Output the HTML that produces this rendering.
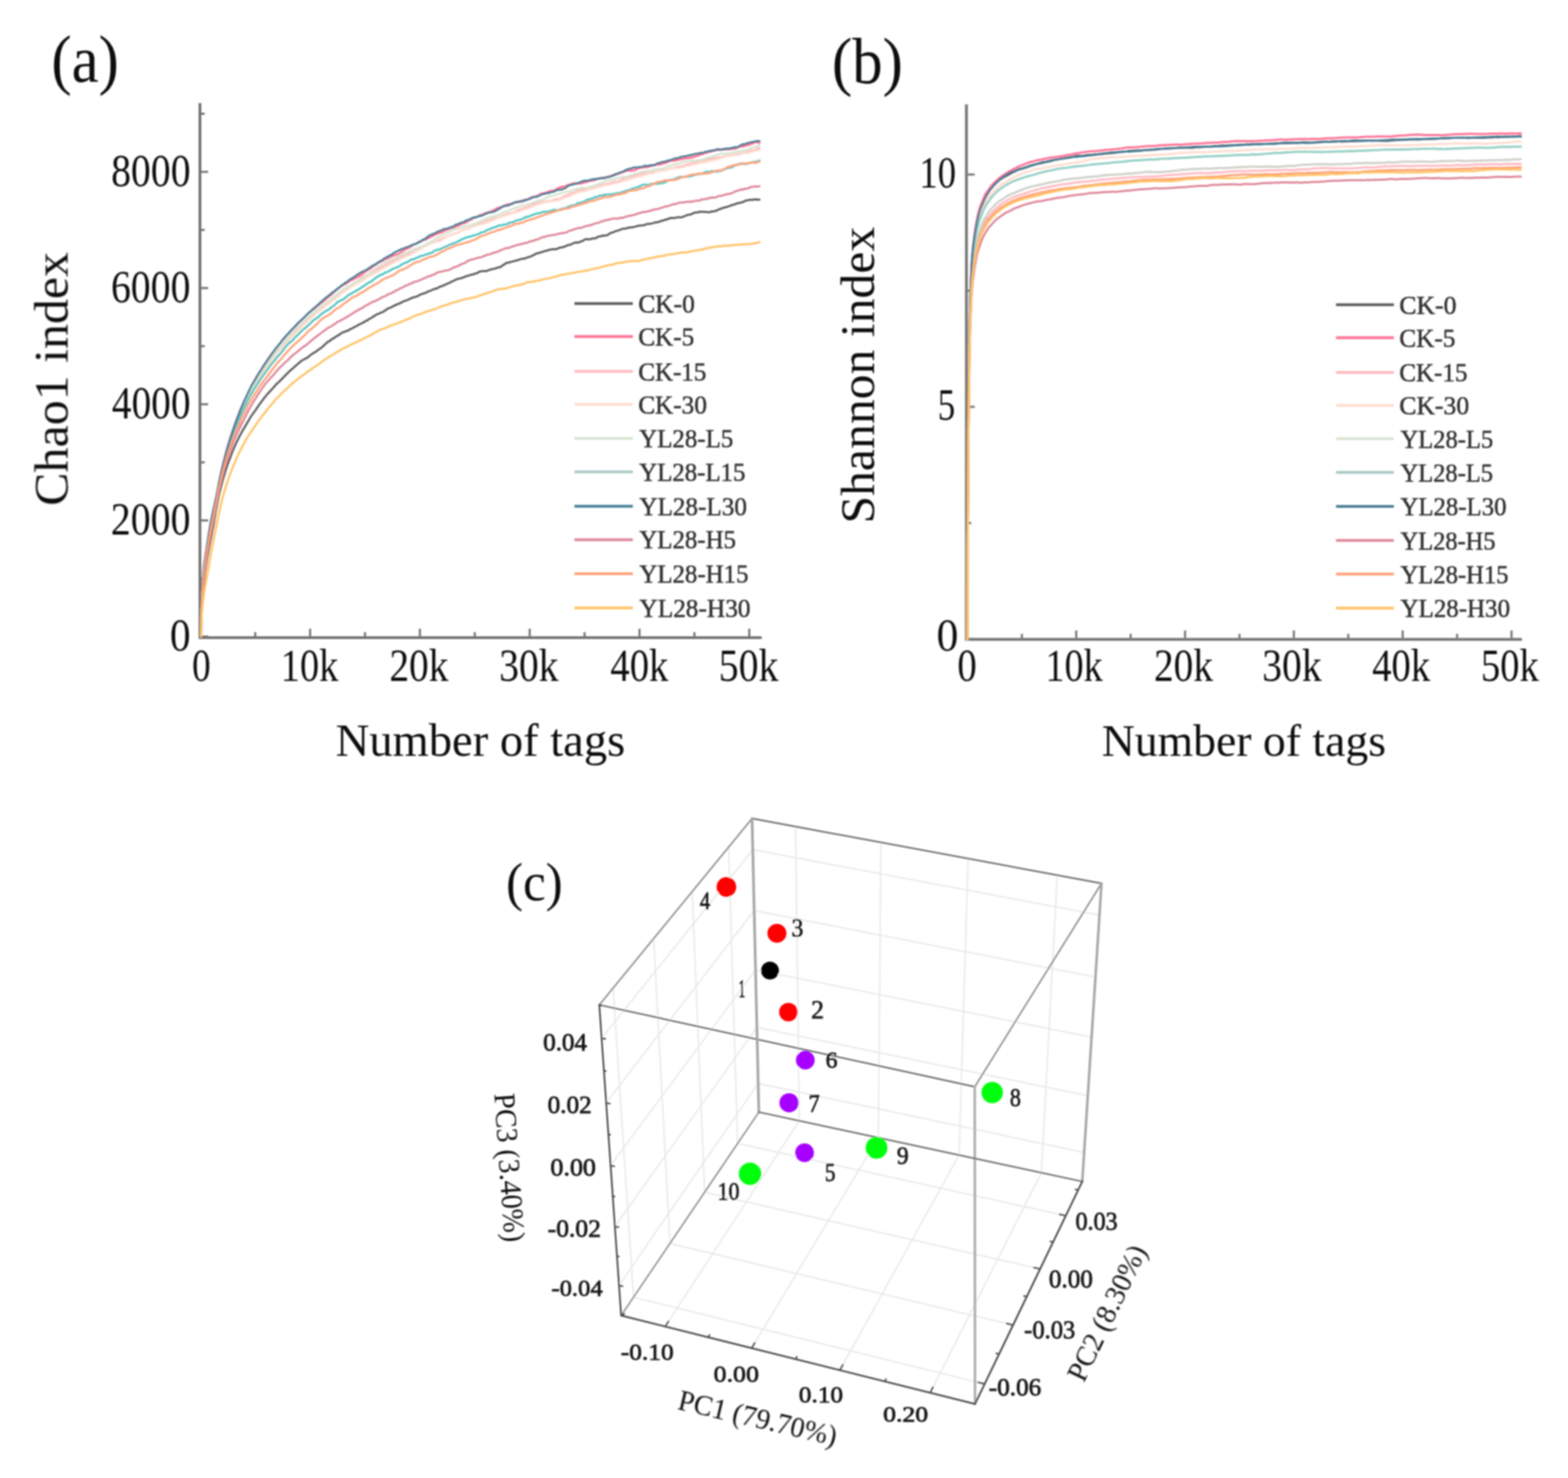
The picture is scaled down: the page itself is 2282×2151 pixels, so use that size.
<!DOCTYPE html>
<html><head><meta charset="utf-8"><title>Figure</title>
<style>
html,body{margin:0;padding:0;background:#fff;}
svg{display:block;}
text{font-family:'Liberation Serif','Times New Roman',serif;}
</style></head>
<body>
<svg width="2282" height="2151" viewBox="0 0 2282 2151">
<defs><filter id="soft" x="0" y="0" width="100%" height="100%" filterUnits="userSpaceOnUse"><feGaussianBlur stdDeviation="0.9"/></filter></defs>
<rect width="2282" height="2151" fill="#fff"/>
<g filter="url(#soft)">
<g id="panelA">
<path d="M291.0,150.0 V928.0 H1108.5" fill="none" stroke="#727272" stroke-width="4"/>
<line x1="293.0" y1="926.5" x2="303.0" y2="926.5" stroke="#727272" stroke-width="3"/>
<line x1="293.0" y1="757.4" x2="303.0" y2="757.4" stroke="#727272" stroke-width="3"/>
<line x1="293.0" y1="588.3" x2="303.0" y2="588.3" stroke="#727272" stroke-width="3"/>
<line x1="293.0" y1="419.2" x2="303.0" y2="419.2" stroke="#727272" stroke-width="3"/>
<line x1="293.0" y1="250.1" x2="303.0" y2="250.1" stroke="#727272" stroke-width="3"/>
<line x1="293.0" y1="842.0" x2="298.0" y2="842.0" stroke="#727272" stroke-width="3"/>
<line x1="293.0" y1="672.9" x2="298.0" y2="672.9" stroke="#727272" stroke-width="3"/>
<line x1="293.0" y1="503.8" x2="298.0" y2="503.8" stroke="#727272" stroke-width="3"/>
<line x1="293.0" y1="334.6" x2="298.0" y2="334.6" stroke="#727272" stroke-width="3"/>
<line x1="293.0" y1="165.5" x2="298.0" y2="165.5" stroke="#727272" stroke-width="3"/>
<line x1="451.3" y1="926.0" x2="451.3" y2="915.0" stroke="#727272" stroke-width="3"/>
<line x1="611.1" y1="926.0" x2="611.1" y2="915.0" stroke="#727272" stroke-width="3"/>
<line x1="770.9" y1="926.0" x2="770.9" y2="915.0" stroke="#727272" stroke-width="3"/>
<line x1="930.7" y1="926.0" x2="930.7" y2="915.0" stroke="#727272" stroke-width="3"/>
<line x1="1090.5" y1="926.0" x2="1090.5" y2="915.0" stroke="#727272" stroke-width="3"/>
<line x1="371.4" y1="926.0" x2="371.4" y2="920.0" stroke="#727272" stroke-width="3"/>
<line x1="531.2" y1="926.0" x2="531.2" y2="920.0" stroke="#727272" stroke-width="3"/>
<line x1="691.0" y1="926.0" x2="691.0" y2="920.0" stroke="#727272" stroke-width="3"/>
<line x1="850.8" y1="926.0" x2="850.8" y2="920.0" stroke="#727272" stroke-width="3"/>
<line x1="1010.6" y1="926.0" x2="1010.6" y2="920.0" stroke="#727272" stroke-width="3"/>
<polyline points="292.5,926.5 292.7,911.3 292.9,903.6 293.1,898.4 293.3,894.4 293.4,891.3 293.6,888.3 293.8,885.0 294.0,881.7 294.2,878.5 294.4,875.4 294.6,872.5 294.8,869.6 294.9,866.9 295.1,864.4 295.3,861.9 295.5,859.6 295.7,857.3 295.9,855.2 296.1,853.2 296.3,851.3 296.4,849.4 296.6,847.6 296.8,845.9 297.0,844.3 297.2,842.7 297.4,841.2 297.6,839.7 297.8,838.2 298.0,836.8 298.1,835.4 298.3,834.0 298.5,832.7 298.7,831.3 298.9,830.0 299.1,828.7 299.3,827.4 299.5,826.1 299.6,824.9 299.8,823.6 300.0,822.4 300.2,821.2 300.4,820.0 300.6,818.8 300.8,817.6 301.0,816.4 301.1,815.3 301.3,814.1 301.5,813.0 301.7,811.9 301.9,810.9 302.1,809.8 302.3,808.7 302.5,807.6 302.7,806.6 302.8,805.5 303.0,804.5 303.2,803.4 303.4,802.4 303.6,801.4 303.8,800.4 304.0,799.5 304.2,798.5 304.3,797.4 304.5,796.4 304.7,795.4 304.9,794.5 305.1,793.5 305.3,792.4 305.5,791.4 305.7,790.5 305.8,789.5 306.0,788.5 306.2,787.5 306.4,786.5 306.6,785.6 306.8,784.6 307.0,783.6 307.2,782.7 307.4,781.6 307.5,780.7 307.7,779.7 307.9,778.7 308.1,777.8 308.3,776.8 308.5,775.8 308.7,774.8 308.9,773.9 309.0,772.9 309.2,771.9 309.4,771.0 309.6,770.0 309.8,769.0 310.0,768.1 310.2,767.1 310.4,766.2 310.5,765.2 310.7,764.1 310.9,763.1 311.1,762.1 311.3,760.9 311.5,759.8 311.7,758.7 311.9,757.6 312.1,756.4 312.2,755.3 312.4,754.2 312.6,753.1 312.8,752.0 313.0,750.9 313.2,749.8 313.4,748.7 313.6,747.5 313.7,746.5 313.9,745.3 314.1,744.3 314.3,743.3 314.5,742.1 314.7,741.1 314.9,740.1 316.9,729.4 318.8,719.9 320.8,711.6 322.8,703.9 324.8,696.7 326.8,689.9 328.7,683.6 330.7,677.6 332.7,671.9 334.7,666.9 336.7,661.5 338.6,656.4 340.6,651.7 342.6,647.2 344.6,642.9 346.6,638.9 348.6,635.0 350.5,631.4 352.5,627.7 354.5,624.3 356.5,620.9 358.5,617.6 360.4,614.3 362.4,611.1 364.4,607.4 366.4,604.5 368.4,601.6 370.3,599.1 372.3,596.4 374.3,593.4 376.3,590.3 378.3,587.7 380.3,584.9 382.2,582.4 384.2,579.5 386.2,577.2 388.2,574.6 390.2,572.4 392.1,570.4 394.1,568.2 396.1,566.0 398.1,564.0 400.1,561.5 402.0,559.4 404.0,557.4 406.0,555.8 408.0,553.7 410.0,551.8 412.0,549.6 413.9,547.9 415.9,545.6 417.9,543.7 419.9,541.6 421.9,539.9 423.8,538.1 425.8,536.3 427.8,534.7 429.8,532.8 431.8,531.0 433.7,529.3 435.7,527.8 437.7,525.9 439.7,524.5 441.7,523.5 443.7,522.4 445.6,521.4 447.6,520.3 449.6,518.6 451.6,516.8 453.6,515.7 455.5,514.1 457.5,513.0 459.5,512.0 461.5,510.3 463.5,509.0 465.4,507.6 467.4,506.3 469.4,504.6 471.4,502.6 473.4,500.8 475.4,498.9 477.3,497.3 479.3,496.7 481.3,494.8 483.3,493.4 485.3,492.4 487.2,491.1 489.2,489.7 491.2,488.6 493.2,487.4 495.2,486.0 497.1,484.7 499.1,483.5 501.1,483.0 503.1,482.2 505.1,481.5 507.1,480.8 509.0,479.2 511.0,478.7 513.0,477.5 515.0,476.4 517.0,475.4 518.9,474.5 520.9,473.3 522.9,472.1 524.9,471.3 526.9,470.2 528.9,469.4 530.8,468.1 532.8,466.9 534.8,466.3 536.8,464.4 538.8,463.5 540.7,462.6 542.7,461.1 544.7,459.9 546.7,458.5 548.7,457.4 550.6,456.6 552.6,456.1 554.6,454.8 556.6,454.4 558.6,453.1 560.6,451.7 562.5,450.7 564.5,449.0 566.5,448.4 568.5,447.7 570.5,446.4 572.4,445.6 574.4,444.6 576.4,443.6 578.4,442.7 580.4,442.1 582.3,441.1 584.3,440.1 586.3,439.2 588.3,438.0 590.3,437.6 592.3,436.9 594.2,436.1 596.2,435.1 598.2,434.0 600.2,433.3 602.2,432.8 604.1,432.1 606.1,431.8 608.1,430.7 610.1,429.7 612.1,428.5 614.0,427.9 616.0,427.2 618.0,426.7 620.0,425.8 622.0,424.8 624.0,423.8 625.9,423.4 627.9,422.5 629.9,421.2 631.9,420.8 633.9,420.3 635.8,419.5 637.8,418.8 639.8,417.5 641.8,416.7 643.8,416.3 645.7,415.2 647.7,414.5 649.7,413.4 651.7,412.7 653.7,411.8 655.7,410.9 657.6,409.6 659.6,409.1 661.6,407.8 663.6,406.9 665.6,406.1 667.5,405.5 669.5,405.3 671.5,404.8 673.5,403.8 675.5,403.5 677.4,402.4 679.4,401.7 681.4,401.3 683.4,400.6 685.4,399.8 687.4,399.6 689.3,399.0 691.3,398.2 693.3,397.8 695.3,396.9 697.3,395.6 699.2,395.0 701.2,394.7 703.2,394.6 705.2,394.4 707.2,394.5 709.1,394.2 711.1,393.0 713.1,392.7 715.1,391.9 717.1,391.6 719.1,391.1 721.0,390.8 723.0,389.9 725.0,389.1 727.0,389.1 729.0,388.1 730.9,386.6 732.9,385.5 734.9,383.9 736.9,382.9 738.9,382.3 740.8,382.0 742.8,381.3 744.8,380.9 746.8,380.4 748.8,379.9 750.8,379.0 752.7,378.9 754.7,378.3 756.7,377.4 758.7,376.9 760.7,376.4 762.6,376.5 764.6,375.9 766.6,375.0 768.6,374.3 770.6,373.9 772.5,373.0 774.5,372.4 776.5,371.1 778.5,370.1 780.5,369.2 782.5,368.3 784.4,368.3 786.4,367.4 788.4,366.8 790.4,366.4 792.4,365.4 794.3,365.2 796.3,364.5 798.3,364.0 800.3,363.3 802.3,363.0 804.2,362.6 806.2,362.7 808.2,362.7 810.2,362.2 812.2,361.6 814.2,360.4 816.1,360.3 818.1,359.8 820.1,359.8 822.1,358.5 824.1,357.8 826.0,356.9 828.0,356.6 830.0,356.0 832.0,355.3 834.0,354.1 835.9,353.6 837.9,352.6 839.9,353.2 841.9,352.7 843.9,352.2 845.9,351.1 847.8,350.8 849.8,349.2 851.8,348.4 853.8,347.8 855.8,348.6 857.7,348.3 859.7,348.0 861.7,347.2 863.7,347.0 865.7,346.9 867.6,346.5 869.6,344.9 871.6,344.2 873.6,344.1 875.6,343.3 877.6,342.7 879.5,342.9 881.5,342.8 883.5,342.3 885.5,341.2 887.5,339.8 889.4,338.7 891.4,338.3 893.4,337.9 895.4,336.4 897.4,335.9 899.3,335.7 901.3,334.8 903.3,333.8 905.3,333.4 907.3,332.8 909.3,332.7 911.2,332.6 913.2,331.7 915.2,331.2 917.2,331.0 919.2,331.1 921.1,330.5 923.1,330.1 925.1,329.6 927.1,329.2 929.1,328.5 931.0,328.2 933.0,328.1 935.0,327.9 937.0,327.8 939.0,327.1 941.0,326.0 942.9,326.1 944.9,325.8 946.9,325.5 948.9,325.1 950.9,324.6 952.8,323.8 954.8,323.8 956.8,323.2 958.8,323.0 960.8,322.2 962.8,321.2 964.7,321.2 966.7,320.3 968.7,319.6 970.7,319.4 972.7,318.2 974.6,317.7 976.6,317.3 978.6,317.1 980.6,317.4 982.6,317.0 984.5,316.7 986.5,316.1 988.5,316.1 990.5,316.5 992.5,316.1 994.5,315.0 996.4,314.6 998.4,313.8 1000.4,312.7 1002.4,312.6 1004.4,312.3 1006.3,311.7 1008.3,310.5 1010.3,309.7 1012.3,309.3 1014.3,309.1 1016.2,309.1 1018.2,308.1 1020.2,308.2 1022.2,308.3 1024.2,308.3 1026.2,308.6 1028.1,308.5 1030.1,308.9 1032.1,308.9 1034.1,308.3 1036.1,307.7 1038.0,307.7 1040.0,307.1 1042.0,307.0 1044.0,305.9 1046.0,304.7 1047.9,304.4 1049.9,303.2 1051.9,302.8 1053.9,302.2 1055.9,301.4 1057.9,301.3 1059.8,300.4 1061.8,299.9 1063.8,299.0 1065.8,298.2 1067.8,297.8 1069.7,297.4 1071.7,296.2 1073.7,295.7 1075.7,295.6 1077.7,294.8 1079.6,294.6 1081.6,293.6 1083.6,293.0 1085.6,291.8 1087.6,291.4 1089.6,291.3 1091.5,290.8 1093.5,290.8 1095.5,291.0 1097.5,290.2 1099.5,290.0 1101.4,290.7 1103.4,290.5 1105.4,290.5" fill="none" stroke="#5c5c5c" stroke-width="3" stroke-linejoin="round" stroke-linecap="round"/>
<polyline points="292.5,926.5 292.7,908.2 292.9,898.6 293.1,892.1 293.3,887.1 293.4,883.0 293.6,878.7 293.8,873.5 294.0,868.2 294.2,863.0 294.4,858.3 294.6,853.9 294.8,850.0 294.9,846.6 295.1,843.5 295.3,840.8 295.5,838.4 295.7,836.2 295.9,834.2 296.1,832.3 296.3,830.5 296.4,828.7 296.6,827.1 296.8,825.6 297.0,824.1 297.2,822.6 297.4,821.2 297.6,819.8 297.8,818.4 298.0,817.1 298.1,815.8 298.3,814.5 298.5,813.2 298.7,811.9 298.9,810.6 299.1,809.4 299.3,808.1 299.5,806.9 299.6,805.7 299.8,804.5 300.0,803.3 300.2,802.0 300.4,800.8 300.6,799.6 300.8,798.4 301.0,797.1 301.1,795.9 301.3,794.6 301.5,793.3 301.7,792.0 301.9,790.8 302.1,789.5 302.3,788.2 302.5,786.9 302.7,785.7 302.8,784.5 303.0,783.2 303.2,782.0 303.4,780.8 303.6,779.5 303.8,778.3 304.0,777.1 304.2,775.9 304.3,774.8 304.5,773.6 304.7,772.4 304.9,771.3 305.1,770.2 305.3,769.1 305.5,767.9 305.7,766.9 305.8,765.8 306.0,764.7 306.2,763.6 306.4,762.6 306.6,761.6 306.8,760.6 307.0,759.7 307.2,758.7 307.4,757.7 307.5,756.8 307.7,755.9 307.9,754.9 308.1,753.9 308.3,753.0 308.5,752.1 308.7,751.2 308.9,750.3 309.0,749.4 309.2,748.5 309.4,747.7 309.6,746.8 309.8,745.9 310.0,745.0 310.2,744.2 310.4,743.3 310.5,742.4 310.7,741.5 310.9,740.8 311.1,740.0 311.3,739.1 311.5,738.2 311.7,737.3 311.9,736.4 312.1,735.5 312.2,734.6 312.4,733.7 312.6,732.8 312.8,732.0 313.0,731.1 313.2,730.2 313.4,729.4 313.6,728.5 313.7,727.5 313.9,726.8 314.1,725.8 314.3,724.9 314.5,724.1 314.7,723.3 314.9,722.5 316.9,712.7 318.8,702.2 320.8,692.4 322.8,683.4 324.8,674.8 326.8,666.8 328.7,659.3 330.7,652.0 332.7,645.3 334.7,638.6 336.7,632.5 338.6,626.9 340.6,621.2 342.6,615.4 344.6,609.9 346.6,604.6 348.6,599.1 350.5,594.9 352.5,590.7 354.5,586.3 356.5,582.0 358.5,578.1 360.4,574.1 362.4,570.1 364.4,566.2 366.4,562.3 368.4,557.6 370.3,553.9 372.3,550.2 374.3,547.4 376.3,543.9 378.3,540.8 380.3,537.6 382.2,534.4 384.2,531.4 386.2,528.4 388.2,525.3 390.2,522.2 392.1,519.3 394.1,516.5 396.1,513.9 398.1,512.0 400.1,509.3 402.0,506.9 404.0,504.3 406.0,501.9 408.0,499.5 410.0,496.9 412.0,494.1 413.9,491.7 415.9,489.6 417.9,487.3 419.9,485.6 421.9,483.3 423.8,481.1 425.8,478.8 427.8,476.5 429.8,474.7 431.8,473.0 433.7,470.8 435.7,468.7 437.7,466.5 439.7,464.5 441.7,463.0 443.7,461.1 445.6,458.8 447.6,457.1 449.6,455.0 451.6,454.0 453.6,452.2 455.5,450.6 457.5,449.4 459.5,447.8 461.5,445.7 463.5,444.1 465.4,442.3 467.4,440.9 469.4,439.6 471.4,437.8 473.4,435.9 475.4,434.4 477.3,432.8 479.3,431.2 481.3,429.6 483.3,427.8 485.3,426.2 487.2,424.1 489.2,422.2 491.2,420.7 493.2,418.9 495.2,417.5 497.1,416.3 499.1,414.9 501.1,413.6 503.1,413.3 505.1,411.5 507.1,410.4 509.0,409.1 511.0,407.7 513.0,407.2 515.0,406.0 517.0,405.0 518.9,404.0 520.9,402.7 522.9,401.8 524.9,400.5 526.9,399.0 528.9,397.6 530.8,396.3 532.8,394.3 534.8,393.5 536.8,391.8 538.8,391.2 540.7,389.7 542.7,387.9 544.7,386.7 546.7,385.4 548.7,383.7 550.6,382.7 552.6,381.2 554.6,380.4 556.6,379.6 558.6,378.5 560.6,377.6 562.5,376.7 564.5,375.9 566.5,374.9 568.5,373.5 570.5,372.9 572.4,372.2 574.4,371.4 576.4,370.6 578.4,370.2 580.4,369.3 582.3,368.2 584.3,366.6 586.3,365.1 588.3,364.1 590.3,362.4 592.3,361.8 594.2,361.1 596.2,360.0 598.2,358.7 600.2,357.3 602.2,356.1 604.1,355.3 606.1,354.5 608.1,353.1 610.1,351.7 612.1,351.3 614.0,350.2 616.0,349.8 618.0,348.9 620.0,348.3 622.0,347.3 624.0,346.0 625.9,345.2 627.9,344.4 629.9,343.3 631.9,342.2 633.9,341.2 635.8,340.2 637.8,339.6 639.8,339.1 641.8,338.2 643.8,337.8 645.7,336.4 647.7,335.6 649.7,334.6 651.7,333.9 653.7,333.4 655.7,332.3 657.6,331.6 659.6,331.4 661.6,330.8 663.6,329.9 665.6,328.8 667.5,328.4 669.5,327.7 671.5,325.8 673.5,325.1 675.5,325.1 677.4,323.9 679.4,323.2 681.4,321.6 683.4,320.3 685.4,319.8 687.4,318.4 689.3,317.1 691.3,316.8 693.3,315.7 695.3,315.1 697.3,313.6 699.2,312.8 701.2,312.8 703.2,312.0 705.2,310.5 707.2,310.0 709.1,309.5 711.1,309.2 713.1,308.3 715.1,307.3 717.1,306.5 719.1,305.9 721.0,304.4 723.0,303.3 725.0,302.5 727.0,302.0 729.0,301.4 730.9,300.9 732.9,299.8 734.9,299.2 736.9,298.0 738.9,297.5 740.8,297.3 742.8,296.7 744.8,296.6 746.8,295.6 748.8,294.7 750.8,294.6 752.7,294.6 754.7,294.1 756.7,293.5 758.7,292.7 760.7,291.7 762.6,291.2 764.6,290.7 766.6,290.8 768.6,289.7 770.6,288.7 772.5,287.8 774.5,286.7 776.5,286.7 778.5,286.3 780.5,285.4 782.5,284.8 784.4,283.8 786.4,282.5 788.4,281.6 790.4,281.3 792.4,281.0 794.3,280.2 796.3,279.7 798.3,279.1 800.3,278.0 802.3,277.8 804.2,277.5 806.2,277.1 808.2,276.0 810.2,275.0 812.2,274.0 814.2,272.9 816.1,272.6 818.1,272.0 820.1,271.5 822.1,271.1 824.1,270.6 826.0,269.3 828.0,269.1 830.0,268.5 832.0,267.8 834.0,267.0 835.9,266.3 837.9,267.0 839.9,267.0 841.9,267.0 843.9,266.9 845.9,267.0 847.8,266.2 849.8,265.7 851.8,265.1 853.8,264.7 855.8,264.1 857.7,263.3 859.7,263.1 861.7,262.7 863.7,262.4 865.7,262.2 867.6,260.7 869.6,260.2 871.6,259.9 873.6,259.8 875.6,258.8 877.6,259.1 879.5,258.6 881.5,258.2 883.5,257.5 885.5,257.3 887.5,256.3 889.4,255.9 891.4,255.3 893.4,254.2 895.4,253.6 897.4,253.8 899.3,253.2 901.3,252.6 903.3,251.4 905.3,251.1 907.3,250.1 909.3,249.2 911.2,249.0 913.2,248.2 915.2,248.0 917.2,248.6 919.2,248.2 921.1,248.0 923.1,247.9 925.1,247.2 927.1,245.7 929.1,245.0 931.0,244.2 933.0,244.2 935.0,243.7 937.0,243.4 939.0,243.6 941.0,243.1 942.9,242.9 944.9,242.6 946.9,241.6 948.9,241.5 950.9,240.3 952.8,240.2 954.8,239.2 956.8,239.7 958.8,239.4 960.8,239.3 962.8,238.7 964.7,238.0 966.7,237.7 968.7,236.8 970.7,236.1 972.7,235.6 974.6,234.7 976.6,233.8 978.6,233.6 980.6,234.2 982.6,233.2 984.5,233.4 986.5,232.5 988.5,232.3 990.5,231.8 992.5,231.1 994.5,231.4 996.4,230.6 998.4,230.5 1000.4,230.2 1002.4,230.1 1004.4,229.3 1006.3,229.8 1008.3,229.1 1010.3,228.2 1012.3,227.5 1014.3,226.9 1016.2,226.5 1018.2,225.5 1020.2,224.6 1022.2,224.5 1024.2,223.1 1026.2,222.7 1028.1,222.5 1030.1,221.6 1032.1,220.7 1034.1,221.0 1036.1,220.0 1038.0,219.5 1040.0,218.1 1042.0,218.2 1044.0,218.5 1046.0,218.2 1047.9,218.1 1049.9,217.3 1051.9,217.0 1053.9,217.8 1055.9,217.6 1057.9,217.1 1059.8,217.3 1061.8,217.2 1063.8,217.1 1065.8,216.5 1067.8,216.1 1069.7,216.7 1071.7,215.9 1073.7,214.2 1075.7,214.1 1077.7,212.8 1079.6,213.5 1081.6,213.0 1083.6,212.2 1085.6,211.6 1087.6,211.2 1089.6,210.8 1091.5,210.2 1093.5,209.3 1095.5,208.8 1097.5,207.3 1099.5,206.8 1101.4,206.7 1103.4,207.6 1105.4,207.9" fill="none" stroke="#ff6e93" stroke-width="3" stroke-linejoin="round" stroke-linecap="round"/>
<polyline points="292.5,926.5 292.7,908.6 292.9,899.2 293.1,892.9 293.3,888.0 293.4,884.1 293.6,879.9 293.8,875.0 294.0,869.9 294.2,865.0 294.4,860.4 294.6,856.3 294.8,852.5 294.9,849.2 295.1,846.2 295.3,843.5 295.5,841.1 295.7,838.9 295.9,836.8 296.1,834.9 296.3,833.1 296.4,831.4 296.6,829.8 296.8,828.2 297.0,826.7 297.2,825.2 297.4,823.8 297.6,822.4 297.8,821.0 298.0,819.6 298.1,818.3 298.3,817.0 298.5,815.7 298.7,814.4 298.9,813.1 299.1,811.9 299.3,810.6 299.5,809.4 299.6,808.1 299.8,806.9 300.0,805.7 300.2,804.4 300.4,803.2 300.6,802.0 300.8,800.8 301.0,799.5 301.1,798.3 301.3,797.0 301.5,795.8 301.7,794.5 301.9,793.3 302.1,792.0 302.3,790.7 302.5,789.5 302.7,788.2 302.8,787.0 303.0,785.8 303.2,784.6 303.4,783.4 303.6,782.2 303.8,781.0 304.0,779.9 304.2,778.7 304.3,777.5 304.5,776.4 304.7,775.3 304.9,774.3 305.1,773.2 305.3,772.1 305.5,771.1 305.7,770.0 305.8,768.9 306.0,767.9 306.2,766.9 306.4,765.9 306.6,764.9 306.8,763.9 307.0,762.9 307.2,761.9 307.4,761.0 307.5,760.0 307.7,759.0 307.9,758.0 308.1,757.0 308.3,756.1 308.5,755.2 308.7,754.2 308.9,753.3 309.0,752.4 309.2,751.5 309.4,750.6 309.6,749.7 309.8,748.9 310.0,748.0 310.2,747.0 310.4,746.1 310.5,745.3 310.7,744.4 310.9,743.5 311.1,742.6 311.3,741.7 311.5,740.8 311.7,739.9 311.9,739.0 312.1,738.1 312.2,737.2 312.4,736.3 312.6,735.4 312.8,734.6 313.0,733.6 313.2,732.7 313.4,731.8 313.6,730.9 313.7,730.0 313.9,729.2 314.1,728.2 314.3,727.3 314.5,726.4 314.7,725.6 314.9,724.7 316.9,714.7 318.8,704.1 320.8,694.7 322.8,685.9 324.8,677.7 326.8,670.0 328.7,662.5 330.7,655.6 332.7,649.0 334.7,642.5 336.7,636.7 338.6,630.8 340.6,625.0 342.6,619.5 344.6,614.5 346.6,609.5 348.6,604.9 350.5,600.0 352.5,595.7 354.5,591.4 356.5,587.2 358.5,583.4 360.4,579.1 362.4,575.2 364.4,571.8 366.4,567.7 368.4,564.3 370.3,560.7 372.3,557.3 374.3,553.9 376.3,550.7 378.3,547.6 380.3,544.7 382.2,541.7 384.2,539.0 386.2,536.0 388.2,532.8 390.2,530.3 392.1,527.3 394.1,524.2 396.1,521.8 398.1,519.1 400.1,516.9 402.0,514.7 404.0,512.3 406.0,509.7 408.0,507.1 410.0,504.9 412.0,502.4 413.9,500.1 415.9,497.9 417.9,495.8 419.9,493.6 421.9,491.9 423.8,489.6 425.8,487.2 427.8,485.1 429.8,482.8 431.8,480.7 433.7,478.5 435.7,476.6 437.7,474.7 439.7,472.6 441.7,470.3 443.7,468.0 445.6,466.1 447.6,464.3 449.6,462.6 451.6,460.8 453.6,459.1 455.5,457.7 457.5,455.5 459.5,453.8 461.5,452.0 463.5,450.2 465.4,448.5 467.4,446.9 469.4,445.5 471.4,444.3 473.4,443.0 475.4,441.5 477.3,439.7 479.3,438.2 481.3,436.2 483.3,435.6 485.3,434.0 487.2,432.8 489.2,431.4 491.2,429.8 493.2,428.4 495.2,427.1 497.1,425.7 499.1,423.7 501.1,422.1 503.1,420.7 505.1,419.3 507.1,418.3 509.0,417.2 511.0,416.2 513.0,413.9 515.0,412.4 517.0,411.1 518.9,409.5 520.9,408.1 522.9,406.8 524.9,405.1 526.9,403.7 528.9,403.0 530.8,401.5 532.8,400.9 534.8,399.7 536.8,398.5 538.8,397.2 540.7,396.0 542.7,395.5 544.7,394.7 546.7,393.1 548.7,392.1 550.6,391.4 552.6,390.1 554.6,389.5 556.6,388.4 558.6,387.3 560.6,386.2 562.5,385.0 564.5,383.6 566.5,382.6 568.5,381.5 570.5,380.2 572.4,379.2 574.4,377.7 576.4,377.1 578.4,376.1 580.4,375.1 582.3,374.1 584.3,373.5 586.3,372.7 588.3,371.9 590.3,371.2 592.3,369.9 594.2,369.0 596.2,368.2 598.2,366.6 600.2,365.4 602.2,364.2 604.1,363.7 606.1,362.8 608.1,361.7 610.1,360.4 612.1,359.9 614.0,358.7 616.0,358.1 618.0,357.3 620.0,356.8 622.0,355.8 624.0,355.3 625.9,353.9 627.9,353.2 629.9,353.1 631.9,352.4 633.9,351.7 635.8,350.6 637.8,350.2 639.8,350.2 641.8,349.0 643.8,348.0 645.7,347.0 647.7,345.6 649.7,344.3 651.7,343.4 653.7,342.5 655.7,342.1 657.6,341.5 659.6,341.0 661.6,339.9 663.6,339.4 665.6,338.9 667.5,338.3 669.5,336.6 671.5,335.8 673.5,334.9 675.5,333.7 677.4,333.6 679.4,333.5 681.4,332.9 683.4,331.7 685.4,330.9 687.4,329.9 689.3,328.4 691.3,328.1 693.3,326.8 695.3,325.6 697.3,324.6 699.2,324.9 701.2,324.3 703.2,323.9 705.2,323.2 707.2,322.4 709.1,321.1 711.1,320.9 713.1,320.2 715.1,319.1 717.1,318.2 719.1,318.1 721.0,317.0 723.0,317.1 725.0,316.8 727.0,316.0 729.0,315.0 730.9,314.2 732.9,313.4 734.9,312.6 736.9,311.6 738.9,310.9 740.8,310.2 742.8,310.0 744.8,309.9 746.8,309.4 748.8,308.4 750.8,307.5 752.7,306.3 754.7,305.7 756.7,305.0 758.7,304.2 760.7,303.5 762.6,303.0 764.6,302.2 766.6,301.7 768.6,300.9 770.6,299.7 772.5,298.4 774.5,298.0 776.5,297.4 778.5,296.8 780.5,296.5 782.5,295.4 784.4,295.0 786.4,294.8 788.4,294.4 790.4,293.8 792.4,293.5 794.3,293.3 796.3,292.9 798.3,292.9 800.3,292.4 802.3,292.0 804.2,291.3 806.2,290.9 808.2,290.2 810.2,289.8 812.2,290.2 814.2,289.4 816.1,288.5 818.1,287.3 820.1,286.3 822.1,285.1 824.1,284.5 826.0,283.8 828.0,282.9 830.0,282.1 832.0,281.3 834.0,280.8 835.9,280.0 837.9,279.2 839.9,278.1 841.9,276.8 843.9,276.3 845.9,275.9 847.8,275.7 849.8,275.9 851.8,275.3 853.8,274.5 855.8,273.5 857.7,272.7 859.7,272.4 861.7,272.1 863.7,271.5 865.7,271.0 867.6,270.3 869.6,270.3 871.6,270.3 873.6,269.7 875.6,269.2 877.6,269.0 879.5,268.5 881.5,267.9 883.5,267.2 885.5,267.0 887.5,266.6 889.4,265.6 891.4,265.5 893.4,264.9 895.4,264.4 897.4,264.2 899.3,264.1 901.3,263.2 903.3,262.3 905.3,261.3 907.3,259.9 909.3,259.2 911.2,258.5 913.2,258.3 915.2,258.0 917.2,257.6 919.2,257.5 921.1,256.5 923.1,256.1 925.1,255.2 927.1,254.7 929.1,253.9 931.0,253.0 933.0,252.8 935.0,252.7 937.0,252.4 939.0,251.9 941.0,252.1 942.9,252.0 944.9,251.5 946.9,251.4 948.9,250.3 950.9,250.2 952.8,249.7 954.8,249.9 956.8,249.7 958.8,248.7 960.8,248.3 962.8,248.0 964.7,247.5 966.7,247.6 968.7,247.2 970.7,246.8 972.7,246.5 974.6,245.5 976.6,244.7 978.6,244.7 980.6,244.0 982.6,243.9 984.5,243.2 986.5,242.8 988.5,242.5 990.5,242.2 992.5,241.4 994.5,241.0 996.4,240.8 998.4,239.9 1000.4,238.9 1002.4,238.6 1004.4,238.2 1006.3,237.6 1008.3,237.6 1010.3,236.6 1012.3,235.9 1014.3,235.8 1016.2,234.7 1018.2,234.4 1020.2,234.3 1022.2,233.9 1024.2,233.9 1026.2,232.4 1028.1,232.5 1030.1,232.3 1032.1,231.6 1034.1,231.1 1036.1,230.8 1038.0,230.3 1040.0,230.1 1042.0,229.7 1044.0,229.2 1046.0,229.2 1047.9,229.1 1049.9,228.8 1051.9,228.3 1053.9,227.4 1055.9,227.2 1057.9,226.4 1059.8,226.4 1061.8,226.4 1063.8,226.3 1065.8,226.1 1067.8,225.4 1069.7,225.5 1071.7,224.7 1073.7,224.6 1075.7,224.5 1077.7,223.7 1079.6,222.5 1081.6,222.3 1083.6,222.1 1085.6,221.8 1087.6,221.4 1089.6,220.4 1091.5,219.6 1093.5,219.2 1095.5,218.9 1097.5,218.4 1099.5,217.3 1101.4,216.6 1103.4,215.9 1105.4,215.3" fill="none" stroke="#ffb8c0" stroke-width="3" stroke-linejoin="round" stroke-linecap="round"/>
<polyline points="292.5,926.5 292.7,908.8 292.9,899.4 293.1,893.1 293.3,888.3 293.4,884.4 293.6,880.3 293.8,875.4 294.0,870.4 294.2,865.6 294.4,861.1 294.6,857.0 294.8,853.3 294.9,850.0 295.1,847.0 295.3,844.4 295.5,842.0 295.7,839.7 295.9,837.7 296.1,835.8 296.3,833.9 296.4,832.2 296.6,830.6 296.8,829.0 297.0,827.5 297.2,826.0 297.4,824.5 297.6,823.1 297.8,821.7 298.0,820.4 298.1,819.1 298.3,817.8 298.5,816.5 298.7,815.2 298.9,813.9 299.1,812.6 299.3,811.4 299.5,810.1 299.6,808.9 299.8,807.7 300.0,806.4 300.2,805.2 300.4,804.0 300.6,802.8 300.8,801.6 301.0,800.3 301.1,799.1 301.3,797.8 301.5,796.5 301.7,795.3 301.9,794.0 302.1,792.8 302.3,791.5 302.5,790.3 302.7,789.1 302.8,787.9 303.0,786.7 303.2,785.5 303.4,784.3 303.6,783.1 303.8,782.0 304.0,780.8 304.2,779.7 304.3,778.5 304.5,777.4 304.7,776.4 304.9,775.2 305.1,774.2 305.3,773.1 305.5,772.0 305.7,770.9 305.8,769.9 306.0,768.8 306.2,767.8 306.4,766.8 306.6,765.7 306.8,764.7 307.0,763.7 307.2,762.8 307.4,761.8 307.5,760.8 307.7,759.9 307.9,758.9 308.1,758.0 308.3,757.0 308.5,756.1 308.7,755.2 308.9,754.3 309.0,753.3 309.2,752.4 309.4,751.5 309.6,750.6 309.8,749.7 310.0,748.8 310.2,747.9 310.4,747.1 310.5,746.1 310.7,745.3 310.9,744.4 311.1,743.4 311.3,742.5 311.5,741.6 311.7,740.7 311.9,739.8 312.1,738.9 312.2,737.9 312.4,737.0 312.6,736.1 312.8,735.2 313.0,734.4 313.2,733.5 313.4,732.6 313.6,731.7 313.7,730.8 313.9,729.9 314.1,729.0 314.3,728.0 314.5,727.2 314.7,726.3 314.9,725.5 316.9,715.5 318.8,705.1 320.8,695.7 322.8,687.1 324.8,678.9 326.8,671.1 328.7,663.6 330.7,656.6 332.7,650.1 334.7,643.8 336.7,637.9 338.6,632.0 340.6,626.2 342.6,620.8 344.6,615.5 346.6,610.6 348.6,605.7 350.5,601.1 352.5,596.6 354.5,592.2 356.5,588.3 358.5,584.5 360.4,580.7 362.4,577.0 364.4,573.3 366.4,569.8 368.4,566.3 370.3,563.3 372.3,559.8 374.3,556.6 376.3,553.0 378.3,549.6 380.3,546.3 382.2,543.2 384.2,540.1 386.2,537.0 388.2,534.1 390.2,531.4 392.1,528.5 394.1,525.7 396.1,522.9 398.1,520.4 400.1,517.7 402.0,515.2 404.0,512.9 406.0,511.0 408.0,508.6 410.0,506.8 412.0,504.6 413.9,502.6 415.9,500.2 417.9,498.0 419.9,495.6 421.9,493.5 423.8,491.6 425.8,489.3 427.8,487.2 429.8,485.3 431.8,483.3 433.7,481.2 435.7,478.9 437.7,476.9 439.7,474.7 441.7,472.9 443.7,471.4 445.6,469.4 447.6,467.6 449.6,465.7 451.6,463.6 453.6,461.9 455.5,460.4 457.5,458.7 459.5,457.0 461.5,455.1 463.5,453.3 465.4,452.2 467.4,450.7 469.4,449.1 471.4,447.2 473.4,445.3 475.4,444.4 477.3,442.8 479.3,441.6 481.3,440.1 483.3,438.1 485.3,436.5 487.2,435.2 489.2,433.3 491.2,432.1 493.2,430.5 495.2,428.4 497.1,426.9 499.1,425.5 501.1,424.3 503.1,423.1 505.1,421.6 507.1,420.3 509.0,418.6 511.0,417.5 513.0,416.6 515.0,415.4 517.0,413.8 518.9,412.5 520.9,411.5 522.9,410.6 524.9,409.8 526.9,409.0 528.9,407.8 530.8,406.3 532.8,404.6 534.8,403.4 536.8,402.1 538.8,401.4 540.7,400.2 542.7,399.2 544.7,398.0 546.7,396.9 548.7,396.0 550.6,394.6 552.6,393.5 554.6,392.2 556.6,390.9 558.6,389.7 560.6,388.6 562.5,387.9 564.5,386.8 566.5,385.7 568.5,384.2 570.5,383.2 572.4,382.3 574.4,381.3 576.4,380.2 578.4,379.2 580.4,378.2 582.3,377.0 584.3,376.4 586.3,375.3 588.3,374.3 590.3,373.2 592.3,372.4 594.2,371.7 596.2,370.4 598.2,369.8 600.2,369.0 602.2,367.2 604.1,366.3 606.1,366.0 608.1,364.5 610.1,363.2 612.1,362.4 614.0,360.7 616.0,359.8 618.0,358.7 620.0,358.0 622.0,356.9 624.0,355.6 625.9,354.9 627.9,353.5 629.9,352.4 631.9,352.1 633.9,351.2 635.8,349.4 637.8,349.0 639.8,348.4 641.8,347.3 643.8,346.7 645.7,345.6 647.7,345.2 649.7,344.4 651.7,343.4 653.7,342.4 655.7,342.1 657.6,341.6 659.6,341.1 661.6,340.0 663.6,339.4 665.6,338.4 667.5,337.7 669.5,336.8 671.5,335.8 673.5,335.2 675.5,334.5 677.4,333.7 679.4,332.7 681.4,332.3 683.4,331.8 685.4,330.8 687.4,330.2 689.3,329.1 691.3,328.5 693.3,327.9 695.3,327.6 697.3,327.1 699.2,326.3 701.2,326.3 703.2,325.8 705.2,325.1 707.2,323.9 709.1,323.6 711.1,322.7 713.1,322.1 715.1,321.1 717.1,320.3 719.1,319.7 721.0,318.8 723.0,317.5 725.0,317.0 727.0,316.2 729.0,315.7 730.9,314.8 732.9,314.3 734.9,313.7 736.9,313.3 738.9,312.4 740.8,311.7 742.8,310.9 744.8,310.3 746.8,309.9 748.8,309.6 750.8,308.9 752.7,308.4 754.7,307.9 756.7,307.1 758.7,306.1 760.7,305.6 762.6,305.0 764.6,304.4 766.6,303.5 768.6,302.9 770.6,302.0 772.5,301.2 774.5,300.6 776.5,299.8 778.5,298.8 780.5,298.4 782.5,297.6 784.4,296.6 786.4,296.0 788.4,296.1 790.4,295.2 792.4,294.4 794.3,294.2 796.3,294.0 798.3,293.2 800.3,292.7 802.3,293.0 804.2,292.7 806.2,292.2 808.2,291.9 810.2,291.9 812.2,291.4 814.2,290.8 816.1,290.1 818.1,289.1 820.1,288.7 822.1,287.8 824.1,286.7 826.0,286.2 828.0,285.6 830.0,284.8 832.0,283.4 834.0,282.5 835.9,281.9 837.9,281.4 839.9,280.2 841.9,279.7 843.9,279.0 845.9,279.0 847.8,278.6 849.8,278.3 851.8,277.7 853.8,277.1 855.8,276.4 857.7,275.7 859.7,275.5 861.7,275.1 863.7,274.6 865.7,273.9 867.6,273.3 869.6,272.5 871.6,271.8 873.6,271.9 875.6,271.0 877.6,270.3 879.5,269.3 881.5,269.5 883.5,269.3 885.5,269.0 887.5,268.2 889.4,267.8 891.4,267.5 893.4,267.0 895.4,266.5 897.4,265.9 899.3,265.7 901.3,265.5 903.3,264.5 905.3,263.8 907.3,263.3 909.3,262.8 911.2,262.2 913.2,261.4 915.2,260.8 917.2,260.5 919.2,259.7 921.1,258.7 923.1,258.4 925.1,257.9 927.1,257.4 929.1,257.0 931.0,256.6 933.0,256.2 935.0,255.9 937.0,255.0 939.0,254.6 941.0,253.5 942.9,253.2 944.9,252.7 946.9,252.6 948.9,252.2 950.9,251.7 952.8,250.5 954.8,249.8 956.8,249.3 958.8,248.7 960.8,248.0 962.8,247.1 964.7,246.9 966.7,247.1 968.7,246.9 970.7,246.5 972.7,246.1 974.6,245.5 976.6,245.2 978.6,245.1 980.6,244.7 982.6,244.4 984.5,244.4 986.5,244.5 988.5,244.3 990.5,243.8 992.5,243.7 994.5,243.1 996.4,242.4 998.4,241.4 1000.4,241.5 1002.4,240.7 1004.4,240.7 1006.3,239.7 1008.3,239.0 1010.3,239.1 1012.3,239.3 1014.3,238.5 1016.2,237.7 1018.2,237.0 1020.2,236.7 1022.2,236.2 1024.2,236.0 1026.2,235.9 1028.1,235.7 1030.1,234.5 1032.1,234.0 1034.1,233.4 1036.1,233.4 1038.0,233.2 1040.0,232.7 1042.0,232.0 1044.0,231.7 1046.0,231.2 1047.9,230.3 1049.9,229.9 1051.9,229.3 1053.9,228.5 1055.9,227.7 1057.9,226.7 1059.8,226.9 1061.8,226.9 1063.8,226.2 1065.8,225.6 1067.8,225.1 1069.7,224.5 1071.7,223.8 1073.7,223.1 1075.7,222.5 1077.7,222.8 1079.6,222.7 1081.6,223.0 1083.6,222.7 1085.6,222.3 1087.6,222.9 1089.6,222.3 1091.5,221.3 1093.5,221.0 1095.5,220.3 1097.5,219.6 1099.5,218.9 1101.4,218.8 1103.4,218.9 1105.4,218.1" fill="none" stroke="#ffdccc" stroke-width="3" stroke-linejoin="round" stroke-linecap="round"/>
<polyline points="292.5,926.5 292.7,908.5 292.9,899.0 293.1,892.6 293.3,887.7 293.4,883.7 293.6,879.5 293.8,874.5 294.0,869.3 294.2,864.4 294.4,859.8 294.6,855.5 294.8,851.7 294.9,848.3 295.1,845.3 295.3,842.6 295.5,840.2 295.7,838.0 295.9,836.0 296.1,834.1 296.3,832.2 296.4,830.5 296.6,828.9 296.8,827.3 297.0,825.8 297.2,824.3 297.4,822.9 297.6,821.5 297.8,820.1 298.0,818.8 298.1,817.4 298.3,816.1 298.5,814.9 298.7,813.6 298.9,812.3 299.1,811.0 299.3,809.8 299.5,808.5 299.6,807.3 299.8,806.1 300.0,804.9 300.2,803.7 300.4,802.4 300.6,801.2 300.8,800.0 301.0,798.7 301.1,797.5 301.3,796.2 301.5,795.0 301.7,793.7 301.9,792.4 302.1,791.2 302.3,790.0 302.5,788.7 302.7,787.5 302.8,786.3 303.0,785.0 303.2,783.8 303.4,782.6 303.6,781.4 303.8,780.2 304.0,778.9 304.2,777.8 304.3,776.6 304.5,775.5 304.7,774.4 304.9,773.3 305.1,772.1 305.3,771.0 305.5,769.9 305.7,768.9 305.8,767.8 306.0,766.8 306.2,765.8 306.4,764.8 306.6,763.8 306.8,762.8 307.0,761.8 307.2,760.9 307.4,759.9 307.5,759.0 307.7,758.0 307.9,757.0 308.1,756.1 308.3,755.2 308.5,754.2 308.7,753.3 308.9,752.3 309.0,751.4 309.2,750.5 309.4,749.6 309.6,748.7 309.8,747.9 310.0,747.1 310.2,746.2 310.4,745.2 310.5,744.3 310.7,743.5 310.9,742.6 311.1,741.6 311.3,740.8 311.5,740.0 311.7,739.2 311.9,738.3 312.1,737.4 312.2,736.7 312.4,735.8 312.6,734.8 312.8,733.9 313.0,733.1 313.2,732.3 313.4,731.4 313.6,730.5 313.7,729.6 313.9,728.6 314.1,727.7 314.3,726.7 314.5,725.6 314.7,724.6 314.9,723.7 316.9,713.5 318.8,702.8 320.8,693.4 322.8,684.4 324.8,676.0 326.8,668.0 328.7,660.6 330.7,653.7 332.7,647.0 334.7,640.8 336.7,634.9 338.6,629.0 340.6,623.6 342.6,618.4 344.6,613.1 346.6,608.3 348.6,603.5 350.5,598.6 352.5,594.3 354.5,589.8 356.5,585.5 358.5,581.2 360.4,577.0 362.4,573.3 364.4,569.6 366.4,565.6 368.4,562.2 370.3,558.9 372.3,555.5 374.3,552.7 376.3,549.1 378.3,545.6 380.3,542.3 382.2,539.1 384.2,536.2 386.2,533.8 388.2,530.7 390.2,527.9 392.1,525.1 394.1,522.4 396.1,519.8 398.1,517.2 400.1,514.6 402.0,512.2 404.0,509.4 406.0,507.4 408.0,505.3 410.0,503.2 412.0,500.8 413.9,498.2 415.9,495.3 417.9,493.2 419.9,491.1 421.9,488.9 423.8,486.6 425.8,484.5 427.8,482.2 429.8,479.8 431.8,477.6 433.7,476.0 435.7,474.0 437.7,472.2 439.7,470.1 441.7,468.2 443.7,466.4 445.6,464.7 447.6,463.0 449.6,460.5 451.6,459.2 453.6,457.7 455.5,456.1 457.5,454.5 459.5,453.0 461.5,451.5 463.5,449.9 465.4,447.7 467.4,445.8 469.4,444.5 471.4,443.0 473.4,441.8 475.4,440.4 477.3,438.4 479.3,437.5 481.3,435.7 483.3,434.0 485.3,432.4 487.2,430.8 489.2,429.2 491.2,427.7 493.2,426.2 495.2,425.2 497.1,423.4 499.1,421.7 501.1,420.4 503.1,419.3 505.1,417.6 507.1,417.0 509.0,415.9 511.0,414.6 513.0,413.2 515.0,411.8 517.0,411.0 518.9,409.9 520.9,408.7 522.9,407.7 524.9,406.5 526.9,405.7 528.9,404.3 530.8,403.1 532.8,401.2 534.8,400.0 536.8,398.2 538.8,396.3 540.7,394.9 542.7,393.8 544.7,392.2 546.7,391.1 548.7,389.9 550.6,388.4 552.6,386.8 554.6,385.4 556.6,384.4 558.6,383.5 560.6,382.2 562.5,381.2 564.5,380.0 566.5,379.2 568.5,378.4 570.5,377.3 572.4,376.1 574.4,375.8 576.4,374.7 578.4,373.2 580.4,372.8 582.3,371.5 584.3,370.8 586.3,369.3 588.3,368.4 590.3,367.5 592.3,367.3 594.2,366.7 596.2,365.4 598.2,365.0 600.2,363.9 602.2,363.3 604.1,361.9 606.1,361.6 608.1,360.8 610.1,359.8 612.1,359.2 614.0,358.5 616.0,358.2 618.0,356.7 620.0,356.0 622.0,354.2 624.0,353.4 625.9,352.7 627.9,351.5 629.9,350.9 631.9,349.0 633.9,347.9 635.8,346.1 637.8,345.7 639.8,344.2 641.8,342.8 643.8,342.1 645.7,341.4 647.7,340.2 649.7,339.1 651.7,338.5 653.7,337.4 655.7,336.4 657.6,335.2 659.6,334.5 661.6,333.9 663.6,333.3 665.6,332.9 667.5,332.1 669.5,331.7 671.5,331.4 673.5,330.2 675.5,328.9 677.4,329.7 679.4,329.3 681.4,328.3 683.4,327.5 685.4,327.3 687.4,327.0 689.3,325.8 691.3,325.8 693.3,325.2 695.3,323.6 697.3,322.8 699.2,321.8 701.2,321.0 703.2,320.2 705.2,319.8 707.2,318.3 709.1,317.0 711.1,316.9 713.1,316.3 715.1,315.7 717.1,314.9 719.1,314.6 721.0,314.3 723.0,313.1 725.0,313.0 727.0,311.8 729.0,311.6 730.9,310.6 732.9,309.2 734.9,308.2 736.9,307.4 738.9,307.0 740.8,305.9 742.8,305.4 744.8,304.4 746.8,303.8 748.8,303.0 750.8,301.9 752.7,301.9 754.7,300.9 756.7,300.7 758.7,298.9 760.7,298.6 762.6,299.0 764.6,298.6 766.6,297.6 768.6,297.3 770.6,297.2 772.5,295.9 774.5,295.7 776.5,294.3 778.5,293.8 780.5,293.4 782.5,291.9 784.4,291.7 786.4,291.3 788.4,291.6 790.4,290.4 792.4,289.4 794.3,288.3 796.3,287.2 798.3,286.3 800.3,285.2 802.3,285.2 804.2,284.7 806.2,284.6 808.2,283.5 810.2,283.2 812.2,282.7 814.2,281.9 816.1,281.3 818.1,280.7 820.1,280.0 822.1,279.8 824.1,279.3 826.0,278.9 828.0,278.7 830.0,278.0 832.0,277.2 834.0,276.3 835.9,275.5 837.9,275.6 839.9,274.6 841.9,274.9 843.9,274.3 845.9,273.6 847.8,273.2 849.8,273.7 851.8,273.4 853.8,273.4 855.8,273.0 857.7,272.4 859.7,271.6 861.7,271.1 863.7,270.3 865.7,270.4 867.6,269.1 869.6,268.9 871.6,267.7 873.6,266.8 875.6,266.1 877.6,265.7 879.5,264.7 881.5,263.4 883.5,262.2 885.5,261.7 887.5,261.3 889.4,261.5 891.4,261.0 893.4,261.0 895.4,260.2 897.4,259.5 899.3,258.9 901.3,258.2 903.3,258.6 905.3,258.1 907.3,257.4 909.3,257.4 911.2,257.3 913.2,256.8 915.2,256.2 917.2,255.1 919.2,254.7 921.1,254.3 923.1,253.3 925.1,252.5 927.1,252.3 929.1,251.8 931.0,251.1 933.0,250.4 935.0,249.9 937.0,249.8 939.0,248.8 941.0,248.4 942.9,248.8 944.9,248.7 946.9,248.4 948.9,247.8 950.9,247.0 952.8,246.9 954.8,246.4 956.8,246.5 958.8,245.5 960.8,246.3 962.8,245.7 964.7,245.2 966.7,243.9 968.7,243.9 970.7,242.8 972.7,242.3 974.6,241.3 976.6,240.7 978.6,240.3 980.6,239.4 982.6,239.0 984.5,238.9 986.5,238.3 988.5,237.8 990.5,236.6 992.5,236.0 994.5,235.3 996.4,235.2 998.4,234.7 1000.4,234.8 1002.4,233.7 1004.4,234.1 1006.3,233.9 1008.3,233.9 1010.3,234.5 1012.3,234.2 1014.3,233.2 1016.2,233.5 1018.2,233.4 1020.2,232.8 1022.2,232.4 1024.2,231.9 1026.2,231.1 1028.1,230.1 1030.1,229.3 1032.1,229.2 1034.1,228.4 1036.1,228.6 1038.0,227.4 1040.0,226.3 1042.0,225.5 1044.0,226.0 1046.0,224.9 1047.9,224.0 1049.9,223.4 1051.9,223.7 1053.9,223.4 1055.9,223.6 1057.9,223.3 1059.8,224.0 1061.8,223.2 1063.8,223.0 1065.8,221.8 1067.8,221.6 1069.7,222.0 1071.7,221.1 1073.7,220.5 1075.7,220.3 1077.7,220.1 1079.6,220.2 1081.6,219.5 1083.6,218.9 1085.6,218.5 1087.6,218.2 1089.6,216.7 1091.5,216.3 1093.5,215.3 1095.5,214.4 1097.5,213.9 1099.5,213.4 1101.4,212.6 1103.4,211.6 1105.4,211.0" fill="none" stroke="#d8e4d2" stroke-width="3" stroke-linejoin="round" stroke-linecap="round"/>
<polyline points="292.5,926.5 292.7,909.0 292.9,899.8 293.1,893.6 293.3,888.9 293.4,885.1 293.6,881.1 293.8,876.4 294.0,871.5 294.2,866.9 294.4,862.5 294.6,858.5 294.8,854.9 294.9,851.6 295.1,848.7 295.3,846.1 295.5,843.7 295.7,841.5 295.9,839.4 296.1,837.5 296.3,835.6 296.4,833.9 296.6,832.2 296.8,830.6 297.0,829.1 297.2,827.6 297.4,826.2 297.6,824.8 297.8,823.4 298.0,822.0 298.1,820.7 298.3,819.3 298.5,818.0 298.7,816.7 298.9,815.4 299.1,814.2 299.3,812.9 299.5,811.7 299.6,810.4 299.8,809.2 300.0,808.0 300.2,806.7 300.4,805.5 300.6,804.3 300.8,803.1 301.0,801.9 301.1,800.7 301.3,799.4 301.5,798.2 301.7,797.0 301.9,795.7 302.1,794.5 302.3,793.3 302.5,792.1 302.7,790.8 302.8,789.6 303.0,788.5 303.2,787.3 303.4,786.1 303.6,784.9 303.8,783.8 304.0,782.6 304.2,781.5 304.3,780.3 304.5,779.2 304.7,778.2 304.9,777.1 305.1,776.0 305.3,774.9 305.5,773.9 305.7,772.8 305.8,771.8 306.0,770.7 306.2,769.6 306.4,768.7 306.6,767.6 306.8,766.6 307.0,765.6 307.2,764.7 307.4,763.7 307.5,762.7 307.7,761.8 307.9,760.9 308.1,760.0 308.3,759.0 308.5,758.1 308.7,757.2 308.9,756.3 309.0,755.5 309.2,754.5 309.4,753.6 309.6,752.8 309.8,751.9 310.0,750.9 310.2,750.0 310.4,749.1 310.5,748.1 310.7,747.2 310.9,746.2 311.1,745.3 311.3,744.4 311.5,743.4 311.7,742.5 311.9,741.5 312.1,740.7 312.2,739.8 312.4,738.9 312.6,738.0 312.8,737.0 313.0,736.2 313.2,735.3 313.4,734.4 313.6,733.4 313.7,732.5 313.9,731.6 314.1,730.7 314.3,729.7 314.5,728.9 314.7,727.9 314.9,726.9 316.9,717.1 318.8,706.7 320.8,697.5 322.8,688.8 324.8,680.9 326.8,673.3 328.7,666.1 330.7,659.4 332.7,653.1 334.7,647.0 336.7,640.9 338.6,635.2 340.6,629.3 342.6,624.1 344.6,618.9 346.6,613.2 348.6,608.5 350.5,603.9 352.5,599.6 354.5,595.2 356.5,591.2 358.5,587.3 360.4,583.3 362.4,579.1 364.4,575.4 366.4,572.1 368.4,568.8 370.3,565.8 372.3,562.6 374.3,559.2 376.3,556.2 378.3,553.4 380.3,550.3 382.2,547.6 384.2,544.7 386.2,542.0 388.2,539.2 390.2,536.5 392.1,533.9 394.1,531.1 396.1,528.4 398.1,526.1 400.1,523.8 402.0,521.1 404.0,518.8 406.0,516.9 408.0,514.7 410.0,512.1 412.0,509.8 413.9,507.1 415.9,504.4 417.9,502.2 419.9,500.1 421.9,498.3 423.8,496.8 425.8,495.5 427.8,493.0 429.8,490.6 431.8,489.0 433.7,487.0 435.7,485.2 437.7,482.7 439.7,481.1 441.7,478.9 443.7,478.0 445.6,476.0 447.6,474.3 449.6,472.4 451.6,470.8 453.6,468.7 455.5,466.3 457.5,465.1 459.5,464.0 461.5,462.6 463.5,461.4 465.4,459.1 467.4,457.7 469.4,455.8 471.4,454.6 473.4,453.0 475.4,452.1 477.3,451.2 479.3,449.9 481.3,447.9 483.3,446.6 485.3,445.3 487.2,443.6 489.2,441.7 491.2,439.8 493.2,438.5 495.2,437.7 497.1,436.8 499.1,435.7 501.1,434.5 503.1,433.0 505.1,431.0 507.1,429.6 509.0,428.3 511.0,427.4 513.0,426.3 515.0,425.0 517.0,423.9 518.9,422.8 520.9,421.8 522.9,420.5 524.9,419.3 526.9,417.7 528.9,416.8 530.8,415.3 532.8,413.8 534.8,412.4 536.8,411.2 538.8,410.5 540.7,409.4 542.7,407.7 544.7,406.1 546.7,404.5 548.7,403.3 550.6,401.8 552.6,400.9 554.6,399.7 556.6,399.2 558.6,397.9 560.6,396.8 562.5,395.9 564.5,395.5 566.5,394.5 568.5,393.1 570.5,392.0 572.4,390.9 574.4,390.3 576.4,389.6 578.4,388.5 580.4,387.8 582.3,386.7 584.3,385.1 586.3,383.9 588.3,383.1 590.3,382.5 592.3,381.4 594.2,380.7 596.2,379.5 598.2,377.9 600.2,377.3 602.2,377.4 604.1,376.2 606.1,375.4 608.1,374.6 610.1,373.7 612.1,372.7 614.0,372.3 616.0,371.9 618.0,371.1 620.0,370.2 622.0,369.9 624.0,369.2 625.9,368.5 627.9,368.1 629.9,367.0 631.9,365.2 633.9,364.5 635.8,363.6 637.8,363.5 639.8,363.0 641.8,362.0 643.8,361.4 645.7,360.0 647.7,359.3 649.7,358.8 651.7,357.7 653.7,356.7 655.7,355.9 657.6,355.3 659.6,354.1 661.6,353.6 663.6,352.8 665.6,352.1 667.5,350.8 669.5,350.0 671.5,348.7 673.5,347.8 675.5,346.8 677.4,346.1 679.4,345.5 681.4,345.1 683.4,344.5 685.4,344.0 687.4,343.0 689.3,342.7 691.3,342.3 693.3,341.3 695.3,340.9 697.3,340.3 699.2,338.6 701.2,338.4 703.2,337.7 705.2,337.3 707.2,336.0 709.1,334.5 711.1,334.2 713.1,333.4 715.1,332.2 717.1,331.6 719.1,331.2 721.0,330.4 723.0,329.6 725.0,328.5 727.0,328.0 729.0,328.0 730.9,327.7 732.9,326.8 734.9,327.0 736.9,326.4 738.9,326.1 740.8,324.3 742.8,324.0 744.8,323.5 746.8,323.4 748.8,322.1 750.8,321.4 752.7,320.7 754.7,320.1 756.7,319.9 758.7,319.2 760.7,318.3 762.6,317.6 764.6,315.8 766.6,315.7 768.6,315.2 770.6,314.6 772.5,313.8 774.5,313.1 776.5,312.4 778.5,311.6 780.5,310.7 782.5,310.7 784.4,310.7 786.4,309.5 788.4,309.1 790.4,308.6 792.4,308.3 794.3,308.5 796.3,308.1 798.3,307.7 800.3,307.2 802.3,306.8 804.2,306.3 806.2,305.1 808.2,305.4 810.2,305.9 812.2,306.0 814.2,305.0 816.1,304.2 818.1,303.7 820.1,303.4 822.1,302.9 824.1,302.4 826.0,301.3 828.0,300.5 830.0,300.2 832.0,298.8 834.0,298.7 835.9,298.9 837.9,297.7 839.9,296.1 841.9,295.3 843.9,295.3 845.9,294.9 847.8,294.1 849.8,293.5 851.8,292.7 853.8,290.9 855.8,290.5 857.7,290.2 859.7,288.9 861.7,289.4 863.7,288.1 865.7,286.8 867.6,287.0 869.6,286.6 871.6,285.2 873.6,284.5 875.6,284.8 877.6,284.7 879.5,283.3 881.5,283.5 883.5,283.4 885.5,283.3 887.5,282.8 889.4,283.3 891.4,282.4 893.4,282.1 895.4,282.0 897.4,281.3 899.3,281.0 901.3,281.1 903.3,280.6 905.3,279.5 907.3,278.9 909.3,279.0 911.2,277.4 913.2,277.3 915.2,276.2 917.2,275.9 919.2,275.3 921.1,274.3 923.1,274.1 925.1,273.5 927.1,272.4 929.1,272.1 931.0,271.1 933.0,270.2 935.0,269.3 937.0,268.9 939.0,268.5 941.0,269.5 942.9,269.0 944.9,268.6 946.9,268.0 948.9,267.2 950.9,267.7 952.8,267.4 954.8,267.6 956.8,267.5 958.8,267.0 960.8,266.6 962.8,266.7 964.7,266.3 966.7,265.5 968.7,265.0 970.7,263.6 972.7,262.7 974.6,261.8 976.6,261.7 978.6,261.2 980.6,260.7 982.6,259.9 984.5,259.3 986.5,258.5 988.5,257.6 990.5,257.6 992.5,257.2 994.5,257.6 996.4,257.6 998.4,257.4 1000.4,257.1 1002.4,256.9 1004.4,256.6 1006.3,256.0 1008.3,255.8 1010.3,254.7 1012.3,254.2 1014.3,253.5 1016.2,253.9 1018.2,253.1 1020.2,252.8 1022.2,252.6 1024.2,251.5 1026.2,250.5 1028.1,250.0 1030.1,249.9 1032.1,250.2 1034.1,249.7 1036.1,249.0 1038.0,249.3 1040.0,249.3 1042.0,250.1 1044.0,249.6 1046.0,249.0 1047.9,249.1 1049.9,248.4 1051.9,247.4 1053.9,246.2 1055.9,245.8 1057.9,245.1 1059.8,244.6 1061.8,243.8 1063.8,244.1 1065.8,243.2 1067.8,241.8 1069.7,240.7 1071.7,239.4 1073.7,239.3 1075.7,238.7 1077.7,238.3 1079.6,238.2 1081.6,238.4 1083.6,239.0 1085.6,238.5 1087.6,238.2 1089.6,237.9 1091.5,237.4 1093.5,236.3 1095.5,235.8 1097.5,235.7 1099.5,235.8 1101.4,235.2 1103.4,234.2 1105.4,233.7" fill="none" stroke="#4cc4c0" stroke-width="3" stroke-linejoin="round" stroke-linecap="round"/>
<polyline points="292.5,926.5 292.7,908.2 292.9,898.5 293.1,892.0 293.3,887.0 293.4,882.9 293.6,878.6 293.8,873.3 294.0,867.9 294.2,862.8 294.4,858.0 294.6,853.7 294.8,849.7 294.9,846.3 295.1,843.2 295.3,840.5 295.5,838.1 295.7,835.9 295.9,833.8 296.1,831.9 296.3,830.1 296.4,828.4 296.6,826.8 296.8,825.3 297.0,823.8 297.2,822.3 297.4,820.9 297.6,819.5 297.8,818.1 298.0,816.8 298.1,815.5 298.3,814.2 298.5,812.9 298.7,811.6 298.9,810.4 299.1,809.1 299.3,807.9 299.5,806.6 299.6,805.4 299.8,804.2 300.0,803.0 300.2,801.7 300.4,800.5 300.6,799.3 300.8,798.1 301.0,796.8 301.1,795.6 301.3,794.3 301.5,793.0 301.7,791.7 301.9,790.5 302.1,789.2 302.3,787.9 302.5,786.6 302.7,785.3 302.8,784.0 303.0,782.8 303.2,781.6 303.4,780.4 303.6,779.1 303.8,777.9 304.0,776.7 304.2,775.5 304.3,774.3 304.5,773.2 304.7,772.0 304.9,770.9 305.1,769.8 305.3,768.7 305.5,767.6 305.7,766.5 305.8,765.4 306.0,764.3 306.2,763.3 306.4,762.3 306.6,761.3 306.8,760.2 307.0,759.3 307.2,758.3 307.4,757.3 307.5,756.4 307.7,755.5 307.9,754.6 308.1,753.7 308.3,752.7 308.5,751.8 308.7,750.8 308.9,749.9 309.0,749.0 309.2,748.2 309.4,747.3 309.6,746.4 309.8,745.5 310.0,744.6 310.2,743.7 310.4,742.9 310.5,742.0 310.7,741.1 310.9,740.2 311.1,739.4 311.3,738.5 311.5,737.7 311.7,736.8 311.9,735.9 312.1,735.0 312.2,734.2 312.4,733.3 312.6,732.4 312.8,731.6 313.0,730.7 313.2,729.8 313.4,728.9 313.6,728.2 313.7,727.4 313.9,726.5 314.1,725.7 314.3,724.9 314.5,724.0 314.7,723.2 314.9,722.3 316.9,712.5 318.8,702.0 320.8,692.6 322.8,683.7 324.8,675.3 326.8,667.4 328.7,660.0 330.7,653.0 332.7,646.1 334.7,639.9 336.7,633.6 338.6,627.4 340.6,621.7 342.6,615.9 344.6,610.9 346.6,605.6 348.6,600.4 350.5,595.3 352.5,590.7 354.5,586.1 356.5,581.4 358.5,577.4 360.4,573.0 362.4,568.8 364.4,564.7 366.4,560.8 368.4,557.4 370.3,554.1 372.3,551.0 374.3,547.3 376.3,544.1 378.3,540.9 380.3,538.0 382.2,534.7 384.2,531.6 386.2,528.8 388.2,525.8 390.2,522.9 392.1,520.3 394.1,517.3 396.1,514.7 398.1,511.6 400.1,508.8 402.0,506.4 404.0,504.1 406.0,501.4 408.0,499.2 410.0,496.4 412.0,493.9 413.9,491.9 415.9,489.5 417.9,487.1 419.9,485.4 421.9,482.7 423.8,481.0 425.8,478.7 427.8,476.7 429.8,474.6 431.8,472.5 433.7,470.0 435.7,468.4 437.7,466.6 439.7,465.0 441.7,463.0 443.7,460.8 445.6,459.0 447.6,457.1 449.6,454.9 451.6,453.7 453.6,451.6 455.5,449.8 457.5,448.3 459.5,446.5 461.5,444.6 463.5,443.2 465.4,441.2 467.4,439.3 469.4,437.5 471.4,436.0 473.4,434.1 475.4,432.7 477.3,431.1 479.3,429.7 481.3,427.9 483.3,426.1 485.3,424.9 487.2,423.4 489.2,421.8 491.2,420.3 493.2,418.8 495.2,417.1 497.1,415.6 499.1,414.3 501.1,412.6 503.1,411.4 505.1,410.0 507.1,408.7 509.0,407.0 511.0,405.7 513.0,405.0 515.0,403.2 517.0,401.9 518.9,400.6 520.9,399.5 522.9,397.8 524.9,396.9 526.9,395.7 528.9,394.9 530.8,394.0 532.8,393.1 534.8,391.8 536.8,390.4 538.8,389.2 540.7,387.8 542.7,386.2 544.7,385.6 546.7,384.5 548.7,383.3 550.6,381.6 552.6,380.6 554.6,379.7 556.6,378.5 558.6,376.7 560.6,375.5 562.5,374.5 564.5,373.3 566.5,372.4 568.5,371.2 570.5,370.4 572.4,368.8 574.4,367.4 576.4,366.5 578.4,365.5 580.4,364.5 582.3,363.8 584.3,362.5 586.3,362.1 588.3,361.3 590.3,360.4 592.3,359.8 594.2,359.4 596.2,358.3 598.2,357.3 600.2,356.4 602.2,355.6 604.1,355.1 606.1,354.3 608.1,353.3 610.1,352.4 612.1,351.4 614.0,350.0 616.0,348.7 618.0,348.1 620.0,346.8 622.0,344.9 624.0,343.5 625.9,342.1 627.9,341.6 629.9,340.6 631.9,339.8 633.9,339.1 635.8,337.8 637.8,336.9 639.8,336.2 641.8,335.4 643.8,334.5 645.7,333.7 647.7,333.1 649.7,332.7 651.7,332.7 653.7,331.5 655.7,331.0 657.6,330.3 659.6,329.7 661.6,328.1 663.6,327.0 665.6,326.5 667.5,325.8 669.5,324.8 671.5,323.9 673.5,323.8 675.5,322.9 677.4,321.6 679.4,320.6 681.4,320.0 683.4,319.3 685.4,318.4 687.4,317.4 689.3,316.6 691.3,316.5 693.3,315.8 695.3,315.2 697.3,314.4 699.2,314.3 701.2,313.5 703.2,312.9 705.2,311.8 707.2,311.3 709.1,310.1 711.1,309.2 713.1,309.2 715.1,308.9 717.1,308.4 719.1,307.8 721.0,307.0 723.0,305.9 725.0,304.4 727.0,303.9 729.0,302.1 730.9,301.0 732.9,299.9 734.9,299.9 736.9,299.2 738.9,298.9 740.8,298.6 742.8,297.5 744.8,296.7 746.8,295.9 748.8,294.9 750.8,294.1 752.7,293.8 754.7,293.5 756.7,292.9 758.7,293.2 760.7,293.0 762.6,292.2 764.6,291.1 766.6,291.0 768.6,290.2 770.6,289.4 772.5,288.7 774.5,287.5 776.5,286.7 778.5,286.6 780.5,286.6 782.5,285.5 784.4,285.0 786.4,284.0 788.4,282.9 790.4,282.3 792.4,282.0 794.3,281.5 796.3,281.1 798.3,281.1 800.3,280.1 802.3,279.5 804.2,279.3 806.2,278.8 808.2,277.8 810.2,276.5 812.2,276.5 814.2,276.0 816.1,276.1 818.1,275.5 820.1,274.9 822.1,274.0 824.1,272.7 826.0,271.0 828.0,269.9 830.0,269.1 832.0,268.9 834.0,268.3 835.9,267.7 837.9,267.6 839.9,266.9 841.9,266.3 843.9,265.5 845.9,264.5 847.8,264.0 849.8,263.1 851.8,262.9 853.8,263.2 855.8,263.0 857.7,262.2 859.7,262.0 861.7,261.2 863.7,260.7 865.7,261.0 867.6,260.2 869.6,260.5 871.6,259.6 873.6,259.5 875.6,259.2 877.6,259.1 879.5,259.4 881.5,258.6 883.5,257.8 885.5,257.4 887.5,257.3 889.4,256.4 891.4,255.8 893.4,255.2 895.4,253.7 897.4,253.3 899.3,252.2 901.3,251.6 903.3,250.8 905.3,250.1 907.3,249.6 909.3,248.4 911.2,247.3 913.2,246.8 915.2,246.0 917.2,245.4 919.2,245.0 921.1,244.3 923.1,243.6 925.1,244.1 927.1,243.6 929.1,243.6 931.0,243.2 933.0,243.1 935.0,242.6 937.0,241.8 939.0,241.0 941.0,242.0 942.9,241.4 944.9,241.0 946.9,240.4 948.9,240.3 950.9,240.4 952.8,240.5 954.8,238.9 956.8,238.0 958.8,237.2 960.8,236.9 962.8,236.2 964.7,235.6 966.7,235.2 968.7,235.3 970.7,234.1 972.7,233.5 974.6,233.5 976.6,232.8 978.6,231.9 980.6,231.4 982.6,230.5 984.5,230.6 986.5,230.1 988.5,229.4 990.5,228.8 992.5,228.1 994.5,227.7 996.4,227.6 998.4,227.4 1000.4,226.8 1002.4,226.5 1004.4,225.6 1006.3,225.7 1008.3,225.3 1010.3,224.2 1012.3,224.1 1014.3,223.8 1016.2,223.4 1018.2,222.9 1020.2,222.5 1022.2,222.8 1024.2,222.1 1026.2,221.0 1028.1,221.0 1030.1,220.4 1032.1,219.9 1034.1,219.8 1036.1,219.1 1038.0,219.3 1040.0,219.1 1042.0,218.1 1044.0,217.2 1046.0,217.3 1047.9,217.8 1049.9,217.7 1051.9,217.5 1053.9,216.6 1055.9,216.8 1057.9,216.1 1059.8,216.3 1061.8,216.1 1063.8,215.5 1065.8,215.7 1067.8,214.3 1069.7,214.3 1071.7,214.5 1073.7,214.1 1075.7,212.9 1077.7,211.6 1079.6,210.9 1081.6,209.8 1083.6,209.9 1085.6,209.3 1087.6,208.4 1089.6,207.9 1091.5,207.6 1093.5,207.0 1095.5,206.6 1097.5,206.3 1099.5,205.7 1101.4,205.4 1103.4,205.2 1105.4,205.4" fill="none" stroke="#467d95" stroke-width="3" stroke-linejoin="round" stroke-linecap="round"/>
<polyline points="292.5,926.5 292.7,910.2 292.9,901.7 293.1,896.0 293.3,891.7 293.4,888.2 293.6,884.7 293.8,880.7 294.0,876.6 294.2,872.7 294.4,869.0 294.6,865.5 294.8,862.3 294.9,859.3 295.1,856.5 295.3,854.0 295.5,851.6 295.7,849.4 295.9,847.3 296.1,845.3 296.3,843.4 296.4,841.6 296.6,839.9 296.8,838.3 297.0,836.7 297.2,835.2 297.4,833.7 297.6,832.2 297.8,830.8 298.0,829.4 298.1,828.1 298.3,826.7 298.5,825.4 298.7,824.1 298.9,822.8 299.1,821.5 299.3,820.2 299.5,818.9 299.6,817.7 299.8,816.5 300.0,815.2 300.2,814.0 300.4,812.8 300.6,811.6 300.8,810.4 301.0,809.2 301.1,808.0 301.3,806.8 301.5,805.6 301.7,804.4 301.9,803.2 302.1,802.1 302.3,800.9 302.5,799.8 302.7,798.7 302.8,797.6 303.0,796.5 303.2,795.3 303.4,794.2 303.6,793.1 303.8,792.0 304.0,791.0 304.2,789.9 304.3,788.9 304.5,787.8 304.7,786.8 304.9,785.7 305.1,784.7 305.3,783.7 305.5,782.7 305.7,781.7 305.8,780.7 306.0,779.7 306.2,778.7 306.4,777.6 306.6,776.6 306.8,775.6 307.0,774.6 307.2,773.7 307.4,772.7 307.5,771.7 307.7,770.7 307.9,769.8 308.1,768.8 308.3,767.8 308.5,766.8 308.7,765.8 308.9,764.9 309.0,764.0 309.2,763.1 309.4,762.1 309.6,761.2 309.8,760.3 310.0,759.3 310.2,758.4 310.4,757.5 310.5,756.5 310.7,755.6 310.9,754.7 311.1,753.6 311.3,752.6 311.5,751.6 311.7,750.7 311.9,749.6 312.1,748.6 312.2,747.7 312.4,746.7 312.6,745.7 312.8,744.7 313.0,743.7 313.2,742.7 313.4,741.7 313.6,740.7 313.7,739.5 313.9,738.5 314.1,737.6 314.3,736.7 314.5,735.6 314.7,734.6 314.9,733.6 316.9,723.1 318.8,713.1 320.8,704.4 322.8,696.3 324.8,688.6 326.8,681.4 328.7,674.7 330.7,668.4 332.7,662.4 334.7,656.7 336.7,651.2 338.6,646.0 340.6,641.1 342.6,636.4 344.6,631.8 346.6,627.8 348.6,623.7 350.5,619.4 352.5,615.5 354.5,611.6 356.5,607.6 358.5,603.5 360.4,599.5 362.4,595.9 364.4,592.5 366.4,589.1 368.4,585.5 370.3,582.4 372.3,579.2 374.3,576.1 376.3,573.0 378.3,570.1 380.3,567.2 382.2,564.2 384.2,561.4 386.2,558.7 388.2,556.4 390.2,554.1 392.1,552.1 394.1,549.8 396.1,547.6 398.1,545.5 400.1,543.1 402.0,540.7 404.0,538.5 406.0,536.0 408.0,534.3 410.0,532.4 412.0,530.3 413.9,528.5 415.9,526.6 417.9,525.1 419.9,523.2 421.9,520.7 423.8,519.2 425.8,517.3 427.8,515.6 429.8,514.1 431.8,512.6 433.7,511.1 435.7,509.5 437.7,507.6 439.7,506.0 441.7,504.9 443.7,503.1 445.6,502.3 447.6,500.4 449.6,498.7 451.6,497.2 453.6,494.9 455.5,493.9 457.5,492.0 459.5,490.5 461.5,489.1 463.5,487.5 465.4,486.1 467.4,484.6 469.4,483.1 471.4,481.5 473.4,480.4 475.4,478.6 477.3,477.3 479.3,476.2 481.3,475.3 483.3,474.2 485.3,472.6 487.2,471.6 489.2,470.1 491.2,468.5 493.2,467.6 495.2,466.8 497.1,465.6 499.1,464.6 501.1,463.5 503.1,462.2 505.1,461.1 507.1,460.0 509.0,458.6 511.0,457.5 513.0,456.3 515.0,454.9 517.0,453.7 518.9,452.6 520.9,451.4 522.9,450.4 524.9,449.2 526.9,448.3 528.9,447.0 530.8,445.8 532.8,444.5 534.8,443.7 536.8,442.4 538.8,441.2 540.7,440.1 542.7,439.2 544.7,438.7 546.7,437.7 548.7,436.9 550.6,435.9 552.6,434.8 554.6,433.6 556.6,432.4 558.6,431.7 560.6,430.9 562.5,430.0 564.5,428.3 566.5,427.9 568.5,427.2 570.5,426.0 572.4,425.3 574.4,423.9 576.4,422.9 578.4,421.9 580.4,421.1 582.3,419.7 584.3,419.0 586.3,418.0 588.3,416.8 590.3,415.8 592.3,415.1 594.2,414.4 596.2,413.1 598.2,412.5 600.2,411.8 602.2,410.4 604.1,410.0 606.1,409.7 608.1,408.8 610.1,408.1 612.1,407.4 614.0,406.5 616.0,405.4 618.0,404.9 620.0,404.0 622.0,402.7 624.0,402.1 625.9,402.0 627.9,400.8 629.9,399.8 631.9,399.6 633.9,398.4 635.8,396.9 637.8,396.2 639.8,395.8 641.8,395.6 643.8,394.8 645.7,394.7 647.7,393.8 649.7,393.8 651.7,393.3 653.7,392.9 655.7,391.7 657.6,390.6 659.6,389.9 661.6,388.8 663.6,388.2 665.6,387.6 667.5,386.7 669.5,385.7 671.5,384.2 673.5,383.8 675.5,383.1 677.4,382.2 679.4,380.8 681.4,379.6 683.4,378.6 685.4,377.8 687.4,377.6 689.3,377.2 691.3,376.4 693.3,375.9 695.3,375.3 697.3,374.8 699.2,374.5 701.2,374.1 703.2,373.1 705.2,372.2 707.2,371.8 709.1,370.5 711.1,370.4 713.1,370.0 715.1,369.4 717.1,368.4 719.1,367.4 721.0,367.4 723.0,366.8 725.0,366.1 727.0,364.9 729.0,364.1 730.9,363.1 732.9,362.6 734.9,361.6 736.9,360.9 738.9,361.2 740.8,360.7 742.8,359.8 744.8,359.0 746.8,358.5 748.8,357.7 750.8,357.1 752.7,356.4 754.7,356.1 756.7,355.8 758.7,355.1 760.7,355.1 762.6,353.6 764.6,353.7 766.6,353.5 768.6,352.7 770.6,351.7 772.5,351.0 774.5,350.9 776.5,350.3 778.5,349.3 780.5,348.8 782.5,348.3 784.4,347.4 786.4,346.5 788.4,345.8 790.4,344.7 792.4,345.1 794.3,344.1 796.3,343.3 798.3,343.1 800.3,342.8 802.3,342.4 804.2,341.9 806.2,341.7 808.2,341.7 810.2,340.9 812.2,340.5 814.2,339.9 816.1,339.6 818.1,339.4 820.1,339.1 822.1,338.5 824.1,338.3 826.0,337.3 828.0,336.0 830.0,335.6 832.0,335.0 834.0,334.4 835.9,333.5 837.9,333.0 839.9,332.4 841.9,331.6 843.9,331.8 845.9,331.7 847.8,330.9 849.8,330.0 851.8,329.4 853.8,328.9 855.8,328.3 857.7,328.2 859.7,327.5 861.7,327.2 863.7,325.9 865.7,325.6 867.6,324.9 869.6,324.5 871.6,324.1 873.6,323.2 875.6,322.1 877.6,321.9 879.5,321.2 881.5,320.5 883.5,320.0 885.5,320.0 887.5,319.2 889.4,318.8 891.4,318.1 893.4,318.1 895.4,318.1 897.4,318.6 899.3,317.7 901.3,317.7 903.3,317.0 905.3,317.2 907.3,316.6 909.3,316.0 911.2,315.1 913.2,314.8 915.2,314.3 917.2,313.6 919.2,313.8 921.1,312.9 923.1,312.7 925.1,312.1 927.1,310.8 929.1,310.8 931.0,310.1 933.0,309.5 935.0,308.7 937.0,308.3 939.0,308.4 941.0,308.2 942.9,307.5 944.9,307.0 946.9,307.0 948.9,305.6 950.9,305.6 952.8,304.8 954.8,304.5 956.8,304.4 958.8,303.7 960.8,302.9 962.8,302.6 964.7,301.8 966.7,300.7 968.7,300.4 970.7,300.2 972.7,299.7 974.6,299.1 976.6,298.4 978.6,297.7 980.6,296.8 982.6,297.2 984.5,296.5 986.5,295.8 988.5,294.9 990.5,295.0 992.5,294.6 994.5,294.5 996.4,294.6 998.4,293.9 1000.4,293.5 1002.4,293.8 1004.4,293.8 1006.3,293.0 1008.3,293.4 1010.3,293.0 1012.3,292.0 1014.3,291.9 1016.2,291.9 1018.2,291.9 1020.2,290.6 1022.2,290.3 1024.2,290.1 1026.2,289.6 1028.1,289.5 1030.1,289.0 1032.1,288.2 1034.1,287.6 1036.1,287.8 1038.0,287.2 1040.0,287.6 1042.0,287.3 1044.0,286.2 1046.0,285.2 1047.9,285.3 1049.9,285.0 1051.9,284.1 1053.9,284.1 1055.9,283.2 1057.9,282.5 1059.8,282.3 1061.8,282.3 1063.8,281.5 1065.8,280.6 1067.8,279.8 1069.7,278.7 1071.7,277.9 1073.7,277.6 1075.7,276.9 1077.7,275.8 1079.6,275.6 1081.6,276.0 1083.6,274.5 1085.6,274.5 1087.6,274.7 1089.6,273.9 1091.5,272.4 1093.5,272.1 1095.5,271.9 1097.5,271.4 1099.5,271.6 1101.4,271.6 1103.4,271.4 1105.4,271.0" fill="none" stroke="#de8598" stroke-width="3" stroke-linejoin="round" stroke-linecap="round"/>
<polyline points="292.5,926.5 292.7,909.6 292.9,900.8 293.1,894.9 293.3,890.3 293.4,886.7 293.6,882.9 293.8,878.6 294.0,874.2 294.2,869.9 294.4,865.8 294.6,862.1 294.8,858.7 294.9,855.6 295.1,852.7 295.3,850.1 295.5,847.8 295.7,845.5 295.9,843.5 296.1,841.5 296.3,839.6 296.4,837.9 296.6,836.2 296.8,834.5 297.0,833.0 297.2,831.5 297.4,830.0 297.6,828.6 297.8,827.2 298.0,825.8 298.1,824.5 298.3,823.1 298.5,821.8 298.7,820.5 298.9,819.2 299.1,818.0 299.3,816.7 299.5,815.5 299.6,814.2 299.8,813.0 300.0,811.8 300.2,810.6 300.4,809.4 300.6,808.2 300.8,807.0 301.0,805.7 301.1,804.5 301.3,803.3 301.5,802.1 301.7,800.8 301.9,799.6 302.1,798.5 302.3,797.3 302.5,796.1 302.7,794.9 302.8,793.7 303.0,792.6 303.2,791.4 303.4,790.3 303.6,789.2 303.8,788.1 304.0,786.9 304.2,785.9 304.3,784.7 304.5,783.7 304.7,782.6 304.9,781.5 305.1,780.4 305.3,779.4 305.5,778.3 305.7,777.3 305.8,776.2 306.0,775.2 306.2,774.2 306.4,773.2 306.6,772.2 306.8,771.3 307.0,770.2 307.2,769.3 307.4,768.3 307.5,767.3 307.7,766.4 307.9,765.4 308.1,764.5 308.3,763.5 308.5,762.6 308.7,761.6 308.9,760.7 309.0,759.7 309.2,758.8 309.4,757.8 309.6,756.9 309.8,755.9 310.0,755.1 310.2,754.1 310.4,753.2 310.5,752.3 310.7,751.4 310.9,750.4 311.1,749.4 311.3,748.5 311.5,747.5 311.7,746.6 311.9,745.6 312.1,744.7 312.2,743.7 312.4,742.8 312.6,741.8 312.8,740.8 313.0,739.9 313.2,738.9 313.4,737.8 313.6,736.8 313.7,735.8 313.9,734.9 314.1,733.8 314.3,732.9 314.5,732.0 314.7,731.0 314.9,730.0 316.9,719.8 318.8,709.6 320.8,700.8 322.8,692.4 324.8,684.5 326.8,677.0 328.7,670.2 330.7,663.4 332.7,657.2 334.7,651.2 336.7,645.8 338.6,640.2 340.6,634.8 342.6,629.8 344.6,624.7 346.6,620.1 348.6,615.7 350.5,611.1 352.5,606.8 354.5,602.6 356.5,598.6 358.5,594.7 360.4,590.9 362.4,587.3 364.4,584.0 366.4,580.6 368.4,577.1 370.3,574.2 372.3,571.3 374.3,568.6 376.3,565.3 378.3,561.8 380.3,559.1 382.2,556.6 384.2,553.9 386.2,551.3 388.2,548.6 390.2,546.0 392.1,543.5 394.1,540.8 396.1,537.9 398.1,535.6 400.1,532.9 402.0,530.4 404.0,527.8 406.0,525.7 408.0,523.9 410.0,521.4 412.0,518.9 413.9,516.4 415.9,514.4 417.9,512.1 419.9,510.2 421.9,507.7 423.8,505.7 425.8,504.0 427.8,501.9 429.8,500.1 431.8,498.3 433.7,496.6 435.7,495.0 437.7,493.0 439.7,491.5 441.7,489.5 443.7,487.7 445.6,485.3 447.6,483.2 449.6,481.3 451.6,479.8 453.6,478.4 455.5,476.6 457.5,475.1 459.5,473.0 461.5,471.3 463.5,469.1 465.4,467.0 467.4,465.3 469.4,463.7 471.4,462.3 473.4,461.1 475.4,460.1 477.3,459.1 479.3,457.6 481.3,456.6 483.3,454.8 485.3,452.9 487.2,451.2 489.2,449.7 491.2,448.5 493.2,447.6 495.2,446.3 497.1,444.7 499.1,443.0 501.1,441.7 503.1,440.0 505.1,438.7 507.1,437.3 509.0,435.9 511.0,434.1 513.0,433.0 515.0,431.9 517.0,431.1 518.9,430.6 520.9,429.2 522.9,427.8 524.9,426.6 526.9,425.7 528.9,424.6 530.8,423.3 532.8,422.1 534.8,420.4 536.8,419.1 538.8,417.9 540.7,417.0 542.7,415.6 544.7,414.6 546.7,413.5 548.7,412.5 550.6,411.2 552.6,410.1 554.6,408.9 556.6,407.0 558.6,406.3 560.6,405.2 562.5,404.3 564.5,403.6 566.5,402.9 568.5,402.2 570.5,400.8 572.4,400.2 574.4,399.1 576.4,397.8 578.4,395.8 580.4,394.6 582.3,393.4 584.3,392.9 586.3,392.5 588.3,391.1 590.3,390.5 592.3,389.3 594.2,388.3 596.2,387.0 598.2,385.5 600.2,384.4 602.2,383.2 604.1,382.5 606.1,381.6 608.1,381.0 610.1,380.5 612.1,379.9 614.0,378.9 616.0,377.6 618.0,377.2 620.0,376.2 622.0,375.6 624.0,374.6 625.9,373.7 627.9,373.6 629.9,373.2 631.9,372.4 633.9,371.4 635.8,370.5 637.8,369.5 639.8,368.3 641.8,366.7 643.8,365.8 645.7,365.3 647.7,364.2 649.7,363.0 651.7,361.8 653.7,361.2 655.7,360.7 657.6,359.9 659.6,358.5 661.6,357.6 663.6,356.8 665.6,356.5 667.5,356.2 669.5,355.5 671.5,355.3 673.5,354.6 675.5,353.9 677.4,353.2 679.4,352.7 681.4,352.3 683.4,351.8 685.4,350.9 687.4,349.8 689.3,349.4 691.3,348.7 693.3,347.6 695.3,346.7 697.3,344.7 699.2,344.2 701.2,343.5 703.2,342.6 705.2,342.2 707.2,341.3 709.1,340.7 711.1,340.0 713.1,338.8 715.1,338.1 717.1,337.5 719.1,337.1 721.0,336.4 723.0,335.9 725.0,334.4 727.0,334.7 729.0,333.7 730.9,333.1 732.9,332.3 734.9,331.6 736.9,331.1 738.9,330.5 740.8,329.2 742.8,329.1 744.8,328.0 746.8,327.4 748.8,326.2 750.8,325.8 752.7,325.8 754.7,325.3 756.7,324.7 758.7,324.2 760.7,323.8 762.6,323.3 764.6,321.9 766.6,321.0 768.6,320.5 770.6,320.3 772.5,319.1 774.5,319.1 776.5,318.3 778.5,317.7 780.5,317.0 782.5,315.8 784.4,315.4 786.4,314.5 788.4,314.0 790.4,313.2 792.4,312.6 794.3,311.8 796.3,311.1 798.3,310.2 800.3,309.9 802.3,309.8 804.2,308.6 806.2,308.3 808.2,307.4 810.2,306.8 812.2,306.4 814.2,305.8 816.1,305.3 818.1,305.3 820.1,304.2 822.1,303.8 824.1,303.6 826.0,303.3 828.0,303.0 830.0,302.1 832.0,300.9 834.0,300.4 835.9,300.1 837.9,299.7 839.9,299.0 841.9,298.4 843.9,297.7 845.9,297.6 847.8,296.4 849.8,296.2 851.8,295.3 853.8,294.8 855.8,293.8 857.7,293.4 859.7,292.6 861.7,292.6 863.7,292.2 865.7,291.3 867.6,290.8 869.6,290.3 871.6,289.6 873.6,289.2 875.6,288.2 877.6,287.4 879.5,286.8 881.5,287.1 883.5,287.0 885.5,286.9 887.5,286.1 889.4,286.0 891.4,285.0 893.4,284.6 895.4,283.7 897.4,283.3 899.3,283.2 901.3,282.8 903.3,282.7 905.3,281.9 907.3,281.2 909.3,281.2 911.2,280.2 913.2,278.8 915.2,278.4 917.2,277.6 919.2,277.5 921.1,277.2 923.1,276.7 925.1,276.8 927.1,276.8 929.1,275.6 931.0,275.1 933.0,274.0 935.0,273.9 937.0,273.9 939.0,272.6 941.0,271.5 942.9,271.4 944.9,270.4 946.9,269.9 948.9,268.9 950.9,267.7 952.8,266.8 954.8,266.1 956.8,264.9 958.8,264.7 960.8,264.2 962.8,264.0 964.7,263.5 966.7,262.8 968.7,262.1 970.7,262.4 972.7,262.7 974.6,262.4 976.6,262.3 978.6,261.5 980.6,262.0 982.6,261.3 984.5,260.9 986.5,260.7 988.5,259.5 990.5,258.7 992.5,258.1 994.5,257.3 996.4,256.9 998.4,257.4 1000.4,256.1 1002.4,255.3 1004.4,254.9 1006.3,254.3 1008.3,254.3 1010.3,253.7 1012.3,253.9 1014.3,253.2 1016.2,252.7 1018.2,252.6 1020.2,252.7 1022.2,252.6 1024.2,252.9 1026.2,252.6 1028.1,252.1 1030.1,252.5 1032.1,251.7 1034.1,251.3 1036.1,250.9 1038.0,249.9 1040.0,249.1 1042.0,248.6 1044.0,248.2 1046.0,248.0 1047.9,248.6 1049.9,247.9 1051.9,247.4 1053.9,245.8 1055.9,245.2 1057.9,244.3 1059.8,242.8 1061.8,242.6 1063.8,241.8 1065.8,241.2 1067.8,240.5 1069.7,240.2 1071.7,240.6 1073.7,240.1 1075.7,239.6 1077.7,238.1 1079.6,238.0 1081.6,237.8 1083.6,238.1 1085.6,238.0 1087.6,237.7 1089.6,237.6 1091.5,236.8 1093.5,236.6 1095.5,236.5 1097.5,236.9 1099.5,237.4 1101.4,235.9 1103.4,235.8 1105.4,235.4" fill="none" stroke="#ffa077" stroke-width="3" stroke-linejoin="round" stroke-linecap="round"/>
<polyline points="292.5,926.5 292.7,913.2 292.9,906.6 293.1,902.2 293.3,898.9 293.4,896.3 293.6,894.0 293.8,891.7 294.0,889.5 294.2,887.4 294.4,885.4 294.6,883.4 294.8,881.6 294.9,879.7 295.1,878.0 295.3,876.3 295.5,874.6 295.7,873.1 295.9,871.5 296.1,870.0 296.3,868.6 296.4,867.1 296.6,865.8 296.8,864.4 297.0,863.1 297.2,861.8 297.4,860.5 297.6,859.3 297.8,858.1 298.0,856.9 298.1,855.8 298.3,854.7 298.5,853.5 298.7,852.4 298.9,851.4 299.1,850.3 299.3,849.3 299.5,848.3 299.6,847.2 299.8,846.3 300.0,845.3 300.2,844.3 300.4,843.4 300.6,842.5 300.8,841.6 301.0,840.6 301.1,839.7 301.3,838.7 301.5,837.6 301.7,836.6 301.9,835.5 302.1,834.4 302.3,833.3 302.5,832.2 302.7,831.1 302.8,829.9 303.0,828.8 303.2,827.7 303.4,826.5 303.6,825.4 303.8,824.2 304.0,823.1 304.2,822.0 304.3,820.9 304.5,819.7 304.7,818.6 304.9,817.5 305.1,816.4 305.3,815.4 305.5,814.2 305.7,813.2 305.8,812.1 306.0,811.0 306.2,810.0 306.4,808.9 306.6,807.9 306.8,806.8 307.0,805.8 307.2,804.8 307.4,803.8 307.5,802.8 307.7,801.9 307.9,800.9 308.1,799.9 308.3,799.0 308.5,798.0 308.7,797.1 308.9,796.2 309.0,795.2 309.2,794.3 309.4,793.3 309.6,792.4 309.8,791.4 310.0,790.4 310.2,789.5 310.4,788.5 310.5,787.5 310.7,786.6 310.9,785.7 311.1,784.7 311.3,783.8 311.5,782.8 311.7,781.8 311.9,780.8 312.1,779.8 312.2,778.9 312.4,777.9 312.6,777.0 312.8,776.0 313.0,775.1 313.2,774.2 313.4,773.2 313.6,772.3 313.7,771.4 313.9,770.4 314.1,769.5 314.3,768.6 314.5,767.7 314.7,766.8 314.9,765.9 316.9,756.0 318.8,746.2 320.8,737.0 322.8,728.7 324.8,721.4 326.8,714.6 328.7,708.2 330.7,701.9 332.7,696.1 334.7,690.6 336.7,685.2 338.6,680.3 340.6,675.6 342.6,670.9 344.6,666.4 346.6,662.0 348.6,657.7 350.5,654.1 352.5,650.3 354.5,646.4 356.5,642.7 358.5,639.1 360.4,636.1 362.4,633.0 364.4,629.9 366.4,627.0 368.4,624.0 370.3,621.0 372.3,618.3 374.3,615.4 376.3,612.5 378.3,609.9 380.3,607.0 382.2,604.6 384.2,602.0 386.2,599.5 388.2,597.0 390.2,594.4 392.1,592.1 394.1,589.9 396.1,587.5 398.1,585.2 400.1,582.7 402.0,580.4 404.0,578.3 406.0,576.5 408.0,574.6 410.0,572.4 412.0,570.4 413.9,568.6 415.9,567.0 417.9,565.3 419.9,563.5 421.9,561.3 423.8,559.3 425.8,557.8 427.8,556.1 429.8,554.8 431.8,553.1 433.7,551.3 435.7,549.9 437.7,548.2 439.7,546.9 441.7,545.7 443.7,544.0 445.6,542.3 447.6,540.9 449.6,539.6 451.6,538.5 453.6,537.0 455.5,535.3 457.5,534.2 459.5,532.8 461.5,531.5 463.5,530.5 465.4,528.8 467.4,527.5 469.4,525.8 471.4,524.3 473.4,523.0 475.4,521.7 477.3,520.6 479.3,519.0 481.3,517.7 483.3,516.8 485.3,515.7 487.2,514.4 489.2,513.2 491.2,512.2 493.2,510.7 495.2,509.7 497.1,508.6 499.1,507.7 501.1,506.4 503.1,505.5 505.1,504.7 507.1,503.5 509.0,502.3 511.0,501.6 513.0,500.4 515.0,499.5 517.0,498.9 518.9,498.0 520.9,496.9 522.9,495.9 524.9,495.2 526.9,494.0 528.9,492.8 530.8,492.0 532.8,491.0 534.8,490.1 536.8,488.9 538.8,488.2 540.7,486.7 542.7,486.0 544.7,484.7 546.7,483.5 548.7,482.6 550.6,481.3 552.6,480.5 554.6,479.3 556.6,478.9 558.6,478.3 560.6,477.4 562.5,476.6 564.5,475.5 566.5,474.7 568.5,474.0 570.5,473.4 572.4,472.5 574.4,471.8 576.4,471.2 578.4,470.4 580.4,469.9 582.3,469.0 584.3,468.5 586.3,467.3 588.3,466.3 590.3,465.8 592.3,464.9 594.2,464.1 596.2,463.4 598.2,462.0 600.2,461.3 602.2,460.4 604.1,459.6 606.1,458.5 608.1,458.0 610.1,457.5 612.1,457.1 614.0,456.1 616.0,455.6 618.0,454.7 620.0,453.7 622.0,453.0 624.0,452.5 625.9,451.8 627.9,451.4 629.9,450.7 631.9,450.0 633.9,449.4 635.8,449.0 637.8,448.0 639.8,447.1 641.8,446.1 643.8,445.5 645.7,444.8 647.7,444.7 649.7,443.6 651.7,443.2 653.7,442.2 655.7,441.7 657.6,441.0 659.6,440.4 661.6,439.9 663.6,439.3 665.6,438.8 667.5,438.1 669.5,437.3 671.5,436.9 673.5,436.6 675.5,435.8 677.4,435.2 679.4,435.0 681.4,434.4 683.4,434.3 685.4,433.4 687.4,433.1 689.3,433.0 691.3,432.6 693.3,431.8 695.3,431.2 697.3,430.4 699.2,429.8 701.2,429.3 703.2,428.4 705.2,427.7 707.2,427.3 709.1,426.6 711.1,425.7 713.1,425.1 715.1,424.6 717.1,423.9 719.1,423.2 721.0,422.3 723.0,421.9 725.0,421.0 727.0,420.7 729.0,420.7 730.9,420.2 732.9,419.9 734.9,420.0 736.9,419.5 738.9,419.1 740.8,418.4 742.8,417.6 744.8,417.1 746.8,416.7 748.8,416.0 750.8,415.8 752.7,415.2 754.7,415.0 756.7,414.8 758.7,414.0 760.7,413.5 762.6,413.0 764.6,412.3 766.6,411.0 768.6,410.5 770.6,410.6 772.5,410.2 774.5,410.3 776.5,409.7 778.5,409.2 780.5,408.7 782.5,408.6 784.4,408.3 786.4,407.5 788.4,407.1 790.4,406.5 792.4,406.1 794.3,405.7 796.3,405.6 798.3,405.3 800.3,404.6 802.3,404.3 804.2,403.3 806.2,403.0 808.2,402.6 810.2,402.2 812.2,401.5 814.2,400.8 816.1,400.3 818.1,399.6 820.1,399.6 822.1,399.3 824.1,398.8 826.0,398.6 828.0,398.1 830.0,397.9 832.0,397.5 834.0,397.0 835.9,397.0 837.9,396.5 839.9,395.8 841.9,395.4 843.9,395.2 845.9,395.1 847.8,394.8 849.8,394.3 851.8,394.3 853.8,393.5 855.8,393.2 857.7,392.9 859.7,392.1 861.7,391.7 863.7,391.5 865.7,390.8 867.6,390.3 869.6,390.1 871.6,389.8 873.6,389.1 875.6,388.4 877.6,388.1 879.5,387.8 881.5,386.7 883.5,386.5 885.5,386.1 887.5,385.8 889.4,385.5 891.4,385.1 893.4,384.3 895.4,383.8 897.4,383.1 899.3,382.7 901.3,382.5 903.3,382.3 905.3,382.1 907.3,382.0 909.3,381.3 911.2,381.0 913.2,380.8 915.2,380.4 917.2,380.2 919.2,380.0 921.1,379.9 923.1,379.8 925.1,379.7 927.1,380.2 929.1,379.9 931.0,379.3 933.0,378.8 935.0,378.5 937.0,377.4 939.0,377.4 941.0,376.8 942.9,376.6 944.9,376.3 946.9,375.8 948.9,375.5 950.9,374.6 952.8,374.4 954.8,374.2 956.8,373.4 958.8,373.1 960.8,373.1 962.8,372.8 964.7,372.3 966.7,372.3 968.7,371.5 970.7,371.1 972.7,370.7 974.6,370.0 976.6,370.1 978.6,369.7 980.6,369.8 982.6,369.1 984.5,368.7 986.5,368.4 988.5,368.2 990.5,367.6 992.5,367.5 994.5,367.4 996.4,367.3 998.4,367.2 1000.4,367.3 1002.4,366.4 1004.4,366.3 1006.3,365.7 1008.3,365.3 1010.3,365.0 1012.3,364.8 1014.3,364.4 1016.2,364.2 1018.2,363.7 1020.2,363.2 1022.2,362.8 1024.2,362.7 1026.2,361.8 1028.1,361.3 1030.1,360.7 1032.1,361.0 1034.1,360.3 1036.1,359.9 1038.0,359.8 1040.0,359.1 1042.0,358.9 1044.0,358.5 1046.0,358.4 1047.9,358.3 1049.9,358.2 1051.9,357.9 1053.9,357.4 1055.9,357.5 1057.9,357.8 1059.8,357.7 1061.8,357.3 1063.8,357.3 1065.8,356.9 1067.8,356.5 1069.7,356.6 1071.7,356.5 1073.7,356.3 1075.7,356.1 1077.7,356.0 1079.6,355.7 1081.6,355.6 1083.6,355.7 1085.6,355.6 1087.6,355.3 1089.6,355.2 1091.5,355.1 1093.5,354.9 1095.5,354.5 1097.5,354.6 1099.5,353.9 1101.4,353.3 1103.4,352.8 1105.4,352.5" fill="none" stroke="#ffc264" stroke-width="3" stroke-linejoin="round" stroke-linecap="round"/>
</g>
<line x1="836.0" y1="441.7" x2="921.0" y2="441.7" stroke="#5c5c5c" stroke-width="4"/>
<line x1="836.0" y1="489.8" x2="921.0" y2="489.8" stroke="#ff6e93" stroke-width="4"/>
<line x1="836.0" y1="540.5" x2="921.0" y2="540.5" stroke="#ffb8c0" stroke-width="4"/>
<line x1="836.0" y1="588.5" x2="921.0" y2="588.5" stroke="#ffdccc" stroke-width="4"/>
<line x1="836.0" y1="638.0" x2="921.0" y2="638.0" stroke="#d8e4d2" stroke-width="4"/>
<line x1="836.0" y1="686.8" x2="921.0" y2="686.8" stroke="#a8c8c4" stroke-width="4"/>
<line x1="836.0" y1="736.8" x2="921.0" y2="736.8" stroke="#467d95" stroke-width="4"/>
<line x1="836.0" y1="785.4" x2="921.0" y2="785.4" stroke="#de8598" stroke-width="4"/>
<line x1="836.0" y1="835.0" x2="921.0" y2="835.0" stroke="#ffa077" stroke-width="4"/>
<line x1="836.0" y1="884.8" x2="921.0" y2="884.8" stroke="#ffc264" stroke-width="4"/>
<text x="928.9" y="454.7" font-size="37.44" textLength="82.3" lengthAdjust="spacingAndGlyphs" style="" fill="#333" stroke="#333" stroke-width="0.7">CK-0</text>
<text x="928.9" y="502.8" font-size="37.61" textLength="81.5" lengthAdjust="spacingAndGlyphs" style="" fill="#333" stroke="#333" stroke-width="0.7">CK-5</text>
<text x="928.9" y="553.5" font-size="37.61" textLength="99.1" lengthAdjust="spacingAndGlyphs" style="" fill="#333" stroke="#333" stroke-width="0.7">CK-15</text>
<text x="928.9" y="601.5" font-size="37.44" textLength="99.9" lengthAdjust="spacingAndGlyphs" style="" fill="#333" stroke="#333" stroke-width="0.7">CK-30</text>
<text x="930.3" y="651.0" font-size="37.44" textLength="136.9" lengthAdjust="spacingAndGlyphs" style="" fill="#333" stroke="#333" stroke-width="0.7">YL28-L5</text>
<text x="930.3" y="699.8" font-size="37.44" textLength="154.6" lengthAdjust="spacingAndGlyphs" style="" fill="#333" stroke="#333" stroke-width="0.7">YL28-L15</text>
<text x="930.5" y="749.8" font-size="37.44" textLength="156.5" lengthAdjust="spacingAndGlyphs" style="" fill="#333" stroke="#333" stroke-width="0.7">YL28-L30</text>
<text x="930.5" y="798.4" font-size="37.44" textLength="140.6" lengthAdjust="spacingAndGlyphs" style="" fill="#333" stroke="#333" stroke-width="0.7">YL28-H5</text>
<text x="930.5" y="848.0" font-size="37.44" textLength="158.8" lengthAdjust="spacingAndGlyphs" style="" fill="#333" stroke="#333" stroke-width="0.7">YL28-H15</text>
<text x="930.5" y="897.8" font-size="37.44" textLength="161.8" lengthAdjust="spacingAndGlyphs" style="" fill="#333" stroke="#333" stroke-width="0.7">YL28-H30</text>
<text x="74.8" y="118.5" font-size="96.97" textLength="98.3" lengthAdjust="spacingAndGlyphs" style="" fill="#111">(a)</text>
<text x="247.3" y="946.9" font-size="67.67" textLength="30.1" lengthAdjust="spacingAndGlyphs" style="" fill="#111">0</text>
<text x="161.3" y="777.8" font-size="67.67" textLength="116.0" lengthAdjust="spacingAndGlyphs" style="" fill="#111">2000</text>
<text x="162.8" y="608.7" font-size="67.67" textLength="114.5" lengthAdjust="spacingAndGlyphs" style="" fill="#111">4000</text>
<text x="161.4" y="439.6" font-size="67.67" textLength="115.9" lengthAdjust="spacingAndGlyphs" style="" fill="#111">6000</text>
<text x="161.7" y="270.5" font-size="67.67" textLength="115.6" lengthAdjust="spacingAndGlyphs" style="" fill="#111">8000</text>
<text x="279.4" y="990.5" font-size="67.67" textLength="27.1" lengthAdjust="spacingAndGlyphs" style="" fill="#111">0</text>
<text x="408.6" y="990.5" font-size="67.72" textLength="83.9" lengthAdjust="spacingAndGlyphs" style="" fill="#111">10k</text>
<text x="566.7" y="990.5" font-size="67.72" textLength="86.0" lengthAdjust="spacingAndGlyphs" style="" fill="#111">20k</text>
<text x="726.4" y="990.5" font-size="67.72" textLength="86.4" lengthAdjust="spacingAndGlyphs" style="" fill="#111">30k</text>
<text x="888.2" y="990.5" font-size="67.72" textLength="84.6" lengthAdjust="spacingAndGlyphs" style="" fill="#111">40k</text>
<text x="1046.0" y="990.5" font-size="67.72" textLength="86.9" lengthAdjust="spacingAndGlyphs" style="" fill="#111">50k</text>
<text x="488.5" y="1100.0" font-size="68.18" textLength="421.4" lengthAdjust="spacingAndGlyphs" style="" fill="#111">Number of tags</text>
<text transform="translate(98.4,551.4) rotate(-90.00)" x="0" y="0" font-size="70.46" textLength="369.4" lengthAdjust="spacingAndGlyphs" text-anchor="middle" style="" fill="#111">Chao1 index</text>
<g id="panelB">
<path d="M1406.5,152.0 V930.5 H2215.0" fill="none" stroke="#727272" stroke-width="4"/>
<line x1="1408.5" y1="930.2" x2="1418.5" y2="930.2" stroke="#727272" stroke-width="3"/>
<line x1="1408.5" y1="592.1" x2="1418.5" y2="592.1" stroke="#727272" stroke-width="3"/>
<line x1="1408.5" y1="254.0" x2="1418.5" y2="254.0" stroke="#727272" stroke-width="3"/>
<line x1="1408.5" y1="761.2" x2="1413.5" y2="761.2" stroke="#727272" stroke-width="3"/>
<line x1="1408.5" y1="423.1" x2="1413.5" y2="423.1" stroke="#727272" stroke-width="3"/>
<line x1="1566.3" y1="928.5" x2="1566.3" y2="917.5" stroke="#727272" stroke-width="3"/>
<line x1="1724.7" y1="928.5" x2="1724.7" y2="917.5" stroke="#727272" stroke-width="3"/>
<line x1="1883.0" y1="928.5" x2="1883.0" y2="917.5" stroke="#727272" stroke-width="3"/>
<line x1="2041.4" y1="928.5" x2="2041.4" y2="917.5" stroke="#727272" stroke-width="3"/>
<line x1="2199.8" y1="928.5" x2="2199.8" y2="917.5" stroke="#727272" stroke-width="3"/>
<line x1="1487.2" y1="928.5" x2="1487.2" y2="922.5" stroke="#727272" stroke-width="3"/>
<line x1="1645.5" y1="928.5" x2="1645.5" y2="922.5" stroke="#727272" stroke-width="3"/>
<line x1="1803.9" y1="928.5" x2="1803.9" y2="922.5" stroke="#727272" stroke-width="3"/>
<line x1="1962.2" y1="928.5" x2="1962.2" y2="922.5" stroke="#727272" stroke-width="3"/>
<line x1="2120.6" y1="928.5" x2="2120.6" y2="922.5" stroke="#727272" stroke-width="3"/>
<polyline points="1408.0,930.2 1408.0,912.5 1408.1,892.4 1408.1,875.6 1408.1,861.3 1408.1,848.9 1408.2,838.1 1408.2,828.3 1408.2,819.6 1408.2,811.7 1408.3,804.4 1408.3,797.7 1408.3,791.4 1408.3,785.5 1408.4,780.0 1408.4,774.8 1408.4,769.9 1408.5,765.3 1408.5,760.9 1408.5,756.2 1408.5,751.2 1408.6,746.1 1408.6,740.9 1408.6,735.6 1408.6,730.2 1408.7,724.7 1408.7,719.4 1408.7,714.1 1408.8,708.9 1408.8,703.7 1408.8,698.5 1408.8,693.6 1408.9,688.7 1408.9,683.9 1408.9,679.2 1408.9,674.7 1409.0,670.2 1409.0,665.7 1409.0,661.5 1409.0,657.4 1409.1,653.4 1409.1,649.6 1409.1,645.8 1409.2,642.0 1409.2,638.5 1409.2,635.2 1409.2,631.8 1409.3,628.6 1409.3,625.5 1409.3,622.4 1409.3,619.3 1409.4,616.3 1409.4,613.3 1409.4,610.4 1409.4,607.4 1409.5,604.5 1409.5,601.6 1409.5,598.9 1409.6,596.2 1409.6,593.6 1409.8,574.4 1410.0,557.0 1410.2,541.0 1410.4,526.2 1410.6,512.0 1410.8,498.3 1411.0,485.7 1411.2,474.5 1411.4,464.4 1411.6,455.9 1411.8,448.1 1412.0,441.0 1412.2,434.3 1412.4,428.5 1412.6,422.8 1412.8,417.4 1413.0,411.8 1413.2,406.8 1413.4,402.1 1413.6,397.6 1413.8,393.3 1414.0,389.3 1414.2,385.4 1414.4,381.9 1414.6,378.7 1414.8,375.8 1415.0,373.4 1415.2,371.3 1415.4,369.0 1415.6,366.8 1415.8,364.7 1416.0,362.9 1416.2,360.9 1416.4,358.8 1416.7,357.2 1416.9,355.5 1417.1,353.8 1417.3,352.2 1417.5,350.4 1417.7,348.9 1417.9,347.3 1418.1,345.7 1418.3,343.9 1418.5,342.4 1418.7,341.2 1418.9,339.9 1419.1,338.6 1419.3,337.4 1419.5,336.4 1419.7,335.0 1419.9,333.8 1420.1,332.4 1420.3,331.1 1420.5,329.9 1420.7,328.8 1420.9,327.9 1421.1,326.9 1421.3,325.9 1421.5,324.9 1421.7,324.0 1421.9,323.0 1422.1,322.0 1422.3,321.1 1422.5,319.9 1422.7,318.9 1422.9,318.0 1423.1,317.2 1423.3,316.6 1423.5,316.1 1423.7,315.3 1423.9,314.4 1424.1,313.7 1424.3,313.1 1424.5,312.4 1424.7,311.4 1424.9,310.7 1425.1,310.0 1425.3,309.3 1425.5,308.7 1425.7,308.3 1425.9,307.9 1426.1,307.2 1426.3,306.6 1426.5,305.9 1426.7,305.2 1426.9,304.6 1427.2,304.0 1427.4,303.4 1427.6,302.9 1427.8,302.7 1428.0,302.1 1428.2,301.7 1428.4,301.3 1428.6,300.7 1428.8,299.9 1429.0,299.2 1429.2,298.9 1429.4,298.3 1429.6,298.1 1429.8,297.5 1430.0,297.0 1430.2,296.6 1430.4,296.1 1430.6,295.5 1430.8,294.9 1431.0,294.3 1431.2,293.5 1431.4,292.9 1431.6,292.5 1431.8,292.3 1432.0,291.9 1432.2,291.2 1432.4,290.8 1432.6,290.1 1432.8,289.8 1433.0,289.3 1433.2,288.8 1433.4,288.6 1433.6,288.1 1433.8,287.7 1434.0,287.2 1434.2,287.1 1434.4,286.8 1434.6,286.4 1434.8,285.9 1435.0,285.4 1435.2,285.1 1435.4,284.7 1435.6,284.7 1435.8,284.4 1436.0,284.2 1436.2,283.7 1436.4,283.4 1436.6,283.1 1436.8,282.8 1437.0,282.3 1437.2,282.0 1437.4,281.6 1437.7,281.4 1437.9,281.2 1438.1,280.8 1438.3,280.3 1438.5,279.8 1438.7,279.2 1438.9,278.8 1439.1,278.7 1439.3,278.3 1439.5,278.1 1439.7,277.9 1442.3,274.4 1444.8,271.4 1447.4,268.6 1450.0,266.0 1452.6,263.5 1455.2,261.4 1457.8,259.8 1460.4,258.2 1463.0,256.7 1465.6,255.5 1468.1,254.2 1470.7,252.5 1473.3,251.2 1475.9,249.9 1478.5,248.6 1481.1,247.4 1483.7,246.6 1486.3,245.8 1488.8,245.1 1491.4,244.3 1494.0,243.6 1496.6,242.5 1499.2,241.6 1501.8,240.9 1504.4,240.0 1507.0,239.2 1509.6,238.6 1512.1,238.1 1514.7,237.5 1517.3,237.0 1519.9,236.4 1522.5,235.8 1525.1,235.3 1527.7,234.8 1530.3,234.0 1532.8,233.3 1535.4,232.6 1538.0,232.1 1540.6,231.6 1543.2,231.1 1545.8,230.6 1548.4,230.3 1551.0,229.7 1553.5,229.2 1556.1,228.8 1558.7,228.3 1561.3,227.9 1563.9,227.4 1566.5,226.8 1569.1,226.8 1571.7,226.7 1574.3,226.7 1576.8,226.4 1579.4,226.0 1582.0,225.6 1584.6,225.5 1587.2,225.2 1589.8,225.2 1592.4,224.8 1595.0,224.4 1597.5,224.5 1600.1,224.1 1602.7,224.2 1605.3,224.0 1607.9,223.6 1610.5,223.4 1613.1,223.1 1615.7,222.9 1618.3,222.8 1620.8,222.6 1623.4,222.2 1626.0,221.8 1628.6,221.3 1631.2,221.0 1633.8,220.9 1636.4,220.7 1639.0,220.5 1641.5,219.9 1644.1,219.4 1646.7,219.5 1649.3,219.3 1651.9,219.1 1654.5,218.9 1657.1,218.8 1659.7,218.9 1662.3,218.8 1664.8,218.5 1667.4,218.2 1670.0,218.4 1672.6,218.2 1675.2,217.8 1677.8,217.8 1680.4,217.7 1683.0,217.4 1685.5,217.0 1688.1,216.9 1690.7,216.5 1693.3,216.4 1695.9,216.1 1698.5,215.9 1701.1,215.9 1703.7,215.8 1706.2,215.8 1708.8,215.4 1711.4,215.4 1714.0,215.3 1716.6,215.1 1719.2,215.0 1721.8,215.1 1724.4,215.1 1727.0,215.1 1729.5,215.0 1732.1,215.0 1734.7,214.9 1737.3,214.8 1739.9,214.3 1742.5,214.3 1745.1,214.2 1747.7,214.1 1750.2,213.9 1752.8,213.6 1755.4,213.5 1758.0,213.5 1760.6,213.4 1763.2,213.2 1765.8,212.8 1768.4,212.5 1771.0,212.4 1773.5,212.2 1776.1,211.9 1778.7,211.8 1781.3,211.8 1783.9,211.8 1786.5,211.7 1789.1,211.6 1791.7,211.3 1794.2,211.3 1796.8,211.2 1799.4,211.0 1802.0,210.8 1804.6,210.8 1807.2,210.9 1809.8,210.7 1812.4,210.4 1815.0,210.6 1817.5,210.6 1820.1,210.4 1822.7,210.1 1825.3,209.9 1827.9,209.7 1830.5,209.8 1833.1,209.4 1835.7,209.4 1838.2,209.4 1840.8,209.4 1843.4,209.2 1846.0,209.1 1848.6,208.9 1851.2,208.9 1853.8,208.7 1856.4,208.6 1859.0,208.4 1861.5,208.4 1864.1,208.2 1866.7,208.2 1869.3,208.2 1871.9,208.4 1874.5,208.2 1877.1,208.2 1879.7,208.1 1882.2,207.9 1884.8,207.9 1887.4,208.1 1890.0,208.0 1892.6,207.7 1895.2,207.7 1897.8,207.8 1900.4,208.1 1902.9,208.0 1905.5,208.0 1908.1,207.8 1910.7,207.7 1913.3,207.4 1915.9,207.1 1918.5,207.0 1921.1,206.9 1923.7,206.7 1926.2,206.4 1928.8,206.2 1931.4,206.3 1934.0,206.4 1936.6,206.2 1939.2,205.7 1941.8,205.9 1944.4,205.7 1946.9,205.7 1949.5,205.8 1952.1,205.9 1954.7,206.0 1957.3,205.8 1959.9,205.8 1962.5,205.7 1965.1,205.6 1967.7,205.6 1970.2,205.4 1972.8,205.3 1975.4,205.0 1978.0,205.2 1980.6,204.9 1983.2,204.9 1985.8,204.8 1988.4,204.8 1990.9,204.6 1993.5,204.6 1996.1,204.9 1998.7,204.8 2001.3,204.7 2003.9,204.8 2006.5,204.8 2009.1,204.9 2011.7,204.9 2014.2,205.1 2016.8,204.9 2019.4,204.9 2022.0,204.7 2024.6,204.6 2027.2,204.2 2029.8,204.1 2032.4,204.0 2034.9,203.6 2037.5,203.7 2040.1,203.6 2042.7,203.6 2045.3,203.4 2047.9,203.2 2050.5,203.1 2053.1,203.0 2055.6,203.0 2058.2,202.9 2060.8,202.9 2063.4,202.9 2066.0,202.9 2068.6,202.7 2071.2,202.5 2073.8,202.5 2076.4,202.3 2078.9,202.2 2081.5,202.1 2084.1,202.2 2086.7,202.1 2089.3,202.1 2091.9,201.7 2094.5,201.5 2097.1,201.2 2099.6,201.1 2102.2,201.1 2104.8,200.9 2107.4,200.9 2110.0,200.9 2112.6,200.8 2115.2,200.5 2117.8,200.5 2120.4,200.4 2122.9,200.2 2125.5,200.4 2128.1,200.3 2130.7,200.5 2133.3,200.5 2135.9,200.7 2138.5,200.7 2141.1,200.6 2143.6,200.6 2146.2,200.6 2148.8,200.5 2151.4,200.5 2154.0,200.5 2156.6,200.3 2159.2,200.4 2161.8,200.4 2164.4,200.0 2166.9,200.0 2169.5,199.8 2172.1,199.9 2174.7,199.6 2177.3,199.5 2179.9,199.7 2182.5,199.6 2185.1,199.3 2187.6,199.1 2190.2,198.9 2192.8,199.2 2195.4,199.1 2198.0,198.9 2200.6,198.4 2203.2,198.6 2205.8,198.4 2208.4,198.3 2210.9,198.1 2213.5,198.1" fill="none" stroke="#5c5c5c" stroke-width="3" stroke-linejoin="round" stroke-linecap="round"/>
<polyline points="1408.0,930.2 1408.0,912.4 1408.1,892.2 1408.1,875.2 1408.1,860.8 1408.1,848.4 1408.2,837.5 1408.2,827.7 1408.2,819.0 1408.2,810.9 1408.3,803.5 1408.3,796.7 1408.3,790.3 1408.3,784.5 1408.4,778.9 1408.4,773.8 1408.4,768.9 1408.5,764.3 1408.5,759.8 1408.5,755.2 1408.5,750.2 1408.6,744.9 1408.6,739.6 1408.6,734.1 1408.6,728.7 1408.7,723.3 1408.7,717.9 1408.7,712.6 1408.8,707.3 1408.8,702.1 1408.8,697.0 1408.8,691.9 1408.9,687.0 1408.9,682.2 1408.9,677.5 1408.9,672.9 1409.0,668.4 1409.0,664.1 1409.0,659.9 1409.0,655.7 1409.1,651.8 1409.1,647.9 1409.1,644.1 1409.2,640.3 1409.2,636.7 1409.2,633.2 1409.2,630.0 1409.3,626.7 1409.3,623.5 1409.3,620.4 1409.3,617.6 1409.4,614.6 1409.4,611.5 1409.4,608.4 1409.4,605.4 1409.5,602.5 1409.5,599.7 1409.5,596.9 1409.6,594.2 1409.6,591.4 1409.8,572.1 1410.0,554.5 1410.2,538.3 1410.4,523.2 1410.6,508.9 1410.8,494.8 1411.0,481.9 1411.2,470.3 1411.4,460.4 1411.6,451.6 1411.8,443.7 1412.0,436.5 1412.2,430.0 1412.4,424.1 1412.6,418.4 1412.8,413.1 1413.0,407.6 1413.2,402.6 1413.4,398.1 1413.6,393.6 1413.8,389.5 1414.0,385.5 1414.2,381.8 1414.4,378.3 1414.6,375.3 1414.8,372.5 1415.0,369.8 1415.2,367.3 1415.4,364.9 1415.6,362.9 1415.8,360.8 1416.0,358.9 1416.2,356.9 1416.4,354.9 1416.7,352.9 1416.9,351.1 1417.1,349.3 1417.3,347.8 1417.5,346.4 1417.7,344.5 1417.9,342.8 1418.1,341.3 1418.3,339.7 1418.5,338.7 1418.7,337.2 1418.9,335.8 1419.1,334.4 1419.3,333.2 1419.5,332.1 1419.7,330.7 1419.9,329.3 1420.1,328.2 1420.3,326.8 1420.5,325.4 1420.7,324.3 1420.9,323.3 1421.1,322.5 1421.3,321.6 1421.5,320.5 1421.7,319.5 1421.9,318.5 1422.1,317.7 1422.3,316.7 1422.5,315.7 1422.7,314.7 1422.9,314.0 1423.1,313.1 1423.3,312.1 1423.5,311.2 1423.7,310.4 1423.9,309.8 1424.1,308.8 1424.3,308.1 1424.5,307.2 1424.7,306.5 1424.9,305.9 1425.1,305.1 1425.3,304.4 1425.5,303.7 1425.7,303.3 1425.9,302.4 1426.1,301.8 1426.3,301.3 1426.5,300.8 1426.7,300.2 1426.9,299.5 1427.2,298.9 1427.4,298.3 1427.6,297.6 1427.8,297.2 1428.0,296.8 1428.2,296.3 1428.4,295.6 1428.6,295.2 1428.8,294.8 1429.0,294.5 1429.2,294.1 1429.4,293.7 1429.6,293.1 1429.8,292.6 1430.0,292.2 1430.2,291.8 1430.4,291.3 1430.6,291.0 1430.8,290.4 1431.0,289.8 1431.2,289.4 1431.4,288.9 1431.6,288.5 1431.8,287.9 1432.0,287.3 1432.2,286.7 1432.4,286.2 1432.6,285.8 1432.8,285.2 1433.0,284.9 1433.2,284.3 1433.4,284.1 1433.6,283.6 1433.8,283.0 1434.0,282.6 1434.2,282.2 1434.4,282.1 1434.6,281.7 1434.8,281.4 1435.0,281.2 1435.2,280.8 1435.4,280.4 1435.6,280.1 1435.8,280.1 1436.0,279.8 1436.2,279.6 1436.4,279.4 1436.6,279.0 1436.8,279.0 1437.0,278.7 1437.2,278.4 1437.4,277.9 1437.7,277.6 1437.9,277.4 1438.1,277.0 1438.3,276.8 1438.5,276.7 1438.7,276.3 1438.9,276.0 1439.1,275.3 1439.3,275.1 1439.5,274.7 1439.7,274.6 1442.3,271.0 1444.8,268.1 1447.4,265.3 1450.0,263.0 1452.6,260.6 1455.2,258.4 1457.8,256.4 1460.4,254.7 1463.0,253.0 1465.6,251.5 1468.1,249.7 1470.7,248.5 1473.3,247.0 1475.9,245.4 1478.5,244.3 1481.1,243.0 1483.7,241.9 1486.3,240.8 1488.8,239.7 1491.4,238.9 1494.0,237.8 1496.6,236.7 1499.2,236.0 1501.8,235.2 1504.4,234.6 1507.0,233.9 1509.6,233.3 1512.1,232.7 1514.7,232.5 1517.3,231.8 1519.9,231.2 1522.5,230.6 1525.1,230.2 1527.7,229.7 1530.3,229.2 1532.8,229.1 1535.4,228.9 1538.0,228.3 1540.6,228.0 1543.2,227.4 1545.8,227.2 1548.4,226.7 1551.0,226.2 1553.5,225.5 1556.1,224.9 1558.7,224.7 1561.3,224.2 1563.9,223.8 1566.5,223.3 1569.1,222.9 1571.7,222.4 1574.3,221.9 1576.8,221.6 1579.4,221.1 1582.0,220.9 1584.6,220.5 1587.2,220.3 1589.8,219.9 1592.4,219.9 1595.0,219.7 1597.5,219.4 1600.1,219.4 1602.7,219.0 1605.3,218.7 1607.9,218.3 1610.5,218.0 1613.1,217.9 1615.7,217.8 1618.3,217.4 1620.8,217.3 1623.4,217.1 1626.0,216.6 1628.6,216.6 1631.2,216.1 1633.8,216.0 1636.4,215.5 1639.0,214.8 1641.5,214.7 1644.1,214.5 1646.7,214.6 1649.3,214.4 1651.9,214.3 1654.5,214.0 1657.1,213.9 1659.7,213.6 1662.3,213.2 1664.8,213.2 1667.4,212.8 1670.0,212.8 1672.6,212.7 1675.2,212.4 1677.8,212.5 1680.4,212.3 1683.0,212.1 1685.5,211.8 1688.1,211.5 1690.7,211.3 1693.3,211.2 1695.9,211.2 1698.5,211.0 1701.1,211.0 1703.7,210.8 1706.2,210.8 1708.8,210.5 1711.4,210.2 1714.0,210.4 1716.6,210.6 1719.2,210.5 1721.8,210.2 1724.4,210.1 1727.0,210.0 1729.5,209.8 1732.1,209.4 1734.7,209.2 1737.3,209.1 1739.9,208.9 1742.5,209.1 1745.1,208.9 1747.7,208.8 1750.2,208.7 1752.8,208.6 1755.4,208.0 1758.0,207.8 1760.6,207.9 1763.2,207.8 1765.8,207.7 1768.4,207.6 1771.0,207.6 1773.5,207.4 1776.1,207.1 1778.7,206.7 1781.3,206.4 1783.9,206.4 1786.5,206.4 1789.1,206.2 1791.7,205.8 1794.2,205.8 1796.8,205.6 1799.4,205.3 1802.0,205.5 1804.6,205.3 1807.2,205.4 1809.8,205.3 1812.4,205.4 1815.0,205.4 1817.5,205.4 1820.1,205.3 1822.7,205.4 1825.3,205.2 1827.9,205.2 1830.5,205.3 1833.1,204.8 1835.7,205.0 1838.2,204.8 1840.8,204.5 1843.4,204.3 1846.0,204.3 1848.6,204.2 1851.2,203.9 1853.8,204.1 1856.4,203.7 1859.0,203.5 1861.5,203.2 1864.1,203.1 1866.7,202.9 1869.3,203.2 1871.9,203.5 1874.5,203.1 1877.1,203.1 1879.7,202.8 1882.2,203.1 1884.8,202.6 1887.4,202.5 1890.0,202.5 1892.6,202.2 1895.2,202.4 1897.8,202.3 1900.4,202.2 1902.9,202.4 1905.5,202.4 1908.1,202.2 1910.7,202.1 1913.3,202.2 1915.9,202.2 1918.5,202.4 1921.1,201.9 1923.7,201.9 1926.2,201.7 1928.8,201.5 1931.4,201.3 1934.0,201.2 1936.6,201.1 1939.2,201.2 1941.8,201.0 1944.4,200.9 1946.9,200.7 1949.5,200.6 1952.1,200.5 1954.7,200.1 1957.3,199.9 1959.9,199.9 1962.5,200.0 1965.1,200.1 1967.7,200.0 1970.2,199.9 1972.8,200.0 1975.4,200.1 1978.0,199.8 1980.6,199.4 1983.2,199.4 1985.8,199.1 1988.4,198.9 1990.9,199.0 1993.5,199.0 1996.1,199.1 1998.7,198.9 2001.3,198.8 2003.9,198.7 2006.5,198.4 2009.1,198.7 2011.7,198.6 2014.2,198.6 2016.8,198.7 2019.4,198.7 2022.0,198.7 2024.6,198.7 2027.2,198.3 2029.8,198.1 2032.4,197.9 2034.9,197.6 2037.5,197.3 2040.1,197.2 2042.7,197.2 2045.3,197.1 2047.9,196.8 2050.5,196.6 2053.1,196.3 2055.6,196.2 2058.2,196.1 2060.8,195.8 2063.4,196.0 2066.0,196.1 2068.6,196.1 2071.2,196.4 2073.8,196.3 2076.4,196.7 2078.9,196.6 2081.5,196.6 2084.1,196.5 2086.7,196.5 2089.3,196.5 2091.9,196.6 2094.5,196.5 2097.1,196.7 2099.6,196.8 2102.2,196.6 2104.8,196.5 2107.4,196.0 2110.0,195.9 2112.6,195.8 2115.2,195.6 2117.8,195.5 2120.4,195.2 2122.9,195.3 2125.5,195.2 2128.1,195.2 2130.7,195.1 2133.3,195.1 2135.9,194.8 2138.5,194.7 2141.1,194.7 2143.6,194.8 2146.2,195.0 2148.8,195.0 2151.4,195.1 2154.0,194.9 2156.6,195.0 2159.2,195.0 2161.8,195.1 2164.4,195.1 2166.9,194.6 2169.5,194.4 2172.1,194.6 2174.7,194.4 2177.3,194.6 2179.9,194.5 2182.5,194.3 2185.1,194.3 2187.6,194.3 2190.2,194.4 2192.8,194.5 2195.4,194.3 2198.0,194.3 2200.6,194.2 2203.2,194.0 2205.8,194.4 2208.4,194.3 2210.9,194.0 2213.5,194.3" fill="none" stroke="#ff6e93" stroke-width="3" stroke-linejoin="round" stroke-linecap="round"/>
<polyline points="1408.0,930.2 1408.0,913.5 1408.1,894.5 1408.1,878.6 1408.1,865.1 1408.1,853.4 1408.2,843.1 1408.2,834.0 1408.2,825.7 1408.2,818.2 1408.3,811.3 1408.3,804.9 1408.3,799.0 1408.3,793.4 1408.4,788.3 1408.4,783.4 1408.4,778.7 1408.5,774.3 1408.5,770.2 1408.5,765.8 1408.5,761.1 1408.6,756.2 1408.6,751.1 1408.6,746.0 1408.6,740.9 1408.7,735.8 1408.7,730.7 1408.7,725.6 1408.8,720.5 1408.8,715.6 1408.8,710.7 1408.8,706.0 1408.9,701.4 1408.9,696.9 1408.9,692.5 1408.9,688.2 1409.0,684.1 1409.0,680.0 1409.0,676.0 1409.0,672.2 1409.1,668.3 1409.1,664.5 1409.1,661.1 1409.2,657.8 1409.2,654.5 1409.2,651.3 1409.2,648.2 1409.3,645.3 1409.3,642.2 1409.3,639.3 1409.3,636.4 1409.4,633.6 1409.4,630.7 1409.4,627.9 1409.4,625.2 1409.5,622.4 1409.5,619.7 1409.5,617.1 1409.6,614.5 1409.6,612.1 1409.8,593.9 1410.0,577.2 1410.2,561.9 1410.4,548.0 1410.6,534.5 1410.8,521.5 1411.0,509.4 1411.2,498.7 1411.4,489.2 1411.6,481.0 1411.8,473.6 1412.0,467.1 1412.2,461.0 1412.4,455.3 1412.6,449.6 1412.8,444.5 1413.0,439.8 1413.2,434.7 1413.4,430.2 1413.6,426.0 1413.8,421.9 1414.0,418.2 1414.2,414.6 1414.4,411.3 1414.6,408.4 1414.8,405.7 1415.0,403.0 1415.2,400.5 1415.4,398.5 1415.6,396.9 1415.8,395.1 1416.0,393.2 1416.2,391.7 1416.4,390.0 1416.7,388.2 1416.9,386.5 1417.1,385.0 1417.3,383.5 1417.5,381.8 1417.7,380.2 1417.9,378.8 1418.1,377.4 1418.3,376.0 1418.5,374.4 1418.7,373.0 1418.9,371.7 1419.1,370.4 1419.3,369.2 1419.5,368.0 1419.7,366.8 1419.9,365.8 1420.1,364.6 1420.3,363.4 1420.5,362.3 1420.7,361.2 1420.9,360.2 1421.1,359.6 1421.3,358.8 1421.5,358.0 1421.7,357.1 1421.9,356.0 1422.1,355.2 1422.3,354.4 1422.5,353.5 1422.7,352.7 1422.9,351.7 1423.1,351.3 1423.3,350.7 1423.5,350.1 1423.7,349.3 1423.9,348.4 1424.1,347.9 1424.3,347.2 1424.5,346.5 1424.7,345.8 1424.9,345.2 1425.1,344.2 1425.3,343.8 1425.5,343.3 1425.7,342.8 1425.9,342.3 1426.1,341.5 1426.3,340.7 1426.5,340.1 1426.7,339.5 1426.9,339.0 1427.2,338.4 1427.4,337.5 1427.6,336.7 1427.8,336.1 1428.0,335.5 1428.2,335.3 1428.4,334.7 1428.6,334.1 1428.8,333.5 1429.0,333.1 1429.2,332.6 1429.4,332.2 1429.6,331.6 1429.8,331.1 1430.0,330.6 1430.2,329.7 1430.4,329.4 1430.6,328.9 1430.8,328.5 1431.0,328.1 1431.2,327.9 1431.4,327.5 1431.6,327.1 1431.8,326.7 1432.0,326.1 1432.2,325.7 1432.4,325.5 1432.6,324.9 1432.8,324.7 1433.0,324.5 1433.2,324.5 1433.4,324.2 1433.6,323.9 1433.8,323.5 1434.0,322.8 1434.2,322.3 1434.4,321.6 1434.6,321.0 1434.8,320.7 1435.0,320.3 1435.2,319.9 1435.4,319.2 1435.6,319.2 1435.8,318.9 1436.0,318.4 1436.2,318.0 1436.4,317.8 1436.6,317.6 1436.8,317.5 1437.0,317.6 1437.2,317.2 1437.4,317.1 1437.7,317.1 1437.9,317.0 1438.1,316.9 1438.3,316.9 1438.5,316.6 1438.7,316.4 1438.9,315.9 1439.1,315.8 1439.3,315.5 1439.5,315.3 1439.7,314.9 1442.3,311.4 1444.8,308.2 1447.4,305.3 1450.0,302.9 1452.6,300.7 1455.2,298.5 1457.8,296.8 1460.4,294.8 1463.0,293.2 1465.6,291.5 1468.1,290.4 1470.7,289.1 1473.3,287.7 1475.9,286.3 1478.5,285.7 1481.1,284.7 1483.7,284.0 1486.3,283.1 1488.8,282.4 1491.4,281.4 1494.0,280.7 1496.6,279.6 1499.2,278.6 1501.8,278.1 1504.4,277.5 1507.0,276.8 1509.6,275.8 1512.1,275.4 1514.7,274.6 1517.3,273.7 1519.9,273.3 1522.5,272.8 1525.1,272.5 1527.7,271.7 1530.3,271.2 1532.8,270.7 1535.4,270.3 1538.0,270.0 1540.6,269.4 1543.2,268.9 1545.8,268.3 1548.4,268.3 1551.0,267.8 1553.5,267.6 1556.1,267.2 1558.7,266.8 1561.3,266.2 1563.9,266.0 1566.5,265.5 1569.1,265.4 1571.7,265.0 1574.3,264.8 1576.8,264.6 1579.4,264.3 1582.0,264.2 1584.6,264.0 1587.2,263.4 1589.8,263.0 1592.4,263.0 1595.0,262.6 1597.5,262.3 1600.1,261.9 1602.7,261.6 1605.3,261.4 1607.9,261.2 1610.5,260.9 1613.1,260.7 1615.7,260.6 1618.3,260.4 1620.8,259.9 1623.4,259.8 1626.0,259.5 1628.6,259.3 1631.2,258.9 1633.8,258.9 1636.4,258.7 1639.0,258.6 1641.5,258.1 1644.1,258.1 1646.7,257.9 1649.3,257.8 1651.9,257.7 1654.5,257.5 1657.1,257.4 1659.7,257.7 1662.3,257.4 1664.8,257.5 1667.4,257.2 1670.0,257.1 1672.6,257.1 1675.2,256.9 1677.8,256.7 1680.4,256.9 1683.0,256.8 1685.5,256.4 1688.1,256.2 1690.7,256.0 1693.3,255.8 1695.9,255.4 1698.5,254.8 1701.1,254.8 1703.7,254.6 1706.2,254.7 1708.8,254.3 1711.4,254.1 1714.0,254.0 1716.6,253.9 1719.2,253.5 1721.8,253.1 1724.4,253.2 1727.0,252.9 1729.5,252.7 1732.1,252.6 1734.7,252.3 1737.3,252.2 1739.9,252.1 1742.5,251.9 1745.1,252.0 1747.7,251.8 1750.2,251.9 1752.8,251.9 1755.4,251.9 1758.0,251.9 1760.6,251.9 1763.2,251.6 1765.8,251.5 1768.4,251.2 1771.0,251.0 1773.5,251.2 1776.1,251.1 1778.7,251.0 1781.3,250.7 1783.9,250.2 1786.5,250.1 1789.1,249.7 1791.7,249.5 1794.2,249.2 1796.8,249.2 1799.4,249.0 1802.0,248.9 1804.6,248.9 1807.2,249.0 1809.8,248.9 1812.4,248.9 1815.0,248.8 1817.5,248.6 1820.1,248.6 1822.7,248.6 1825.3,248.5 1827.9,248.6 1830.5,248.7 1833.1,248.6 1835.7,248.4 1838.2,248.4 1840.8,248.5 1843.4,248.1 1846.0,247.8 1848.6,248.0 1851.2,247.9 1853.8,248.1 1856.4,247.9 1859.0,247.9 1861.5,247.7 1864.1,247.6 1866.7,247.6 1869.3,247.3 1871.9,247.3 1874.5,247.6 1877.1,247.4 1879.7,247.2 1882.2,247.2 1884.8,247.4 1887.4,247.0 1890.0,246.8 1892.6,246.6 1895.2,246.6 1897.8,246.2 1900.4,246.5 1902.9,246.4 1905.5,246.0 1908.1,245.7 1910.7,245.6 1913.3,245.0 1915.9,244.9 1918.5,245.0 1921.1,244.9 1923.7,244.6 1926.2,244.6 1928.8,244.6 1931.4,244.8 1934.0,244.8 1936.6,244.9 1939.2,244.7 1941.8,245.1 1944.4,245.0 1946.9,245.2 1949.5,245.1 1952.1,245.0 1954.7,245.1 1957.3,245.0 1959.9,245.0 1962.5,245.1 1965.1,245.1 1967.7,245.1 1970.2,244.7 1972.8,244.4 1975.4,244.6 1978.0,244.5 1980.6,243.9 1983.2,243.8 1985.8,243.6 1988.4,243.8 1990.9,243.8 1993.5,243.7 1996.1,243.6 1998.7,243.8 2001.3,243.5 2003.9,243.1 2006.5,243.0 2009.1,242.8 2011.7,242.5 2014.2,242.1 2016.8,242.1 2019.4,242.1 2022.0,242.1 2024.6,242.1 2027.2,241.8 2029.8,241.7 2032.4,241.9 2034.9,241.6 2037.5,241.3 2040.1,241.5 2042.7,241.5 2045.3,241.6 2047.9,241.7 2050.5,241.9 2053.1,241.9 2055.6,241.7 2058.2,241.6 2060.8,241.6 2063.4,241.6 2066.0,241.4 2068.6,241.4 2071.2,241.2 2073.8,241.2 2076.4,241.2 2078.9,241.2 2081.5,241.5 2084.1,241.3 2086.7,241.2 2089.3,241.3 2091.9,241.2 2094.5,241.2 2097.1,241.1 2099.6,241.0 2102.2,240.8 2104.8,241.1 2107.4,241.1 2110.0,240.9 2112.6,240.9 2115.2,240.7 2117.8,240.6 2120.4,240.3 2122.9,240.1 2125.5,240.2 2128.1,240.5 2130.7,240.4 2133.3,240.3 2135.9,240.2 2138.5,240.3 2141.1,240.3 2143.6,239.9 2146.2,239.5 2148.8,239.3 2151.4,239.4 2154.0,239.5 2156.6,239.3 2159.2,239.6 2161.8,239.4 2164.4,239.0 2166.9,238.9 2169.5,238.9 2172.1,239.1 2174.7,239.1 2177.3,238.8 2179.9,239.1 2182.5,239.4 2185.1,239.2 2187.6,239.1 2190.2,238.8 2192.8,238.6 2195.4,238.7 2198.0,238.4 2200.6,238.6 2203.2,238.8 2205.8,238.5 2208.4,238.5 2210.9,238.3 2213.5,238.6" fill="none" stroke="#ffb8c0" stroke-width="3" stroke-linejoin="round" stroke-linecap="round"/>
<polyline points="1408.0,930.2 1408.0,912.7 1408.1,892.9 1408.1,876.2 1408.1,862.0 1408.1,849.8 1408.2,839.1 1408.2,829.6 1408.2,820.9 1408.2,813.1 1408.3,805.8 1408.3,799.2 1408.3,793.0 1408.3,787.3 1408.4,781.9 1408.4,776.8 1408.4,771.9 1408.5,767.4 1408.5,763.0 1408.5,758.4 1408.5,753.5 1408.6,748.4 1408.6,743.1 1408.6,737.8 1408.6,732.4 1408.7,727.1 1408.7,721.8 1408.7,716.5 1408.8,711.2 1408.8,706.2 1408.8,701.1 1408.8,696.2 1408.9,691.4 1408.9,686.6 1408.9,682.0 1408.9,677.5 1409.0,673.0 1409.0,668.6 1409.0,664.5 1409.0,660.4 1409.1,656.4 1409.1,652.5 1409.1,648.8 1409.2,645.2 1409.2,641.6 1409.2,638.1 1409.2,634.8 1409.3,631.6 1409.3,628.4 1409.3,625.3 1409.3,622.3 1409.4,619.4 1409.4,616.5 1409.4,613.6 1409.4,610.8 1409.5,608.1 1409.5,605.4 1409.5,602.6 1409.6,599.9 1409.6,597.4 1409.8,578.4 1410.0,561.1 1410.2,545.3 1410.4,530.7 1410.6,516.5 1410.8,503.0 1411.0,490.4 1411.2,479.0 1411.4,469.0 1411.6,460.6 1411.8,452.7 1412.0,445.9 1412.2,439.8 1412.4,433.9 1412.6,428.1 1412.8,422.8 1413.0,417.7 1413.2,412.8 1413.4,408.2 1413.6,403.8 1413.8,399.4 1414.0,395.2 1414.2,391.6 1414.4,388.3 1414.6,384.9 1414.8,381.9 1415.0,379.2 1415.2,376.6 1415.4,374.3 1415.6,372.2 1415.8,370.4 1416.0,368.3 1416.2,366.1 1416.4,364.4 1416.7,362.5 1416.9,360.9 1417.1,359.2 1417.3,357.4 1417.5,355.6 1417.7,354.0 1417.9,352.4 1418.1,350.8 1418.3,349.4 1418.5,348.0 1418.7,346.9 1418.9,345.1 1419.1,344.0 1419.3,343.0 1419.5,341.7 1419.7,340.5 1419.9,339.3 1420.1,338.2 1420.3,337.2 1420.5,336.5 1420.7,335.5 1420.9,334.8 1421.1,334.0 1421.3,333.1 1421.5,331.9 1421.7,330.8 1421.9,330.1 1422.1,329.0 1422.3,328.0 1422.5,327.2 1422.7,326.4 1422.9,325.7 1423.1,325.0 1423.3,324.2 1423.5,323.1 1423.7,322.3 1423.9,321.5 1424.1,320.6 1424.3,319.9 1424.5,319.5 1424.7,318.7 1424.9,317.9 1425.1,317.4 1425.3,316.6 1425.5,315.7 1425.7,315.1 1425.9,314.4 1426.1,313.7 1426.3,313.1 1426.5,312.6 1426.7,311.9 1426.9,311.2 1427.2,310.5 1427.4,309.8 1427.6,309.0 1427.8,308.8 1428.0,308.0 1428.2,307.4 1428.4,307.0 1428.6,306.5 1428.8,305.7 1429.0,305.1 1429.2,304.6 1429.4,304.1 1429.6,303.6 1429.8,303.1 1430.0,302.6 1430.2,302.3 1430.4,301.8 1430.6,301.7 1430.8,301.0 1431.0,300.8 1431.2,300.2 1431.4,299.8 1431.6,299.3 1431.8,299.2 1432.0,299.0 1432.2,298.7 1432.4,298.3 1432.6,298.0 1432.8,297.6 1433.0,297.1 1433.2,297.0 1433.4,296.8 1433.6,296.3 1433.8,296.0 1434.0,295.5 1434.2,295.0 1434.4,294.5 1434.6,294.2 1434.8,293.6 1435.0,293.0 1435.2,292.6 1435.4,292.1 1435.6,291.5 1435.8,291.1 1436.0,290.7 1436.2,290.4 1436.4,289.8 1436.6,289.4 1436.8,289.2 1437.0,288.9 1437.2,288.8 1437.4,288.6 1437.7,288.5 1437.9,288.2 1438.1,288.0 1438.3,287.7 1438.5,287.3 1438.7,287.3 1438.9,287.1 1439.1,287.0 1439.3,286.5 1439.5,286.4 1439.7,286.2 1442.3,282.7 1444.8,279.7 1447.4,277.1 1450.0,274.7 1452.6,272.3 1455.2,270.2 1457.8,268.2 1460.4,266.6 1463.0,265.4 1465.6,263.9 1468.1,262.4 1470.7,260.9 1473.3,259.5 1475.9,257.9 1478.5,256.5 1481.1,255.4 1483.7,254.4 1486.3,253.3 1488.8,252.2 1491.4,251.3 1494.0,250.5 1496.6,249.6 1499.2,248.7 1501.8,247.8 1504.4,247.1 1507.0,246.3 1509.6,245.9 1512.1,245.5 1514.7,245.3 1517.3,244.9 1519.9,244.2 1522.5,243.6 1525.1,243.1 1527.7,242.7 1530.3,242.1 1532.8,241.8 1535.4,241.3 1538.0,240.9 1540.6,240.6 1543.2,240.2 1545.8,240.0 1548.4,239.3 1551.0,238.6 1553.5,238.2 1556.1,238.0 1558.7,237.6 1561.3,237.1 1563.9,236.8 1566.5,236.4 1569.1,236.0 1571.7,235.5 1574.3,235.2 1576.8,234.6 1579.4,233.8 1582.0,233.2 1584.6,232.6 1587.2,232.0 1589.8,231.8 1592.4,231.4 1595.0,230.9 1597.5,230.7 1600.1,230.6 1602.7,230.2 1605.3,230.0 1607.9,229.9 1610.5,229.5 1613.1,229.2 1615.7,229.0 1618.3,228.9 1620.8,228.8 1623.4,228.9 1626.0,228.9 1628.6,228.7 1631.2,228.5 1633.8,228.4 1636.4,228.3 1639.0,228.0 1641.5,227.8 1644.1,227.5 1646.7,227.3 1649.3,227.2 1651.9,227.3 1654.5,227.0 1657.1,227.1 1659.7,226.9 1662.3,226.7 1664.8,226.8 1667.4,226.4 1670.0,226.1 1672.6,226.0 1675.2,225.8 1677.8,225.5 1680.4,225.4 1683.0,225.2 1685.5,225.2 1688.1,225.1 1690.7,225.0 1693.3,225.1 1695.9,224.9 1698.5,225.0 1701.1,224.4 1703.7,224.0 1706.2,224.0 1708.8,223.4 1711.4,223.1 1714.0,222.7 1716.6,222.4 1719.2,222.3 1721.8,222.2 1724.4,222.2 1727.0,222.0 1729.5,221.9 1732.1,221.8 1734.7,221.7 1737.3,221.4 1739.9,221.5 1742.5,221.3 1745.1,221.2 1747.7,221.5 1750.2,221.4 1752.8,221.4 1755.4,221.3 1758.0,221.2 1760.6,221.3 1763.2,221.0 1765.8,221.0 1768.4,220.6 1771.0,220.5 1773.5,220.4 1776.1,220.1 1778.7,220.1 1781.3,220.1 1783.9,220.0 1786.5,220.0 1789.1,219.9 1791.7,219.7 1794.2,219.9 1796.8,219.6 1799.4,219.4 1802.0,219.1 1804.6,218.9 1807.2,218.9 1809.8,218.8 1812.4,218.5 1815.0,218.6 1817.5,218.2 1820.1,218.1 1822.7,217.9 1825.3,217.7 1827.9,217.5 1830.5,217.6 1833.1,217.5 1835.7,217.3 1838.2,217.4 1840.8,217.3 1843.4,217.1 1846.0,216.9 1848.6,217.0 1851.2,217.0 1853.8,217.0 1856.4,216.9 1859.0,216.7 1861.5,216.7 1864.1,216.6 1866.7,216.6 1869.3,216.3 1871.9,216.4 1874.5,216.5 1877.1,216.3 1879.7,216.2 1882.2,215.9 1884.8,215.9 1887.4,215.6 1890.0,215.5 1892.6,215.2 1895.2,215.0 1897.8,215.2 1900.4,215.3 1902.9,215.2 1905.5,215.2 1908.1,215.3 1910.7,215.0 1913.3,214.9 1915.9,214.9 1918.5,214.8 1921.1,215.1 1923.7,215.0 1926.2,214.6 1928.8,214.4 1931.4,214.3 1934.0,214.6 1936.6,214.3 1939.2,214.3 1941.8,214.1 1944.4,214.2 1946.9,213.9 1949.5,213.6 1952.1,213.5 1954.7,213.5 1957.3,213.3 1959.9,213.0 1962.5,213.2 1965.1,213.4 1967.7,213.5 1970.2,213.4 1972.8,213.1 1975.4,213.0 1978.0,212.9 1980.6,212.8 1983.2,212.5 1985.8,212.5 1988.4,212.7 1990.9,212.5 1993.5,211.9 1996.1,212.1 1998.7,211.9 2001.3,211.7 2003.9,211.3 2006.5,211.4 2009.1,211.5 2011.7,211.3 2014.2,211.5 2016.8,211.4 2019.4,211.3 2022.0,211.4 2024.6,211.6 2027.2,211.7 2029.8,211.6 2032.4,211.5 2034.9,211.4 2037.5,211.6 2040.1,211.7 2042.7,211.9 2045.3,211.3 2047.9,211.3 2050.5,211.5 2053.1,211.4 2055.6,211.2 2058.2,211.0 2060.8,211.0 2063.4,210.9 2066.0,210.7 2068.6,210.5 2071.2,210.7 2073.8,210.7 2076.4,210.5 2078.9,210.2 2081.5,210.2 2084.1,210.1 2086.7,210.0 2089.3,209.9 2091.9,209.7 2094.5,209.4 2097.1,209.5 2099.6,209.6 2102.2,209.4 2104.8,209.5 2107.4,209.4 2110.0,209.0 2112.6,208.9 2115.2,208.8 2117.8,208.5 2120.4,208.5 2122.9,208.7 2125.5,208.8 2128.1,208.8 2130.7,208.9 2133.3,209.0 2135.9,208.9 2138.5,208.7 2141.1,208.8 2143.6,208.6 2146.2,208.4 2148.8,208.8 2151.4,208.7 2154.0,208.8 2156.6,209.1 2159.2,209.2 2161.8,209.2 2164.4,208.9 2166.9,209.1 2169.5,208.8 2172.1,208.8 2174.7,208.6 2177.3,208.5 2179.9,208.1 2182.5,208.1 2185.1,208.3 2187.6,208.0 2190.2,207.9 2192.8,207.6 2195.4,207.5 2198.0,207.0 2200.6,206.9 2203.2,206.6 2205.8,206.2 2208.4,206.1 2210.9,206.0 2213.5,206.1" fill="none" stroke="#ffdccc" stroke-width="3" stroke-linejoin="round" stroke-linecap="round"/>
<polyline points="1408.0,930.2 1408.0,913.3 1408.1,894.2 1408.1,878.1 1408.1,864.5 1408.1,852.7 1408.2,842.3 1408.2,833.1 1408.2,824.8 1408.2,817.2 1408.3,810.3 1408.3,803.8 1408.3,797.9 1408.3,792.3 1408.4,787.0 1408.4,782.1 1408.4,777.4 1408.5,773.0 1408.5,768.7 1408.5,764.3 1408.5,759.6 1408.6,754.6 1408.6,749.5 1408.6,744.4 1408.6,739.2 1408.7,733.9 1408.7,728.7 1408.7,723.6 1408.8,718.5 1408.8,713.6 1408.8,708.7 1408.8,703.9 1408.9,699.3 1408.9,694.9 1408.9,690.5 1408.9,686.1 1409.0,682.0 1409.0,677.8 1409.0,673.7 1409.0,669.7 1409.1,666.0 1409.1,662.4 1409.1,658.9 1409.2,655.4 1409.2,652.1 1409.2,648.8 1409.2,645.7 1409.3,642.6 1409.3,639.5 1409.3,636.5 1409.3,633.6 1409.4,630.7 1409.4,628.0 1409.4,625.2 1409.4,622.5 1409.5,619.8 1409.5,617.2 1409.5,614.4 1409.6,611.8 1409.6,609.2 1409.8,590.9 1410.0,574.2 1410.2,558.9 1410.4,544.6 1410.6,530.9 1410.8,517.9 1411.0,505.6 1411.2,494.7 1411.4,485.2 1411.6,476.8 1411.8,469.2 1412.0,462.3 1412.2,456.2 1412.4,450.4 1412.6,445.0 1412.8,439.8 1413.0,434.8 1413.2,430.1 1413.4,425.6 1413.6,421.3 1413.8,417.0 1414.0,413.3 1414.2,409.7 1414.4,406.3 1414.6,403.2 1414.8,400.5 1415.0,398.2 1415.2,395.5 1415.4,393.7 1415.6,391.7 1415.8,389.8 1416.0,388.0 1416.2,386.1 1416.4,384.3 1416.7,382.6 1416.9,380.8 1417.1,379.2 1417.3,377.7 1417.5,376.2 1417.7,374.7 1417.9,373.5 1418.1,372.1 1418.3,370.9 1418.5,369.3 1418.7,367.9 1418.9,366.5 1419.1,364.8 1419.3,363.7 1419.5,362.6 1419.7,361.5 1419.9,360.4 1420.1,359.1 1420.3,358.1 1420.5,357.0 1420.7,356.0 1420.9,354.7 1421.1,353.7 1421.3,352.7 1421.5,351.9 1421.7,350.9 1421.9,350.2 1422.1,349.4 1422.3,348.3 1422.5,347.3 1422.7,346.7 1422.9,346.0 1423.1,345.3 1423.3,344.2 1423.5,343.3 1423.7,342.5 1423.9,341.9 1424.1,341.2 1424.3,340.4 1424.5,339.7 1424.7,339.5 1424.9,338.5 1425.1,338.2 1425.3,337.7 1425.5,337.1 1425.7,336.5 1425.9,335.8 1426.1,335.3 1426.3,334.6 1426.5,334.3 1426.7,333.7 1426.9,332.9 1427.2,332.3 1427.4,331.8 1427.6,331.3 1427.8,330.6 1428.0,330.3 1428.2,329.4 1428.4,328.9 1428.6,328.2 1428.8,327.5 1429.0,326.9 1429.2,326.5 1429.4,326.1 1429.6,325.5 1429.8,325.0 1430.0,324.7 1430.2,324.0 1430.4,323.3 1430.6,322.9 1430.8,322.3 1431.0,321.8 1431.2,321.4 1431.4,321.0 1431.6,320.9 1431.8,320.6 1432.0,320.2 1432.2,319.7 1432.4,319.4 1432.6,318.9 1432.8,318.7 1433.0,318.5 1433.2,318.4 1433.4,318.1 1433.6,317.7 1433.8,317.5 1434.0,317.2 1434.2,316.8 1434.4,316.6 1434.6,316.0 1434.8,315.6 1435.0,315.3 1435.2,315.1 1435.4,314.5 1435.6,314.6 1435.8,313.9 1436.0,313.5 1436.2,313.2 1436.4,313.1 1436.6,312.7 1436.8,312.3 1437.0,311.7 1437.2,311.6 1437.4,311.3 1437.7,311.3 1437.9,311.0 1438.1,310.6 1438.3,310.0 1438.5,309.8 1438.7,309.6 1438.9,309.5 1439.1,309.1 1439.3,308.4 1439.5,307.9 1439.7,307.5 1442.3,304.2 1444.8,301.7 1447.4,298.9 1450.0,296.2 1452.6,294.1 1455.2,292.1 1457.8,290.6 1460.4,289.1 1463.0,287.4 1465.6,285.5 1468.1,284.1 1470.7,282.9 1473.3,281.9 1475.9,280.8 1478.5,279.7 1481.1,278.7 1483.7,277.5 1486.3,276.5 1488.8,275.8 1491.4,274.7 1494.0,273.6 1496.6,272.6 1499.2,271.9 1501.8,271.3 1504.4,270.9 1507.0,270.3 1509.6,269.6 1512.1,269.2 1514.7,268.6 1517.3,268.1 1519.9,267.4 1522.5,266.7 1525.1,266.2 1527.7,265.8 1530.3,265.4 1532.8,264.8 1535.4,264.4 1538.0,263.9 1540.6,263.3 1543.2,262.9 1545.8,262.2 1548.4,261.7 1551.0,261.3 1553.5,261.0 1556.1,260.6 1558.7,260.3 1561.3,260.1 1563.9,259.9 1566.5,259.7 1569.1,259.3 1571.7,259.2 1574.3,258.8 1576.8,258.3 1579.4,258.3 1582.0,257.8 1584.6,257.6 1587.2,257.5 1589.8,257.2 1592.4,256.8 1595.0,256.7 1597.5,256.4 1600.1,256.2 1602.7,255.8 1605.3,255.4 1607.9,255.0 1610.5,254.8 1613.1,254.7 1615.7,254.6 1618.3,254.2 1620.8,254.2 1623.4,254.1 1626.0,253.9 1628.6,253.8 1631.2,253.8 1633.8,253.6 1636.4,253.2 1639.0,252.7 1641.5,252.5 1644.1,252.3 1646.7,252.4 1649.3,252.2 1651.9,251.7 1654.5,251.7 1657.1,251.5 1659.7,251.2 1662.3,251.0 1664.8,250.6 1667.4,250.3 1670.0,250.3 1672.6,250.1 1675.2,250.3 1677.8,250.5 1680.4,250.6 1683.0,250.6 1685.5,250.3 1688.1,250.4 1690.7,250.3 1693.3,250.1 1695.9,250.1 1698.5,249.6 1701.1,249.4 1703.7,249.2 1706.2,248.9 1708.8,248.4 1711.4,248.4 1714.0,248.1 1716.6,248.0 1719.2,247.3 1721.8,246.8 1724.4,246.9 1727.0,246.7 1729.5,246.5 1732.1,246.3 1734.7,246.1 1737.3,246.2 1739.9,246.1 1742.5,246.0 1745.1,245.7 1747.7,245.7 1750.2,245.5 1752.8,245.2 1755.4,245.1 1758.0,245.6 1760.6,245.5 1763.2,245.2 1765.8,245.2 1768.4,244.9 1771.0,245.0 1773.5,244.6 1776.1,244.6 1778.7,244.7 1781.3,244.7 1783.9,244.6 1786.5,244.5 1789.1,244.3 1791.7,244.2 1794.2,244.0 1796.8,243.5 1799.4,243.6 1802.0,243.4 1804.6,243.1 1807.2,243.4 1809.8,242.9 1812.4,243.0 1815.0,242.9 1817.5,242.5 1820.1,242.5 1822.7,242.5 1825.3,242.5 1827.9,242.6 1830.5,242.7 1833.1,242.8 1835.7,242.5 1838.2,242.7 1840.8,242.5 1843.4,242.4 1846.0,242.3 1848.6,242.6 1851.2,242.5 1853.8,242.7 1856.4,242.8 1859.0,242.6 1861.5,242.7 1864.1,242.5 1866.7,242.3 1869.3,241.7 1871.9,241.7 1874.5,241.7 1877.1,241.3 1879.7,241.5 1882.2,241.6 1884.8,241.2 1887.4,240.9 1890.0,240.4 1892.6,240.2 1895.2,239.9 1897.8,239.7 1900.4,239.5 1902.9,239.5 1905.5,239.5 1908.1,239.6 1910.7,239.1 1913.3,239.1 1915.9,239.2 1918.5,239.1 1921.1,238.8 1923.7,238.9 1926.2,238.9 1928.8,239.1 1931.4,239.3 1934.0,239.2 1936.6,239.3 1939.2,239.3 1941.8,239.0 1944.4,238.9 1946.9,238.9 1949.5,239.0 1952.1,238.9 1954.7,238.7 1957.3,238.4 1959.9,238.4 1962.5,238.4 1965.1,238.4 1967.7,238.1 1970.2,237.7 1972.8,237.6 1975.4,237.4 1978.0,237.3 1980.6,237.5 1983.2,237.5 1985.8,237.3 1988.4,237.1 1990.9,237.2 1993.5,237.2 1996.1,237.4 1998.7,237.2 2001.3,237.1 2003.9,237.1 2006.5,237.1 2009.1,236.9 2011.7,236.9 2014.2,237.0 2016.8,236.8 2019.4,236.3 2022.0,236.3 2024.6,236.4 2027.2,236.5 2029.8,236.6 2032.4,236.2 2034.9,235.7 2037.5,235.4 2040.1,235.4 2042.7,235.2 2045.3,235.1 2047.9,235.3 2050.5,235.3 2053.1,235.2 2055.6,235.3 2058.2,235.5 2060.8,235.4 2063.4,235.3 2066.0,235.2 2068.6,235.0 2071.2,235.2 2073.8,235.3 2076.4,235.3 2078.9,235.4 2081.5,235.6 2084.1,235.6 2086.7,235.4 2089.3,234.9 2091.9,235.0 2094.5,234.8 2097.1,234.6 2099.6,234.5 2102.2,234.5 2104.8,234.4 2107.4,234.2 2110.0,234.2 2112.6,234.2 2115.2,234.3 2117.8,234.0 2120.4,233.8 2122.9,233.8 2125.5,234.0 2128.1,234.3 2130.7,234.2 2133.3,234.4 2135.9,234.3 2138.5,234.1 2141.1,234.1 2143.6,234.3 2146.2,234.0 2148.8,233.8 2151.4,233.8 2154.0,234.1 2156.6,233.8 2159.2,233.6 2161.8,233.5 2164.4,233.5 2166.9,233.2 2169.5,233.3 2172.1,233.0 2174.7,233.2 2177.3,233.0 2179.9,233.0 2182.5,232.9 2185.1,233.0 2187.6,233.0 2190.2,232.8 2192.8,232.5 2195.4,232.7 2198.0,232.5 2200.6,232.5 2203.2,231.9 2205.8,232.1 2208.4,232.0 2210.9,231.8 2213.5,231.7" fill="none" stroke="#cccfc6" stroke-width="3" stroke-linejoin="round" stroke-linecap="round"/>
<polyline points="1408.0,930.2 1408.0,912.9 1408.1,893.2 1408.1,876.7 1408.1,862.7 1408.1,850.6 1408.2,840.0 1408.2,830.5 1408.2,822.0 1408.2,814.2 1408.3,807.0 1408.3,800.4 1408.3,794.2 1408.3,788.5 1408.4,783.1 1408.4,778.0 1408.4,773.2 1408.5,768.7 1408.5,764.4 1408.5,759.9 1408.5,755.0 1408.6,750.0 1408.6,744.8 1408.6,739.5 1408.6,734.2 1408.7,728.9 1408.7,723.7 1408.7,718.5 1408.8,713.4 1408.8,708.3 1408.8,703.3 1408.8,698.3 1408.9,693.5 1408.9,688.8 1408.9,684.1 1408.9,679.7 1409.0,675.4 1409.0,671.1 1409.0,666.9 1409.0,663.0 1409.1,659.0 1409.1,655.1 1409.1,651.4 1409.2,647.8 1409.2,644.3 1409.2,640.9 1409.2,637.6 1409.3,634.5 1409.3,631.4 1409.3,628.5 1409.3,625.4 1409.4,622.5 1409.4,619.6 1409.4,616.8 1409.4,613.9 1409.5,611.3 1409.5,608.5 1409.5,605.9 1409.6,603.1 1409.6,600.4 1409.8,581.7 1410.0,564.6 1410.2,549.0 1410.4,534.3 1410.6,520.3 1410.8,506.8 1411.0,494.4 1411.2,483.4 1411.4,473.5 1411.6,464.9 1411.8,457.2 1412.0,450.4 1412.2,444.0 1412.4,438.2 1412.6,432.8 1412.8,427.6 1413.0,422.3 1413.2,417.2 1413.4,412.8 1413.6,408.5 1413.8,404.3 1414.0,400.3 1414.2,396.6 1414.4,393.2 1414.6,390.2 1414.8,387.2 1415.0,384.6 1415.2,382.2 1415.4,380.0 1415.6,377.8 1415.8,375.8 1416.0,374.0 1416.2,372.2 1416.4,370.3 1416.7,368.4 1416.9,366.6 1417.1,364.8 1417.3,363.2 1417.5,361.4 1417.7,359.8 1417.9,358.1 1418.1,356.4 1418.3,355.0 1418.5,353.7 1418.7,352.2 1418.9,350.7 1419.1,349.2 1419.3,348.0 1419.5,346.8 1419.7,345.6 1419.9,344.6 1420.1,343.4 1420.3,342.1 1420.5,341.1 1420.7,340.1 1420.9,339.6 1421.1,338.8 1421.3,337.7 1421.5,336.8 1421.7,335.8 1421.9,335.2 1422.1,334.4 1422.3,333.5 1422.5,332.6 1422.7,331.9 1422.9,331.0 1423.1,330.2 1423.3,329.4 1423.5,328.7 1423.7,327.9 1423.9,327.1 1424.1,326.3 1424.3,325.5 1424.5,324.6 1424.7,323.9 1424.9,323.3 1425.1,322.6 1425.3,321.8 1425.5,321.1 1425.7,320.5 1425.9,319.9 1426.1,319.0 1426.3,318.6 1426.5,317.9 1426.7,317.3 1426.9,316.7 1427.2,316.2 1427.4,316.0 1427.6,315.8 1427.8,315.2 1428.0,314.7 1428.2,314.2 1428.4,313.5 1428.6,313.1 1428.8,312.3 1429.0,311.9 1429.2,311.7 1429.4,311.1 1429.6,310.5 1429.8,309.9 1430.0,309.4 1430.2,308.8 1430.4,307.9 1430.6,307.2 1430.8,306.7 1431.0,306.3 1431.2,305.8 1431.4,305.6 1431.6,304.9 1431.8,304.8 1432.0,304.3 1432.2,303.7 1432.4,303.2 1432.6,303.0 1432.8,302.8 1433.0,302.3 1433.2,302.1 1433.4,301.9 1433.6,301.5 1433.8,301.2 1434.0,300.7 1434.2,300.2 1434.4,299.8 1434.6,299.6 1434.8,299.0 1435.0,298.8 1435.2,298.4 1435.4,298.2 1435.6,297.7 1435.8,297.1 1436.0,296.8 1436.2,296.4 1436.4,296.2 1436.6,296.1 1436.8,295.8 1437.0,295.5 1437.2,295.2 1437.4,294.9 1437.7,294.8 1437.9,294.4 1438.1,294.1 1438.3,293.8 1438.5,293.4 1438.7,293.1 1438.9,292.9 1439.1,292.7 1439.3,292.4 1439.5,292.1 1439.7,291.7 1442.3,288.3 1444.8,285.1 1447.4,282.4 1450.0,279.9 1452.6,277.4 1455.2,275.5 1457.8,273.4 1460.4,271.6 1463.0,270.0 1465.6,268.5 1468.1,267.1 1470.7,265.9 1473.3,264.6 1475.9,263.3 1478.5,262.2 1481.1,261.3 1483.7,260.4 1486.3,259.7 1488.8,258.8 1491.4,258.0 1494.0,257.0 1496.6,256.4 1499.2,255.8 1501.8,255.0 1504.4,254.5 1507.0,253.7 1509.6,252.8 1512.1,251.8 1514.7,251.3 1517.3,250.6 1519.9,250.0 1522.5,249.4 1525.1,248.8 1527.7,248.3 1530.3,247.7 1532.8,247.3 1535.4,246.7 1538.0,246.1 1540.6,245.7 1543.2,245.2 1545.8,244.9 1548.4,244.5 1551.0,244.5 1553.5,244.0 1556.1,243.7 1558.7,243.2 1561.3,242.9 1563.9,242.4 1566.5,242.1 1569.1,241.9 1571.7,241.7 1574.3,241.4 1576.8,241.1 1579.4,240.9 1582.0,240.5 1584.6,240.0 1587.2,239.8 1589.8,239.4 1592.4,239.2 1595.0,238.9 1597.5,238.6 1600.1,238.5 1602.7,238.3 1605.3,238.0 1607.9,237.7 1610.5,237.6 1613.1,237.4 1615.7,237.0 1618.3,236.5 1620.8,236.3 1623.4,236.3 1626.0,236.0 1628.6,235.8 1631.2,235.6 1633.8,235.4 1636.4,235.1 1639.0,234.8 1641.5,234.4 1644.1,234.2 1646.7,233.8 1649.3,233.5 1651.9,233.3 1654.5,233.4 1657.1,233.3 1659.7,233.2 1662.3,232.8 1664.8,232.7 1667.4,232.5 1670.0,232.4 1672.6,232.2 1675.2,232.1 1677.8,232.0 1680.4,232.1 1683.0,231.8 1685.5,231.6 1688.1,231.3 1690.7,231.0 1693.3,231.0 1695.9,231.0 1698.5,230.8 1701.1,230.8 1703.7,230.6 1706.2,230.5 1708.8,230.1 1711.4,230.1 1714.0,230.1 1716.6,229.8 1719.2,229.7 1721.8,229.6 1724.4,229.6 1727.0,229.3 1729.5,229.3 1732.1,229.1 1734.7,228.9 1737.3,228.6 1739.9,228.3 1742.5,228.3 1745.1,228.1 1747.7,228.3 1750.2,227.8 1752.8,227.5 1755.4,227.8 1758.0,227.5 1760.6,227.5 1763.2,227.5 1765.8,227.4 1768.4,227.3 1771.0,227.2 1773.5,226.9 1776.1,226.8 1778.7,226.9 1781.3,226.8 1783.9,226.8 1786.5,226.3 1789.1,226.3 1791.7,226.2 1794.2,225.8 1796.8,225.8 1799.4,225.7 1802.0,225.5 1804.6,225.7 1807.2,225.5 1809.8,225.3 1812.4,225.5 1815.0,225.5 1817.5,225.4 1820.1,225.0 1822.7,224.7 1825.3,224.8 1827.9,224.7 1830.5,224.8 1833.1,224.6 1835.7,224.3 1838.2,224.1 1840.8,224.0 1843.4,223.7 1846.0,223.5 1848.6,223.3 1851.2,223.1 1853.8,222.7 1856.4,222.6 1859.0,222.6 1861.5,222.7 1864.1,222.5 1866.7,222.2 1869.3,222.0 1871.9,221.7 1874.5,221.8 1877.1,221.5 1879.7,221.3 1882.2,221.0 1884.8,221.2 1887.4,220.9 1890.0,220.8 1892.6,221.0 1895.2,220.9 1897.8,220.9 1900.4,220.8 1902.9,220.8 1905.5,221.0 1908.1,220.9 1910.7,221.2 1913.3,221.0 1915.9,221.1 1918.5,221.2 1921.1,221.4 1923.7,221.2 1926.2,221.2 1928.8,221.2 1931.4,221.0 1934.0,220.9 1936.6,220.9 1939.2,220.9 1941.8,220.7 1944.4,220.5 1946.9,220.5 1949.5,220.4 1952.1,220.6 1954.7,220.4 1957.3,220.2 1959.9,220.2 1962.5,220.1 1965.1,219.9 1967.7,219.7 1970.2,219.9 1972.8,219.9 1975.4,219.6 1978.0,219.5 1980.6,219.4 1983.2,219.3 1985.8,219.0 1988.4,219.1 1990.9,219.1 1993.5,218.9 1996.1,218.8 1998.7,218.5 2001.3,218.5 2003.9,218.5 2006.5,218.3 2009.1,218.0 2011.7,218.0 2014.2,217.8 2016.8,217.8 2019.4,217.7 2022.0,217.7 2024.6,217.8 2027.2,217.5 2029.8,217.6 2032.4,217.7 2034.9,217.6 2037.5,217.8 2040.1,217.6 2042.7,217.4 2045.3,217.6 2047.9,217.4 2050.5,217.3 2053.1,217.3 2055.6,217.0 2058.2,217.0 2060.8,216.9 2063.4,216.9 2066.0,216.8 2068.6,216.5 2071.2,216.5 2073.8,216.7 2076.4,216.4 2078.9,216.5 2081.5,216.5 2084.1,216.4 2086.7,216.4 2089.3,216.5 2091.9,216.6 2094.5,216.8 2097.1,216.7 2099.6,217.0 2102.2,217.0 2104.8,216.8 2107.4,216.8 2110.0,216.6 2112.6,216.4 2115.2,216.3 2117.8,216.2 2120.4,216.1 2122.9,216.0 2125.5,215.8 2128.1,215.8 2130.7,215.7 2133.3,215.5 2135.9,215.5 2138.5,215.3 2141.1,215.2 2143.6,215.2 2146.2,215.1 2148.8,215.0 2151.4,214.8 2154.0,214.8 2156.6,214.9 2159.2,215.0 2161.8,215.0 2164.4,215.1 2166.9,215.0 2169.5,214.9 2172.1,214.8 2174.7,214.6 2177.3,214.2 2179.9,214.1 2182.5,213.9 2185.1,213.7 2187.6,213.8 2190.2,213.9 2192.8,213.9 2195.4,213.8 2198.0,213.7 2200.6,213.7 2203.2,213.5 2205.8,213.4 2208.4,213.5 2210.9,213.4 2213.5,213.5" fill="none" stroke="#93cfc5" stroke-width="3.2" stroke-linejoin="round" stroke-linecap="round"/>
<polyline points="1408.0,930.2 1408.0,912.5 1408.1,892.4 1408.1,875.6 1408.1,861.3 1408.1,849.0 1408.2,838.2 1408.2,828.5 1408.2,819.8 1408.2,811.9 1408.3,804.6 1408.3,797.9 1408.3,791.6 1408.3,785.8 1408.4,780.3 1408.4,775.1 1408.4,770.3 1408.5,765.5 1408.5,761.2 1408.5,756.5 1408.5,751.5 1408.6,746.3 1408.6,741.0 1408.6,735.5 1408.6,730.1 1408.7,724.8 1408.7,719.4 1408.7,714.0 1408.8,708.9 1408.8,703.7 1408.8,698.7 1408.8,693.6 1408.9,688.8 1408.9,684.0 1408.9,679.3 1408.9,674.7 1409.0,670.3 1409.0,666.0 1409.0,661.7 1409.0,657.6 1409.1,653.7 1409.1,649.8 1409.1,646.0 1409.2,642.4 1409.2,638.7 1409.2,635.2 1409.2,631.8 1409.3,628.5 1409.3,625.2 1409.3,622.2 1409.3,619.2 1409.4,616.1 1409.4,613.1 1409.4,610.3 1409.4,607.5 1409.5,604.5 1409.5,601.7 1409.5,599.0 1409.6,596.1 1409.6,593.6 1409.8,574.3 1410.0,556.8 1410.2,540.7 1410.4,525.9 1410.6,511.6 1410.8,498.0 1411.0,485.3 1411.2,473.9 1411.4,463.9 1411.6,455.0 1411.8,447.2 1412.0,440.1 1412.2,433.5 1412.4,427.4 1412.6,421.6 1412.8,416.4 1413.0,411.3 1413.2,406.4 1413.4,401.6 1413.6,397.1 1413.8,392.7 1414.0,388.5 1414.2,384.6 1414.4,381.0 1414.6,377.7 1414.8,374.8 1415.0,372.4 1415.2,370.2 1415.4,367.9 1415.6,365.9 1415.8,363.7 1416.0,361.7 1416.2,359.8 1416.4,357.9 1416.7,356.3 1416.9,354.5 1417.1,352.9 1417.3,351.3 1417.5,349.6 1417.7,348.3 1417.9,346.9 1418.1,345.3 1418.3,343.8 1418.5,342.6 1418.7,341.3 1418.9,340.2 1419.1,339.1 1419.3,337.8 1419.5,336.6 1419.7,335.2 1419.9,333.8 1420.1,332.7 1420.3,331.6 1420.5,330.7 1420.7,329.4 1420.9,328.2 1421.1,327.1 1421.3,326.1 1421.5,324.9 1421.7,324.0 1421.9,323.0 1422.1,321.8 1422.3,321.2 1422.5,319.9 1422.7,319.2 1422.9,318.5 1423.1,317.6 1423.3,316.7 1423.5,315.9 1423.7,315.3 1423.9,314.7 1424.1,313.9 1424.3,312.9 1424.5,312.4 1424.7,311.4 1424.9,310.6 1425.1,309.9 1425.3,309.0 1425.5,308.5 1425.7,307.8 1425.9,307.3 1426.1,306.5 1426.3,305.8 1426.5,304.9 1426.7,304.2 1426.9,303.5 1427.2,303.3 1427.4,302.9 1427.6,302.3 1427.8,301.9 1428.0,301.4 1428.2,300.9 1428.4,300.3 1428.6,299.9 1428.8,299.4 1429.0,298.8 1429.2,298.4 1429.4,298.0 1429.6,297.7 1429.8,297.4 1430.0,297.0 1430.2,296.4 1430.4,295.9 1430.6,295.5 1430.8,294.9 1431.0,294.5 1431.2,293.8 1431.4,293.4 1431.6,293.0 1431.8,292.4 1432.0,291.9 1432.2,291.6 1432.4,291.1 1432.6,290.3 1432.8,289.9 1433.0,289.4 1433.2,289.1 1433.4,288.6 1433.6,288.1 1433.8,287.8 1434.0,287.5 1434.2,287.2 1434.4,286.7 1434.6,286.5 1434.8,286.2 1435.0,285.9 1435.2,285.5 1435.4,285.1 1435.6,285.0 1435.8,284.5 1436.0,284.3 1436.2,283.6 1436.4,283.4 1436.6,283.0 1436.8,282.5 1437.0,282.0 1437.2,281.7 1437.4,281.4 1437.7,280.9 1437.9,280.7 1438.1,280.4 1438.3,280.2 1438.5,280.0 1438.7,279.8 1438.9,279.3 1439.1,278.8 1439.3,278.5 1439.5,278.0 1439.7,277.7 1442.3,274.4 1444.8,271.5 1447.4,268.5 1450.0,265.9 1452.6,263.3 1455.2,261.0 1457.8,258.9 1460.4,257.2 1463.0,255.4 1465.6,253.8 1468.1,252.6 1470.7,251.0 1473.3,249.9 1475.9,249.0 1478.5,248.0 1481.1,246.9 1483.7,245.7 1486.3,245.1 1488.8,244.4 1491.4,243.8 1494.0,243.0 1496.6,242.2 1499.2,240.9 1501.8,240.2 1504.4,239.6 1507.0,238.8 1509.6,238.4 1512.1,237.5 1514.7,236.7 1517.3,235.9 1519.9,235.5 1522.5,235.2 1525.1,234.5 1527.7,233.9 1530.3,233.3 1532.8,233.0 1535.4,232.3 1538.0,232.2 1540.6,231.8 1543.2,231.2 1545.8,230.9 1548.4,230.6 1551.0,230.2 1553.5,229.8 1556.1,229.6 1558.7,229.0 1561.3,228.5 1563.9,228.3 1566.5,228.2 1569.1,227.9 1571.7,227.5 1574.3,227.4 1576.8,227.2 1579.4,226.9 1582.0,226.6 1584.6,226.2 1587.2,226.0 1589.8,225.7 1592.4,225.5 1595.0,224.9 1597.5,224.7 1600.1,224.4 1602.7,223.9 1605.3,223.1 1607.9,223.0 1610.5,222.8 1613.1,222.5 1615.7,222.0 1618.3,221.7 1620.8,221.7 1623.4,221.6 1626.0,221.2 1628.6,221.2 1631.2,220.9 1633.8,220.7 1636.4,220.6 1639.0,220.6 1641.5,220.6 1644.1,220.8 1646.7,220.2 1649.3,220.1 1651.9,220.0 1654.5,219.8 1657.1,219.7 1659.7,219.4 1662.3,219.1 1664.8,218.8 1667.4,218.3 1670.0,218.2 1672.6,218.1 1675.2,218.0 1677.8,217.7 1680.4,217.2 1683.0,216.7 1685.5,216.9 1688.1,216.5 1690.7,216.4 1693.3,216.3 1695.9,216.2 1698.5,216.2 1701.1,216.1 1703.7,215.8 1706.2,215.7 1708.8,215.5 1711.4,215.3 1714.0,215.1 1716.6,214.7 1719.2,214.6 1721.8,214.7 1724.4,214.6 1727.0,214.5 1729.5,214.3 1732.1,214.0 1734.7,213.8 1737.3,213.5 1739.9,213.4 1742.5,213.6 1745.1,213.6 1747.7,213.5 1750.2,213.4 1752.8,213.3 1755.4,213.3 1758.0,213.3 1760.6,213.2 1763.2,213.3 1765.8,213.2 1768.4,213.1 1771.0,213.1 1773.5,213.0 1776.1,213.0 1778.7,212.8 1781.3,212.7 1783.9,212.6 1786.5,212.5 1789.1,212.1 1791.7,212.0 1794.2,211.7 1796.8,211.5 1799.4,211.4 1802.0,211.4 1804.6,211.0 1807.2,210.7 1809.8,210.7 1812.4,210.3 1815.0,210.1 1817.5,210.0 1820.1,209.8 1822.7,209.7 1825.3,209.7 1827.9,209.9 1830.5,210.0 1833.1,210.1 1835.7,209.9 1838.2,209.8 1840.8,209.4 1843.4,209.5 1846.0,209.5 1848.6,209.4 1851.2,209.4 1853.8,209.4 1856.4,209.3 1859.0,208.9 1861.5,208.7 1864.1,208.1 1866.7,207.9 1869.3,207.6 1871.9,207.4 1874.5,207.5 1877.1,207.6 1879.7,207.7 1882.2,207.7 1884.8,207.8 1887.4,207.5 1890.0,207.7 1892.6,207.4 1895.2,207.1 1897.8,207.1 1900.4,207.0 1902.9,207.4 1905.5,207.3 1908.1,207.4 1910.7,207.3 1913.3,207.2 1915.9,207.1 1918.5,206.8 1921.1,206.4 1923.7,206.1 1926.2,206.2 1928.8,206.0 1931.4,206.2 1934.0,206.2 1936.6,206.2 1939.2,206.0 1941.8,205.8 1944.4,205.9 1946.9,205.6 1949.5,205.5 1952.1,205.3 1954.7,205.2 1957.3,205.1 1959.9,205.2 1962.5,205.2 1965.1,205.0 1967.7,204.5 1970.2,204.4 1972.8,204.3 1975.4,204.5 1978.0,204.6 1980.6,204.7 1983.2,204.6 1985.8,204.8 1988.4,204.8 1990.9,204.8 1993.5,204.5 1996.1,204.4 1998.7,204.5 2001.3,204.5 2003.9,204.4 2006.5,204.5 2009.1,204.3 2011.7,204.3 2014.2,204.1 2016.8,204.1 2019.4,203.7 2022.0,203.7 2024.6,203.3 2027.2,203.0 2029.8,203.1 2032.4,203.2 2034.9,203.2 2037.5,203.0 2040.1,202.9 2042.7,203.0 2045.3,203.0 2047.9,203.0 2050.5,202.5 2053.1,202.6 2055.6,202.3 2058.2,202.4 2060.8,202.2 2063.4,202.2 2066.0,202.4 2068.6,202.2 2071.2,202.2 2073.8,202.3 2076.4,202.2 2078.9,202.1 2081.5,202.0 2084.1,201.8 2086.7,201.6 2089.3,201.9 2091.9,201.5 2094.5,201.5 2097.1,201.3 2099.6,201.3 2102.2,201.1 2104.8,201.2 2107.4,200.8 2110.0,200.7 2112.6,200.6 2115.2,200.5 2117.8,200.5 2120.4,200.4 2122.9,200.3 2125.5,200.4 2128.1,200.3 2130.7,200.4 2133.3,200.2 2135.9,200.3 2138.5,200.3 2141.1,200.5 2143.6,200.0 2146.2,200.2 2148.8,200.0 2151.4,199.8 2154.0,199.9 2156.6,199.8 2159.2,199.8 2161.8,199.5 2164.4,199.4 2166.9,199.2 2169.5,198.9 2172.1,199.1 2174.7,199.1 2177.3,198.8 2179.9,198.6 2182.5,198.7 2185.1,199.0 2187.6,199.1 2190.2,199.0 2192.8,198.6 2195.4,198.7 2198.0,198.7 2200.6,198.9 2203.2,198.9 2205.8,198.9 2208.4,198.7 2210.9,198.6 2213.5,198.7" fill="none" stroke="#467d95" stroke-width="3" stroke-linejoin="round" stroke-linecap="round"/>
<polyline points="1408.0,930.2 1408.0,913.9 1408.1,895.5 1408.1,880.0 1408.1,866.8 1408.1,855.4 1408.2,845.4 1408.2,836.5 1408.2,828.5 1408.2,821.2 1408.3,814.4 1408.3,808.2 1408.3,802.4 1408.3,797.0 1408.4,791.9 1408.4,787.2 1408.4,782.7 1408.5,778.5 1408.5,774.5 1408.5,770.2 1408.5,765.6 1408.6,760.9 1408.6,755.9 1408.6,750.9 1408.6,746.0 1408.7,741.1 1408.7,736.1 1408.7,731.2 1408.8,726.4 1408.8,721.7 1408.8,717.0 1408.8,712.2 1408.9,707.6 1408.9,703.2 1408.9,698.8 1408.9,694.7 1409.0,690.7 1409.0,686.7 1409.0,682.9 1409.0,679.2 1409.1,675.5 1409.1,671.9 1409.1,668.5 1409.2,665.2 1409.2,661.9 1409.2,658.7 1409.2,655.8 1409.3,652.9 1409.3,650.0 1409.3,647.2 1409.3,644.3 1409.4,641.4 1409.4,638.7 1409.4,636.0 1409.4,633.2 1409.5,630.5 1409.5,628.0 1409.5,625.3 1409.6,622.7 1409.6,620.2 1409.8,602.6 1410.0,586.4 1410.2,571.6 1410.4,557.9 1410.6,544.8 1410.8,532.2 1411.0,520.6 1411.2,509.9 1411.4,500.4 1411.6,492.5 1411.8,485.4 1412.0,479.1 1412.2,473.4 1412.4,467.9 1412.6,462.7 1412.8,457.7 1413.0,452.9 1413.2,448.2 1413.4,443.8 1413.6,439.5 1413.8,435.6 1414.0,431.9 1414.2,428.6 1414.4,425.6 1414.6,422.5 1414.8,419.8 1415.0,417.3 1415.2,415.1 1415.4,413.1 1415.6,411.0 1415.8,409.3 1416.0,407.4 1416.2,405.9 1416.4,404.3 1416.7,402.5 1416.9,400.9 1417.1,399.5 1417.3,398.1 1417.5,396.8 1417.7,395.5 1417.9,394.0 1418.1,392.6 1418.3,391.0 1418.5,389.7 1418.7,388.8 1418.9,387.5 1419.1,386.2 1419.3,385.0 1419.5,384.0 1419.7,382.7 1419.9,381.6 1420.1,380.4 1420.3,379.1 1420.5,377.7 1420.7,376.6 1420.9,375.5 1421.1,374.5 1421.3,373.4 1421.5,372.6 1421.7,371.5 1421.9,370.7 1422.1,370.0 1422.3,369.0 1422.5,368.1 1422.7,367.5 1422.9,366.7 1423.1,366.0 1423.3,365.2 1423.5,364.7 1423.7,364.0 1423.9,363.5 1424.1,362.8 1424.3,362.3 1424.5,361.7 1424.7,361.2 1424.9,360.3 1425.1,359.9 1425.3,359.4 1425.5,359.0 1425.7,358.5 1425.9,357.9 1426.1,357.4 1426.3,356.8 1426.5,356.3 1426.7,355.7 1426.9,355.1 1427.2,354.4 1427.4,353.7 1427.6,353.2 1427.8,352.5 1428.0,352.1 1428.2,351.2 1428.4,350.6 1428.6,350.0 1428.8,349.3 1429.0,348.8 1429.2,348.5 1429.4,347.9 1429.6,347.5 1429.8,347.2 1430.0,346.9 1430.2,346.5 1430.4,345.9 1430.6,345.4 1430.8,345.0 1431.0,344.6 1431.2,344.4 1431.4,343.8 1431.6,343.3 1431.8,342.9 1432.0,342.6 1432.2,341.8 1432.4,341.7 1432.6,341.2 1432.8,340.8 1433.0,340.6 1433.2,340.1 1433.4,339.9 1433.6,339.5 1433.8,339.1 1434.0,338.6 1434.2,338.2 1434.4,338.2 1434.6,337.8 1434.8,337.6 1435.0,337.3 1435.2,337.0 1435.4,336.7 1435.6,336.3 1435.8,335.7 1436.0,335.3 1436.2,335.4 1436.4,335.0 1436.6,334.8 1436.8,334.3 1437.0,334.2 1437.2,334.1 1437.4,333.7 1437.7,333.5 1437.9,332.9 1438.1,332.6 1438.3,332.4 1438.5,332.1 1438.7,331.6 1438.9,331.6 1439.1,331.2 1439.3,330.7 1439.5,330.7 1439.7,330.5 1442.3,327.5 1444.8,324.7 1447.4,322.0 1450.0,319.5 1452.6,317.4 1455.2,315.6 1457.8,313.7 1460.4,311.9 1463.0,310.1 1465.6,309.0 1468.1,307.7 1470.7,306.4 1473.3,305.1 1475.9,303.5 1478.5,302.6 1481.1,301.5 1483.7,300.8 1486.3,299.6 1488.8,298.7 1491.4,297.8 1494.0,297.1 1496.6,296.3 1499.2,295.8 1501.8,295.1 1504.4,294.4 1507.0,293.7 1509.6,293.2 1512.1,292.9 1514.7,292.7 1517.3,292.2 1519.9,291.8 1522.5,290.9 1525.1,290.6 1527.7,290.3 1530.3,289.7 1532.8,289.2 1535.4,288.7 1538.0,288.1 1540.6,287.8 1543.2,287.5 1545.8,287.1 1548.4,286.7 1551.0,286.2 1553.5,285.6 1556.1,285.1 1558.7,284.7 1561.3,284.4 1563.9,284.0 1566.5,283.7 1569.1,283.5 1571.7,283.1 1574.3,283.0 1576.8,282.6 1579.4,282.4 1582.0,281.9 1584.6,281.2 1587.2,281.0 1589.8,280.8 1592.4,280.7 1595.0,280.7 1597.5,280.4 1600.1,280.3 1602.7,280.0 1605.3,279.7 1607.9,279.6 1610.5,279.6 1613.1,279.4 1615.7,279.2 1618.3,279.1 1620.8,279.1 1623.4,279.3 1626.0,279.1 1628.6,278.7 1631.2,278.5 1633.8,278.1 1636.4,277.9 1639.0,277.6 1641.5,277.6 1644.1,277.3 1646.7,277.1 1649.3,276.7 1651.9,276.3 1654.5,276.1 1657.1,275.7 1659.7,275.6 1662.3,275.4 1664.8,275.4 1667.4,275.0 1670.0,274.9 1672.6,274.7 1675.2,274.4 1677.8,274.3 1680.4,274.1 1683.0,274.1 1685.5,274.2 1688.1,274.2 1690.7,274.1 1693.3,274.2 1695.9,274.1 1698.5,273.9 1701.1,273.7 1703.7,273.6 1706.2,273.6 1708.8,273.3 1711.4,272.8 1714.0,272.9 1716.6,272.4 1719.2,272.6 1721.8,272.6 1724.4,272.3 1727.0,272.2 1729.5,271.8 1732.1,271.6 1734.7,271.2 1737.3,271.2 1739.9,271.0 1742.5,270.7 1745.1,270.6 1747.7,270.6 1750.2,270.5 1752.8,270.4 1755.4,270.6 1758.0,270.2 1760.6,269.6 1763.2,269.2 1765.8,268.9 1768.4,269.0 1771.0,269.1 1773.5,269.1 1776.1,268.7 1778.7,268.6 1781.3,268.6 1783.9,268.4 1786.5,268.2 1789.1,268.4 1791.7,268.2 1794.2,268.3 1796.8,268.3 1799.4,268.4 1802.0,268.6 1804.6,268.7 1807.2,268.4 1809.8,268.1 1812.4,267.8 1815.0,267.8 1817.5,268.0 1820.1,268.0 1822.7,267.9 1825.3,268.0 1827.9,267.7 1830.5,267.5 1833.1,267.3 1835.7,266.8 1838.2,266.6 1840.8,266.6 1843.4,266.3 1846.0,266.5 1848.6,266.1 1851.2,266.3 1853.8,266.1 1856.4,265.8 1859.0,265.7 1861.5,265.9 1864.1,265.5 1866.7,265.4 1869.3,265.4 1871.9,265.5 1874.5,265.6 1877.1,265.7 1879.7,265.6 1882.2,265.7 1884.8,265.6 1887.4,265.6 1890.0,265.6 1892.6,265.9 1895.2,265.8 1897.8,265.5 1900.4,265.3 1902.9,265.4 1905.5,265.3 1908.1,265.1 1910.7,264.7 1913.3,264.8 1915.9,264.8 1918.5,264.7 1921.1,264.4 1923.7,264.2 1926.2,264.2 1928.8,264.0 1931.4,263.6 1934.0,263.3 1936.6,263.3 1939.2,263.2 1941.8,262.9 1944.4,263.0 1946.9,263.0 1949.5,263.0 1952.1,262.8 1954.7,262.5 1957.3,262.4 1959.9,262.4 1962.5,262.3 1965.1,262.2 1967.7,262.2 1970.2,262.3 1972.8,262.3 1975.4,262.2 1978.0,262.0 1980.6,262.2 1983.2,262.3 1985.8,262.3 1988.4,262.1 1990.9,261.7 1993.5,262.0 1996.1,262.0 1998.7,261.8 2001.3,261.5 2003.9,261.7 2006.5,261.5 2009.1,261.4 2011.7,261.5 2014.2,261.4 2016.8,261.2 2019.4,261.0 2022.0,260.6 2024.6,260.6 2027.2,260.6 2029.8,260.9 2032.4,260.9 2034.9,260.7 2037.5,260.6 2040.1,260.5 2042.7,260.5 2045.3,260.3 2047.9,260.5 2050.5,260.2 2053.1,260.2 2055.6,260.1 2058.2,259.8 2060.8,259.9 2063.4,259.4 2066.0,259.4 2068.6,259.5 2071.2,259.1 2073.8,259.0 2076.4,259.0 2078.9,259.3 2081.5,259.2 2084.1,259.4 2086.7,259.3 2089.3,259.4 2091.9,259.1 2094.5,259.3 2097.1,259.4 2099.6,259.5 2102.2,259.8 2104.8,259.8 2107.4,259.6 2110.0,259.8 2112.6,259.4 2115.2,259.5 2117.8,259.2 2120.4,259.3 2122.9,258.9 2125.5,258.7 2128.1,258.8 2130.7,259.0 2133.3,258.9 2135.9,259.0 2138.5,258.9 2141.1,258.8 2143.6,258.9 2146.2,258.5 2148.8,258.4 2151.4,258.7 2154.0,258.5 2156.6,258.5 2159.2,258.3 2161.8,258.5 2164.4,258.4 2166.9,258.3 2169.5,258.0 2172.1,258.0 2174.7,257.5 2177.3,257.4 2179.9,257.2 2182.5,257.1 2185.1,257.6 2187.6,257.6 2190.2,257.2 2192.8,257.4 2195.4,257.4 2198.0,257.5 2200.6,257.5 2203.2,257.2 2205.8,257.0 2208.4,257.1 2210.9,256.9 2213.5,257.1" fill="none" stroke="#de8598" stroke-width="3" stroke-linejoin="round" stroke-linecap="round"/>
<polyline points="1408.0,930.2 1408.0,913.6 1408.1,894.8 1408.1,879.0 1408.1,865.6 1408.1,854.0 1408.2,843.9 1408.2,834.7 1408.2,826.5 1408.2,819.1 1408.3,812.2 1408.3,805.9 1408.3,800.1 1408.3,794.6 1408.4,789.4 1408.4,784.5 1408.4,779.9 1408.5,775.5 1408.5,771.3 1408.5,766.9 1408.5,762.2 1408.6,757.4 1408.6,752.5 1408.6,747.5 1408.6,742.4 1408.7,737.3 1408.7,732.2 1408.7,727.1 1408.8,722.2 1408.8,717.3 1408.8,712.5 1408.8,707.8 1408.9,703.2 1408.9,698.7 1408.9,694.3 1408.9,690.0 1409.0,685.8 1409.0,681.8 1409.0,677.9 1409.0,674.0 1409.1,670.3 1409.1,666.7 1409.1,663.3 1409.2,659.8 1409.2,656.5 1409.2,653.2 1409.2,650.2 1409.3,647.1 1409.3,644.1 1409.3,641.3 1409.3,638.4 1409.4,635.6 1409.4,632.9 1409.4,630.1 1409.4,627.4 1409.5,624.6 1409.5,622.1 1409.5,619.5 1409.6,617.0 1409.6,614.4 1409.8,596.5 1410.0,580.0 1410.2,565.0 1410.4,551.3 1410.6,537.7 1410.8,524.8 1411.0,512.7 1411.2,501.9 1411.4,492.3 1411.6,484.1 1411.8,476.8 1412.0,470.1 1412.2,464.1 1412.4,458.4 1412.6,453.1 1412.8,448.1 1413.0,443.1 1413.2,438.3 1413.4,433.8 1413.6,429.7 1413.8,425.9 1414.0,422.2 1414.2,418.7 1414.4,415.7 1414.6,412.8 1414.8,409.9 1415.0,407.5 1415.2,405.2 1415.4,403.1 1415.6,401.1 1415.8,399.2 1416.0,397.4 1416.2,395.6 1416.4,394.0 1416.7,392.2 1416.9,390.3 1417.1,388.8 1417.3,387.1 1417.5,385.6 1417.7,384.0 1417.9,382.5 1418.1,381.1 1418.3,379.7 1418.5,378.4 1418.7,377.0 1418.9,375.7 1419.1,374.5 1419.3,373.2 1419.5,371.7 1419.7,370.6 1419.9,369.4 1420.1,368.3 1420.3,367.2 1420.5,366.2 1420.7,365.3 1420.9,364.3 1421.1,363.4 1421.3,362.4 1421.5,361.6 1421.7,360.8 1421.9,359.8 1422.1,358.8 1422.3,357.9 1422.5,357.2 1422.7,356.4 1422.9,355.8 1423.1,355.0 1423.3,354.4 1423.5,353.5 1423.7,352.7 1423.9,352.2 1424.1,351.3 1424.3,350.7 1424.5,350.1 1424.7,349.5 1424.9,349.1 1425.1,348.5 1425.3,347.9 1425.5,347.1 1425.7,346.3 1425.9,345.7 1426.1,345.3 1426.3,344.6 1426.5,344.1 1426.7,343.4 1426.9,342.6 1427.2,342.2 1427.4,341.7 1427.6,340.9 1427.8,340.3 1428.0,339.8 1428.2,339.3 1428.4,338.8 1428.6,338.6 1428.8,338.1 1429.0,337.7 1429.2,337.2 1429.4,336.6 1429.6,336.2 1429.8,335.9 1430.0,335.6 1430.2,335.1 1430.4,334.6 1430.6,334.1 1430.8,333.8 1431.0,333.1 1431.2,332.9 1431.4,332.5 1431.6,331.9 1431.8,331.6 1432.0,331.1 1432.2,330.5 1432.4,330.3 1432.6,329.7 1432.8,329.3 1433.0,328.9 1433.2,328.6 1433.4,328.1 1433.6,327.9 1433.8,327.6 1434.0,327.4 1434.2,326.9 1434.4,326.6 1434.6,326.3 1434.8,325.6 1435.0,325.3 1435.2,325.1 1435.4,324.8 1435.6,324.6 1435.8,324.3 1436.0,323.9 1436.2,323.5 1436.4,323.0 1436.6,322.6 1436.8,322.2 1437.0,321.7 1437.2,321.4 1437.4,321.2 1437.7,320.9 1437.9,320.7 1438.1,320.4 1438.3,320.0 1438.5,319.7 1438.7,319.6 1438.9,319.2 1439.1,319.1 1439.3,318.9 1439.5,318.8 1439.7,318.6 1442.3,315.5 1444.8,312.7 1447.4,310.1 1450.0,307.6 1452.6,305.3 1455.2,303.3 1457.8,301.4 1460.4,300.0 1463.0,298.4 1465.6,296.6 1468.1,295.3 1470.7,294.1 1473.3,292.8 1475.9,291.7 1478.5,290.6 1481.1,289.6 1483.7,288.7 1486.3,287.8 1488.8,287.0 1491.4,286.3 1494.0,285.5 1496.6,284.8 1499.2,283.9 1501.8,283.3 1504.4,282.6 1507.0,282.1 1509.6,281.4 1512.1,280.9 1514.7,280.3 1517.3,279.7 1519.9,279.1 1522.5,278.4 1525.1,278.0 1527.7,277.5 1530.3,277.1 1532.8,276.6 1535.4,276.3 1538.0,275.9 1540.6,275.4 1543.2,274.9 1545.8,274.5 1548.4,274.3 1551.0,273.9 1553.5,273.5 1556.1,273.4 1558.7,273.1 1561.3,272.9 1563.9,272.4 1566.5,272.3 1569.1,271.9 1571.7,271.5 1574.3,271.1 1576.8,270.7 1579.4,270.3 1582.0,270.3 1584.6,269.8 1587.2,269.5 1589.8,269.2 1592.4,268.8 1595.0,268.5 1597.5,268.2 1600.1,267.8 1602.7,267.5 1605.3,267.1 1607.9,266.9 1610.5,266.7 1613.1,266.5 1615.7,266.3 1618.3,266.0 1620.8,265.7 1623.4,265.6 1626.0,265.2 1628.6,265.0 1631.2,264.9 1633.8,264.6 1636.4,264.2 1639.0,264.1 1641.5,264.0 1644.1,263.7 1646.7,263.4 1649.3,263.2 1651.9,262.8 1654.5,262.6 1657.1,262.4 1659.7,262.1 1662.3,261.7 1664.8,261.7 1667.4,261.5 1670.0,261.3 1672.6,261.4 1675.2,261.3 1677.8,261.2 1680.4,261.2 1683.0,261.1 1685.5,261.2 1688.1,261.0 1690.7,261.0 1693.3,260.8 1695.9,260.7 1698.5,260.6 1701.1,260.6 1703.7,260.6 1706.2,260.6 1708.8,260.4 1711.4,260.1 1714.0,260.1 1716.6,260.0 1719.2,259.6 1721.8,259.3 1724.4,259.0 1727.0,258.8 1729.5,258.5 1732.1,258.4 1734.7,258.4 1737.3,258.3 1739.9,258.3 1742.5,258.0 1745.1,257.9 1747.7,257.7 1750.2,257.7 1752.8,257.6 1755.4,257.4 1758.0,257.3 1760.6,257.2 1763.2,257.2 1765.8,256.9 1768.4,257.1 1771.0,257.1 1773.5,256.9 1776.1,256.6 1778.7,256.3 1781.3,256.2 1783.9,255.8 1786.5,255.4 1789.1,255.2 1791.7,254.9 1794.2,254.7 1796.8,254.7 1799.4,254.7 1802.0,254.5 1804.6,254.3 1807.2,254.0 1809.8,253.9 1812.4,253.8 1815.0,253.9 1817.5,253.9 1820.1,253.8 1822.7,254.0 1825.3,254.3 1827.9,254.2 1830.5,254.0 1833.1,254.0 1835.7,253.9 1838.2,253.7 1840.8,253.6 1843.4,253.8 1846.0,253.6 1848.6,253.7 1851.2,253.7 1853.8,253.5 1856.4,253.4 1859.0,253.4 1861.5,253.2 1864.1,253.0 1866.7,252.8 1869.3,252.8 1871.9,252.7 1874.5,252.6 1877.1,252.5 1879.7,252.4 1882.2,252.1 1884.8,252.1 1887.4,252.1 1890.0,251.9 1892.6,251.7 1895.2,251.8 1897.8,251.9 1900.4,251.8 1902.9,251.5 1905.5,251.6 1908.1,251.5 1910.7,251.4 1913.3,251.3 1915.9,251.4 1918.5,251.2 1921.1,251.2 1923.7,251.1 1926.2,250.7 1928.8,250.8 1931.4,250.6 1934.0,250.3 1936.6,250.2 1939.2,250.0 1941.8,250.4 1944.4,250.4 1946.9,250.5 1949.5,250.7 1952.1,250.7 1954.7,250.5 1957.3,250.5 1959.9,250.6 1962.5,250.7 1965.1,250.9 1967.7,250.5 1970.2,250.8 1972.8,250.8 1975.4,250.5 1978.0,250.4 1980.6,250.2 1983.2,249.8 1985.8,249.6 1988.4,249.4 1990.9,249.2 1993.5,249.0 1996.1,249.1 1998.7,248.7 2001.3,248.5 2003.9,248.3 2006.5,248.3 2009.1,248.1 2011.7,247.9 2014.2,247.9 2016.8,248.0 2019.4,247.9 2022.0,247.6 2024.6,247.5 2027.2,247.6 2029.8,247.7 2032.4,247.6 2034.9,247.6 2037.5,247.6 2040.1,247.7 2042.7,247.6 2045.3,247.4 2047.9,247.2 2050.5,247.3 2053.1,247.3 2055.6,247.2 2058.2,247.1 2060.8,247.5 2063.4,247.7 2066.0,247.4 2068.6,247.2 2071.2,247.2 2073.8,247.2 2076.4,247.1 2078.9,246.9 2081.5,246.8 2084.1,246.9 2086.7,247.1 2089.3,246.9 2091.9,246.9 2094.5,246.8 2097.1,246.6 2099.6,246.4 2102.2,246.2 2104.8,246.3 2107.4,246.3 2110.0,246.2 2112.6,246.1 2115.2,246.0 2117.8,245.9 2120.4,246.0 2122.9,245.9 2125.5,245.6 2128.1,245.8 2130.7,245.7 2133.3,245.6 2135.9,245.7 2138.5,245.5 2141.1,245.4 2143.6,244.9 2146.2,244.7 2148.8,244.6 2151.4,244.7 2154.0,244.7 2156.6,244.8 2159.2,244.5 2161.8,244.5 2164.4,244.5 2166.9,244.2 2169.5,244.3 2172.1,244.2 2174.7,244.1 2177.3,244.4 2179.9,244.3 2182.5,244.4 2185.1,244.3 2187.6,244.4 2190.2,244.2 2192.8,244.1 2195.4,244.1 2198.0,244.0 2200.6,243.9 2203.2,243.8 2205.8,243.8 2208.4,243.6 2210.9,243.6 2213.5,243.6" fill="none" stroke="#ffa077" stroke-width="3" stroke-linejoin="round" stroke-linecap="round"/>
<polyline points="1408.0,930.2 1408.0,913.7 1408.1,895.0 1408.1,879.2 1408.1,865.9 1408.1,854.3 1408.2,844.2 1408.2,835.1 1408.2,826.9 1408.2,819.5 1408.3,812.7 1408.3,806.4 1408.3,800.5 1408.3,795.0 1408.4,790.0 1408.4,785.1 1408.4,780.5 1408.5,776.2 1408.5,772.1 1408.5,767.7 1408.5,763.1 1408.6,758.3 1408.6,753.3 1408.6,748.4 1408.6,743.3 1408.7,738.2 1408.7,733.2 1408.7,728.2 1408.8,723.3 1408.8,718.4 1408.8,713.6 1408.8,708.9 1408.9,704.4 1408.9,699.9 1408.9,695.5 1408.9,691.2 1409.0,687.0 1409.0,683.0 1409.0,679.0 1409.0,675.2 1409.1,671.4 1409.1,667.8 1409.1,664.4 1409.2,661.0 1409.2,657.6 1409.2,654.5 1409.2,651.3 1409.3,648.3 1409.3,645.4 1409.3,642.6 1409.3,639.7 1409.4,636.8 1409.4,634.0 1409.4,631.4 1409.4,628.5 1409.5,625.9 1409.5,623.2 1409.5,620.7 1409.6,618.0 1409.6,615.4 1409.8,597.4 1410.0,581.2 1410.2,566.1 1410.4,552.4 1410.6,539.0 1410.8,526.2 1411.0,514.5 1411.2,503.9 1411.4,494.5 1411.6,486.5 1411.8,479.5 1412.0,472.9 1412.2,466.7 1412.4,461.2 1412.6,455.7 1412.8,450.7 1413.0,445.7 1413.2,441.1 1413.4,436.5 1413.6,432.3 1413.8,428.3 1414.0,424.3 1414.2,420.8 1414.4,417.3 1414.6,414.4 1414.8,411.5 1415.0,409.2 1415.2,407.2 1415.4,405.3 1415.6,403.5 1415.8,401.5 1416.0,399.7 1416.2,397.9 1416.4,395.9 1416.7,394.0 1416.9,392.3 1417.1,390.7 1417.3,389.3 1417.5,387.9 1417.7,386.3 1417.9,384.8 1418.1,383.1 1418.3,381.6 1418.5,380.0 1418.7,378.9 1418.9,378.0 1419.1,376.8 1419.3,375.7 1419.5,374.6 1419.7,373.6 1419.9,372.7 1420.1,371.7 1420.3,370.5 1420.5,369.4 1420.7,368.4 1420.9,367.4 1421.1,366.4 1421.3,365.4 1421.5,364.6 1421.7,363.7 1421.9,362.5 1422.1,361.8 1422.3,360.7 1422.5,360.0 1422.7,359.3 1422.9,358.4 1423.1,357.6 1423.3,356.8 1423.5,356.0 1423.7,355.4 1423.9,354.9 1424.1,354.5 1424.3,353.9 1424.5,353.2 1424.7,352.3 1424.9,351.7 1425.1,350.8 1425.3,350.2 1425.5,349.4 1425.7,348.9 1425.9,348.1 1426.1,347.6 1426.3,346.9 1426.5,346.4 1426.7,345.6 1426.9,345.0 1427.2,344.1 1427.4,343.6 1427.6,343.1 1427.8,342.9 1428.0,342.3 1428.2,341.5 1428.4,341.1 1428.6,340.6 1428.8,340.0 1429.0,339.6 1429.2,339.2 1429.4,338.8 1429.6,338.1 1429.8,337.8 1430.0,337.3 1430.2,337.0 1430.4,336.5 1430.6,336.0 1430.8,335.5 1431.0,335.1 1431.2,335.0 1431.4,334.7 1431.6,334.3 1431.8,333.7 1432.0,333.4 1432.2,333.0 1432.4,332.8 1432.6,332.6 1432.8,332.2 1433.0,331.8 1433.2,331.4 1433.4,331.2 1433.6,330.8 1433.8,330.5 1434.0,330.0 1434.2,329.7 1434.4,329.1 1434.6,328.8 1434.8,328.7 1435.0,328.5 1435.2,328.1 1435.4,327.6 1435.6,327.1 1435.8,326.8 1436.0,326.4 1436.2,326.1 1436.4,325.6 1436.6,325.4 1436.8,324.8 1437.0,324.7 1437.2,324.3 1437.4,324.4 1437.7,324.1 1437.9,323.7 1438.1,323.3 1438.3,323.0 1438.5,322.9 1438.7,322.7 1438.9,322.4 1439.1,322.1 1439.3,321.8 1439.5,321.7 1439.7,321.5 1442.3,318.4 1444.8,315.5 1447.4,312.9 1450.0,310.3 1452.6,308.2 1455.2,306.0 1457.8,304.0 1460.4,302.2 1463.0,300.5 1465.6,299.2 1468.1,297.8 1470.7,296.5 1473.3,295.4 1475.9,294.2 1478.5,293.0 1481.1,292.2 1483.7,291.2 1486.3,290.6 1488.8,289.5 1491.4,288.7 1494.0,288.2 1496.6,287.6 1499.2,287.0 1501.8,286.6 1504.4,285.9 1507.0,285.1 1509.6,284.7 1512.1,284.0 1514.7,283.3 1517.3,282.5 1519.9,281.8 1522.5,281.3 1525.1,280.6 1527.7,280.2 1530.3,279.7 1532.8,279.1 1535.4,278.6 1538.0,277.7 1540.6,277.4 1543.2,276.9 1545.8,276.6 1548.4,276.1 1551.0,275.6 1553.5,275.5 1556.1,275.3 1558.7,275.0 1561.3,274.6 1563.9,274.2 1566.5,273.7 1569.1,273.1 1571.7,272.9 1574.3,272.7 1576.8,272.5 1579.4,271.9 1582.0,271.5 1584.6,271.2 1587.2,270.9 1589.8,270.8 1592.4,270.3 1595.0,270.0 1597.5,269.7 1600.1,269.5 1602.7,269.3 1605.3,269.3 1607.9,269.2 1610.5,268.9 1613.1,268.4 1615.7,268.4 1618.3,268.3 1620.8,268.3 1623.4,268.1 1626.0,267.7 1628.6,267.3 1631.2,267.1 1633.8,267.0 1636.4,266.8 1639.0,266.5 1641.5,266.3 1644.1,266.0 1646.7,265.7 1649.3,265.5 1651.9,265.2 1654.5,265.0 1657.1,264.4 1659.7,264.0 1662.3,263.9 1664.8,264.0 1667.4,263.9 1670.0,263.9 1672.6,263.7 1675.2,263.6 1677.8,263.5 1680.4,263.3 1683.0,263.5 1685.5,263.5 1688.1,263.6 1690.7,263.9 1693.3,263.6 1695.9,263.6 1698.5,263.7 1701.1,263.6 1703.7,263.4 1706.2,263.4 1708.8,263.2 1711.4,263.0 1714.0,262.6 1716.6,262.2 1719.2,261.9 1721.8,261.2 1724.4,261.1 1727.0,260.8 1729.5,260.4 1732.1,260.6 1734.7,260.7 1737.3,260.4 1739.9,259.9 1742.5,259.8 1745.1,259.7 1747.7,259.6 1750.2,259.3 1752.8,259.1 1755.4,259.3 1758.0,259.5 1760.6,259.8 1763.2,259.4 1765.8,259.3 1768.4,259.3 1771.0,259.0 1773.5,259.0 1776.1,259.2 1778.7,259.4 1781.3,259.5 1783.9,259.3 1786.5,259.2 1789.1,259.4 1791.7,259.5 1794.2,259.4 1796.8,259.1 1799.4,258.9 1802.0,259.2 1804.6,259.0 1807.2,259.1 1809.8,259.0 1812.4,258.5 1815.0,258.1 1817.5,258.0 1820.1,257.6 1822.7,257.3 1825.3,256.9 1827.9,256.7 1830.5,256.6 1833.1,256.7 1835.7,256.8 1838.2,256.7 1840.8,256.2 1843.4,256.3 1846.0,256.0 1848.6,256.0 1851.2,256.1 1853.8,256.2 1856.4,256.2 1859.0,256.4 1861.5,256.3 1864.1,256.4 1866.7,256.4 1869.3,256.3 1871.9,256.0 1874.5,255.7 1877.1,255.6 1879.7,255.5 1882.2,255.5 1884.8,255.3 1887.4,255.1 1890.0,255.1 1892.6,254.9 1895.2,254.7 1897.8,254.9 1900.4,254.9 1902.9,254.7 1905.5,254.6 1908.1,254.4 1910.7,254.3 1913.3,254.5 1915.9,254.3 1918.5,254.3 1921.1,254.2 1923.7,254.4 1926.2,254.3 1928.8,254.2 1931.4,254.1 1934.0,253.7 1936.6,253.1 1939.2,253.1 1941.8,253.4 1944.4,253.3 1946.9,253.4 1949.5,253.2 1952.1,253.0 1954.7,252.9 1957.3,252.7 1959.9,252.4 1962.5,252.2 1965.1,252.0 1967.7,251.9 1970.2,251.9 1972.8,251.9 1975.4,252.2 1978.0,252.0 1980.6,251.4 1983.2,251.1 1985.8,251.0 1988.4,251.0 1990.9,250.9 1993.5,250.9 1996.1,251.0 1998.7,250.8 2001.3,250.7 2003.9,250.7 2006.5,250.7 2009.1,250.8 2011.7,250.8 2014.2,250.5 2016.8,250.8 2019.4,250.6 2022.0,250.8 2024.6,250.6 2027.2,250.7 2029.8,250.7 2032.4,250.9 2034.9,250.9 2037.5,251.0 2040.1,251.2 2042.7,251.2 2045.3,251.1 2047.9,250.8 2050.5,250.7 2053.1,250.8 2055.6,250.7 2058.2,251.0 2060.8,251.1 2063.4,251.1 2066.0,251.1 2068.6,250.8 2071.2,250.5 2073.8,250.3 2076.4,250.4 2078.9,250.1 2081.5,250.1 2084.1,250.0 2086.7,249.9 2089.3,249.7 2091.9,249.6 2094.5,249.6 2097.1,249.4 2099.6,249.1 2102.2,248.9 2104.8,248.6 2107.4,248.7 2110.0,249.1 2112.6,249.1 2115.2,249.1 2117.8,249.2 2120.4,249.1 2122.9,249.1 2125.5,249.2 2128.1,249.3 2130.7,249.1 2133.3,249.1 2135.9,248.9 2138.5,249.0 2141.1,249.1 2143.6,249.1 2146.2,248.9 2148.8,248.3 2151.4,248.2 2154.0,248.0 2156.6,247.7 2159.2,247.4 2161.8,247.2 2164.4,247.0 2166.9,246.9 2169.5,246.8 2172.1,246.5 2174.7,246.6 2177.3,246.4 2179.9,246.4 2182.5,246.5 2185.1,246.4 2187.6,246.6 2190.2,246.6 2192.8,246.8 2195.4,246.7 2198.0,246.7 2200.6,246.9 2203.2,246.8 2205.8,246.7 2208.4,246.9 2210.9,247.1 2213.5,247.0" fill="none" stroke="#ffc264" stroke-width="3" stroke-linejoin="round" stroke-linecap="round"/>
</g>
<line x1="1944.4" y1="443.6" x2="2028.6" y2="443.6" stroke="#5c5c5c" stroke-width="4"/>
<line x1="1944.4" y1="491.6" x2="2028.6" y2="491.6" stroke="#ff6e93" stroke-width="4"/>
<line x1="1944.4" y1="542.0" x2="2028.6" y2="542.0" stroke="#ffb8c0" stroke-width="4"/>
<line x1="1944.4" y1="590.0" x2="2028.6" y2="590.0" stroke="#ffdccc" stroke-width="4"/>
<line x1="1944.4" y1="638.5" x2="2028.6" y2="638.5" stroke="#d8e4d2" stroke-width="4"/>
<line x1="1944.4" y1="687.5" x2="2028.6" y2="687.5" stroke="#a8c8c4" stroke-width="4"/>
<line x1="1944.4" y1="737.0" x2="2028.6" y2="737.0" stroke="#467d95" stroke-width="4"/>
<line x1="1944.4" y1="786.5" x2="2028.6" y2="786.5" stroke="#de8598" stroke-width="4"/>
<line x1="1944.4" y1="835.5" x2="2028.6" y2="835.5" stroke="#ffa077" stroke-width="4"/>
<line x1="1944.4" y1="885.0" x2="2028.6" y2="885.0" stroke="#ffc264" stroke-width="4"/>
<text x="2036.5" y="456.6" font-size="37.44" textLength="83.2" lengthAdjust="spacingAndGlyphs" style="" fill="#333" stroke="#333" stroke-width="0.7">CK-0</text>
<text x="2036.5" y="504.6" font-size="37.61" textLength="81.5" lengthAdjust="spacingAndGlyphs" style="" fill="#333" stroke="#333" stroke-width="0.7">CK-5</text>
<text x="2036.5" y="555.0" font-size="37.61" textLength="99.1" lengthAdjust="spacingAndGlyphs" style="" fill="#333" stroke="#333" stroke-width="0.7">CK-15</text>
<text x="2036.5" y="603.0" font-size="37.44" textLength="101.6" lengthAdjust="spacingAndGlyphs" style="" fill="#333" stroke="#333" stroke-width="0.7">CK-30</text>
<text x="2038.3" y="651.5" font-size="37.44" textLength="134.8" lengthAdjust="spacingAndGlyphs" style="" fill="#333" stroke="#333" stroke-width="0.7">YL28-L5</text>
<text x="2038.2" y="700.5" font-size="37.44" textLength="134.7" lengthAdjust="spacingAndGlyphs" style="" fill="#333" stroke="#333" stroke-width="0.7">YL28-L5</text>
<text x="2038.2" y="750.0" font-size="37.44" textLength="154.3" lengthAdjust="spacingAndGlyphs" style="" fill="#333" stroke="#333" stroke-width="0.7">YL28-L30</text>
<text x="2038.2" y="799.5" font-size="37.44" textLength="138.4" lengthAdjust="spacingAndGlyphs" style="" fill="#333" stroke="#333" stroke-width="0.7">YL28-H5</text>
<text x="2038.2" y="848.5" font-size="37.44" textLength="157.3" lengthAdjust="spacingAndGlyphs" style="" fill="#333" stroke="#333" stroke-width="0.7">YL28-H15</text>
<text x="2038.2" y="898.0" font-size="37.44" textLength="159.5" lengthAdjust="spacingAndGlyphs" style="" fill="#333" stroke="#333" stroke-width="0.7">YL28-H30</text>
<text x="1210.8" y="120.5" font-size="94.96" textLength="103.3" lengthAdjust="spacingAndGlyphs" style="" fill="#111">(b)</text>
<text x="1338.1" y="273.0" font-size="65.86" textLength="53.4" lengthAdjust="spacingAndGlyphs" style="" fill="#111">10</text>
<text x="1364.8" y="610.5" font-size="66.26" textLength="25.4" lengthAdjust="spacingAndGlyphs" style="" fill="#111">5</text>
<text x="1363.1" y="947.0" font-size="66.92" textLength="31.8" lengthAdjust="spacingAndGlyphs" style="" fill="#111">0</text>
<text x="1393.3" y="990.5" font-size="67.67" textLength="28.3" lengthAdjust="spacingAndGlyphs" style="" fill="#111">0</text>
<text x="1521.4" y="990.5" font-size="67.72" textLength="83.4" lengthAdjust="spacingAndGlyphs" style="" fill="#111">10k</text>
<text x="1679.4" y="990.5" font-size="67.72" textLength="85.9" lengthAdjust="spacingAndGlyphs" style="" fill="#111">20k</text>
<text x="1837.1" y="990.5" font-size="67.72" textLength="86.3" lengthAdjust="spacingAndGlyphs" style="" fill="#111">30k</text>
<text x="1996.9" y="990.5" font-size="67.72" textLength="84.6" lengthAdjust="spacingAndGlyphs" style="" fill="#111">40k</text>
<text x="2155.2" y="990.5" font-size="67.72" textLength="84.3" lengthAdjust="spacingAndGlyphs" style="" fill="#111">50k</text>
<text x="1603.4" y="1099.8" font-size="64.49" textLength="413.8" lengthAdjust="spacingAndGlyphs" style="" fill="#111">Number of tags</text>
<text transform="translate(1272.0,546.0) rotate(-90.00)" x="0" y="0" font-size="68.88" textLength="432.1" lengthAdjust="spacingAndGlyphs" text-anchor="middle" style="" fill="#111">Shannon index</text>
<g id="panelC">
<line x1="1163.2" y1="1631.1" x2="1157.9" y2="1203.0" stroke="#e8e8e8" stroke-width="2.0"/>
<line x1="968.1" y1="1930.5" x2="1163.2" y2="1631.1" stroke="#e8e8e8" stroke-width="2.0"/>
<line x1="1278.3" y1="1655.8" x2="1282.1" y2="1226.0" stroke="#e8e8e8" stroke-width="2.0"/>
<line x1="1093.9" y1="1962.0" x2="1278.3" y2="1655.8" stroke="#e8e8e8" stroke-width="2.0"/>
<line x1="1395.8" y1="1681.0" x2="1409.0" y2="1249.6" stroke="#e8e8e8" stroke-width="2.0"/>
<line x1="1222.3" y1="1994.1" x2="1395.8" y2="1681.0" stroke="#e8e8e8" stroke-width="2.0"/>
<line x1="1515.6" y1="1706.7" x2="1538.7" y2="1273.6" stroke="#e8e8e8" stroke-width="2.0"/>
<line x1="1353.7" y1="2027.0" x2="1515.6" y2="1706.7" stroke="#e8e8e8" stroke-width="2.0"/>
<line x1="1103.5" y1="1576.8" x2="1577.9" y2="1677.3" stroke="#e8e8e8" stroke-width="2.0"/>
<line x1="900.9" y1="1870.7" x2="1103.5" y2="1576.8" stroke="#e8e8e8" stroke-width="2.0"/>
<line x1="1101.6" y1="1495.2" x2="1583.3" y2="1594.7" stroke="#e8e8e8" stroke-width="2.0"/>
<line x1="894.9" y1="1784.8" x2="1101.6" y2="1495.2" stroke="#e8e8e8" stroke-width="2.0"/>
<line x1="1099.7" y1="1411.4" x2="1588.8" y2="1509.6" stroke="#e8e8e8" stroke-width="2.0"/>
<line x1="888.6" y1="1696.2" x2="1099.7" y2="1411.4" stroke="#e8e8e8" stroke-width="2.0"/>
<line x1="1097.7" y1="1325.2" x2="1594.4" y2="1422.0" stroke="#e8e8e8" stroke-width="2.0"/>
<line x1="882.2" y1="1604.9" x2="1097.7" y2="1325.2" stroke="#e8e8e8" stroke-width="2.0"/>
<line x1="1095.6" y1="1236.6" x2="1600.2" y2="1331.8" stroke="#e8e8e8" stroke-width="2.0"/>
<line x1="875.6" y1="1510.8" x2="1095.6" y2="1236.6" stroke="#e8e8e8" stroke-width="2.0"/>
<line x1="922.0" y1="1887.9" x2="892.3" y2="1437.9" stroke="#e8e8e8" stroke-width="2.0"/>
<line x1="922.0" y1="1887.9" x2="1433.1" y2="2014.1" stroke="#e8e8e8" stroke-width="2.0"/>
<line x1="975.1" y1="1809.7" x2="951.3" y2="1365.9" stroke="#e8e8e8" stroke-width="2.0"/>
<line x1="975.1" y1="1809.7" x2="1474.6" y2="1928.4" stroke="#e8e8e8" stroke-width="2.0"/>
<line x1="1025.5" y1="1735.2" x2="1007.3" y2="1297.6" stroke="#e8e8e8" stroke-width="2.0"/>
<line x1="1025.5" y1="1735.2" x2="1513.9" y2="1846.9" stroke="#e8e8e8" stroke-width="2.0"/>
<line x1="1073.5" y1="1664.1" x2="1060.4" y2="1232.8" stroke="#e8e8e8" stroke-width="2.0"/>
<line x1="1073.5" y1="1664.1" x2="1551.2" y2="1769.3" stroke="#e8e8e8" stroke-width="2.0"/>
<line x1="1094.5" y1="1191.2" x2="872.2" y2="1462.5" stroke="#8c8c8c" stroke-width="2.2" stroke-linecap="round"/>
<line x1="1094.5" y1="1191.2" x2="1603.1" y2="1285.6" stroke="#666" stroke-width="2.2" stroke-linecap="round"/>
<line x1="1603.1" y1="1285.6" x2="1418.6" y2="1581.6" stroke="#8c8c8c" stroke-width="2.2" stroke-linecap="round"/>
<line x1="872.2" y1="1462.5" x2="1418.6" y2="1581.6" stroke="#666" stroke-width="2.2" stroke-linecap="round"/>
<line x1="1094.5" y1="1191.2" x2="1104.4" y2="1618.5" stroke="#a4a4a4" stroke-width="3.8" stroke-linecap="round"/>
<line x1="872.2" y1="1462.5" x2="904.0" y2="1914.5" stroke="#3c3c3c" stroke-width="2.3" stroke-linecap="round"/>
<line x1="1603.1" y1="1285.6" x2="1575.1" y2="1719.5" stroke="#a4a4a4" stroke-width="3.6" stroke-linecap="round"/>
<line x1="1418.6" y1="1581.6" x2="1419.0" y2="2043.3" stroke="#acacac" stroke-width="3.6" stroke-linecap="round"/>
<line x1="1104.4" y1="1618.5" x2="904.0" y2="1914.5" stroke="#8c8c8c" stroke-width="2.2" stroke-linecap="round"/>
<line x1="1104.4" y1="1618.5" x2="1575.1" y2="1719.5" stroke="#666" stroke-width="2.2" stroke-linecap="round"/>
<line x1="904.0" y1="1914.5" x2="1419.0" y2="2043.3" stroke="#4a4a4a" stroke-width="2.6" stroke-linecap="round"/>
<line x1="1575.1" y1="1719.5" x2="1419.0" y2="2043.3" stroke="#4a4a4a" stroke-width="2.6" stroke-linecap="round"/>
<line x1="906.3" y1="1915.1" x2="908.9" y2="1911.2" stroke="#4a4a4a" stroke-width="2.2"/>
<line x1="968.1" y1="1930.5" x2="973.5" y2="1922.3" stroke="#4a4a4a" stroke-width="2.2"/>
<line x1="1030.6" y1="1946.2" x2="1033.2" y2="1942.2" stroke="#4a4a4a" stroke-width="2.2"/>
<line x1="1093.9" y1="1962.0" x2="1098.9" y2="1953.6" stroke="#4a4a4a" stroke-width="2.2"/>
<line x1="1157.8" y1="1978.0" x2="1160.1" y2="1973.9" stroke="#4a4a4a" stroke-width="2.2"/>
<line x1="1222.3" y1="1994.1" x2="1227.1" y2="1985.5" stroke="#4a4a4a" stroke-width="2.2"/>
<line x1="1287.7" y1="2010.4" x2="1289.9" y2="2006.3" stroke="#4a4a4a" stroke-width="2.2"/>
<line x1="1353.7" y1="2027.0" x2="1358.2" y2="2018.1" stroke="#4a4a4a" stroke-width="2.2"/>
<line x1="1433.1" y1="2014.1" x2="1422.5" y2="2011.5" stroke="#4a4a4a" stroke-width="2.2"/>
<line x1="1454.1" y1="1970.7" x2="1448.9" y2="1969.4" stroke="#4a4a4a" stroke-width="2.2"/>
<line x1="1474.6" y1="1928.4" x2="1464.2" y2="1925.9" stroke="#4a4a4a" stroke-width="2.2"/>
<line x1="1494.5" y1="1887.1" x2="1489.4" y2="1885.9" stroke="#4a4a4a" stroke-width="2.2"/>
<line x1="1513.9" y1="1846.9" x2="1503.7" y2="1844.5" stroke="#4a4a4a" stroke-width="2.2"/>
<line x1="1532.8" y1="1807.6" x2="1527.8" y2="1806.5" stroke="#4a4a4a" stroke-width="2.2"/>
<line x1="1551.2" y1="1769.3" x2="1541.3" y2="1767.1" stroke="#4a4a4a" stroke-width="2.2"/>
<line x1="1569.1" y1="1731.9" x2="1564.2" y2="1730.8" stroke="#4a4a4a" stroke-width="2.2"/>
<line x1="903.9" y1="1912.7" x2="907.3" y2="1913.6" stroke="#4a4a4a" stroke-width="2.4"/>
<line x1="900.9" y1="1870.7" x2="906.9" y2="1872.2" stroke="#4a4a4a" stroke-width="2.4"/>
<line x1="897.9" y1="1828.1" x2="901.4" y2="1828.9" stroke="#4a4a4a" stroke-width="2.4"/>
<line x1="894.9" y1="1784.8" x2="900.9" y2="1786.2" stroke="#4a4a4a" stroke-width="2.4"/>
<line x1="891.8" y1="1740.8" x2="895.3" y2="1741.7" stroke="#4a4a4a" stroke-width="2.4"/>
<line x1="888.6" y1="1696.2" x2="894.7" y2="1697.6" stroke="#4a4a4a" stroke-width="2.4"/>
<line x1="885.4" y1="1650.9" x2="889.0" y2="1651.7" stroke="#4a4a4a" stroke-width="2.4"/>
<line x1="882.2" y1="1604.9" x2="888.4" y2="1606.3" stroke="#4a4a4a" stroke-width="2.4"/>
<line x1="878.9" y1="1558.2" x2="882.5" y2="1559.0" stroke="#4a4a4a" stroke-width="2.4"/>
<line x1="875.6" y1="1510.8" x2="881.8" y2="1512.2" stroke="#4a4a4a" stroke-width="2.4"/>
<line x1="872.2" y1="1462.6" x2="875.9" y2="1463.4" stroke="#4a4a4a" stroke-width="2.4"/>
<circle cx="1057.2" cy="1290.8" r="14.3" fill="#ff0000"/>
<circle cx="1130.7" cy="1358.2" r="13.8" fill="#ff0000"/>
<circle cx="1120.6" cy="1412.5" r="13.0" fill="#000000"/>
<circle cx="1147.4" cy="1472.9" r="13.5" fill="#ff0000"/>
<circle cx="1172.0" cy="1542.9" r="13.6" fill="#a800ff"/>
<circle cx="1148.4" cy="1604.9" r="14.0" fill="#a800ff"/>
<circle cx="1170.9" cy="1677.7" r="13.6" fill="#a800ff"/>
<circle cx="1275.7" cy="1670.5" r="15.8" fill="#00fe0c"/>
<circle cx="1091.6" cy="1708.2" r="16.3" fill="#00fe0c"/>
<circle cx="1444.0" cy="1590.0" r="15.6" fill="#00fe0c"/>
<text x="1018.4" y="1323.0" font-size="35.26" textLength="15.1" lengthAdjust="spacingAndGlyphs" style="" fill="#151515" stroke="#151515" stroke-width="0.9">4</text>
<text x="1152.1" y="1363.0" font-size="37.76" textLength="17.2" lengthAdjust="spacingAndGlyphs" style="" fill="#151515" stroke="#151515" stroke-width="0.9">3</text>
<text x="1074.7" y="1450.7" font-size="36.52" textLength="9.9" lengthAdjust="spacingAndGlyphs" style="" fill="#151515" stroke="#151515" stroke-width="0.9">1</text>
<text x="1180.4" y="1482.0" font-size="38.07" textLength="18.7" lengthAdjust="spacingAndGlyphs" style="" fill="#151515" stroke="#151515" stroke-width="0.9">2</text>
<text x="1201.5" y="1553.6" font-size="33.53" textLength="17.4" lengthAdjust="spacingAndGlyphs" style="" fill="#151515" stroke="#151515" stroke-width="0.9">6</text>
<text x="1176.8" y="1617.7" font-size="35.27" textLength="16.4" lengthAdjust="spacingAndGlyphs" style="" fill="#151515" stroke="#151515" stroke-width="0.9">7</text>
<text x="1200.5" y="1719.0" font-size="38.17" textLength="15.4" lengthAdjust="spacingAndGlyphs" style="" fill="#151515" stroke="#151515" stroke-width="0.9">5</text>
<text x="1305.2" y="1693.7" font-size="35.95" textLength="17.2" lengthAdjust="spacingAndGlyphs" style="" fill="#151515" stroke="#151515" stroke-width="0.9">9</text>
<text x="1044.3" y="1745.6" font-size="36.69" textLength="31.9" lengthAdjust="spacingAndGlyphs" style="" fill="#151515" stroke="#151515" stroke-width="0.9">10</text>
<text x="1469.8" y="1610.0" font-size="37.59" textLength="16.0" lengthAdjust="spacingAndGlyphs" style="" fill="#151515" stroke="#151515" stroke-width="0.9">8</text>
<text x="790.4" y="1529.4" font-size="36.69" textLength="64.0" lengthAdjust="spacingAndGlyphs" style="" fill="#151515" stroke="#151515" stroke-width="1.0">0.04</text>
<text x="797.0" y="1620.2" font-size="36.69" textLength="64.2" lengthAdjust="spacingAndGlyphs" style="" fill="#151515" stroke="#151515" stroke-width="1.0">0.02</text>
<text x="801.0" y="1711.0" font-size="36.69" textLength="66.3" lengthAdjust="spacingAndGlyphs" style="" fill="#151515" stroke="#151515" stroke-width="1.0">0.00</text>
<text x="797.0" y="1800.4" font-size="36.69" textLength="77.5" lengthAdjust="spacingAndGlyphs" style="" fill="#151515" stroke="#151515" stroke-width="1.0">-0.02</text>
<text x="802.5" y="1885.8" font-size="34.59" textLength="74.6" lengthAdjust="spacingAndGlyphs" style="" fill="#151515" stroke="#151515" stroke-width="1.0">-0.04</text>
<text x="903.6" y="1979.0" font-size="34.59" textLength="76.8" lengthAdjust="spacingAndGlyphs" style="" fill="#151515" stroke="#151515" stroke-width="1.0">-0.10</text>
<text x="1038.6" y="2011.0" font-size="34.59" textLength="65.9" lengthAdjust="spacingAndGlyphs" style="" fill="#151515" stroke="#151515" stroke-width="1.0">0.00</text>
<text x="1162.6" y="2041.0" font-size="34.59" textLength="64.3" lengthAdjust="spacingAndGlyphs" style="" fill="#151515" stroke="#151515" stroke-width="1.0">0.10</text>
<text x="1285.2" y="2069.0" font-size="32.33" textLength="65.7" lengthAdjust="spacingAndGlyphs" style="" fill="#151515" stroke="#151515" stroke-width="1.0">0.20</text>
<text x="1565.2" y="1790.0" font-size="38.65" textLength="61.5" lengthAdjust="spacingAndGlyphs" style="" fill="#151515" stroke="#151515" stroke-width="1.0">0.03</text>
<text x="1526.6" y="1874.3" font-size="36.99" textLength="63.8" lengthAdjust="spacingAndGlyphs" style="" fill="#151515" stroke="#151515" stroke-width="1.0">0.00</text>
<text x="1490.5" y="1948.0" font-size="38.65" textLength="74.3" lengthAdjust="spacingAndGlyphs" style="" fill="#151515" stroke="#151515" stroke-width="1.0">-0.03</text>
<text x="1439.1" y="2031.3" font-size="35.49" textLength="76.3" lengthAdjust="spacingAndGlyphs" style="" fill="#151515" stroke="#151515" stroke-width="1.0">-0.06</text>
<text x="736.5" y="1309.5" font-size="77.81" textLength="82.4" lengthAdjust="spacingAndGlyphs" style="" fill="#111">(c)</text>
<text transform="translate(727.0,1700.3) rotate(86.00)" x="0" y="0" font-size="43.95" textLength="217.0" lengthAdjust="spacingAndGlyphs" text-anchor="middle" style="" fill="#111">PC3 (3.40%)</text>
<text transform="translate(1099.6,2077.5) rotate(13.20)" x="0" y="0" font-size="41.79" textLength="236.0" lengthAdjust="spacingAndGlyphs" text-anchor="middle" style="" fill="#111">PC1 (79.70%)</text>
<text transform="translate(1623.7,1916.8) rotate(-64.30)" x="0" y="0" font-size="41.79" textLength="214.0" lengthAdjust="spacingAndGlyphs" text-anchor="middle" style="" fill="#111">PC2 (8.30%)</text>
</g>
</g>
</svg>
</body></html>
